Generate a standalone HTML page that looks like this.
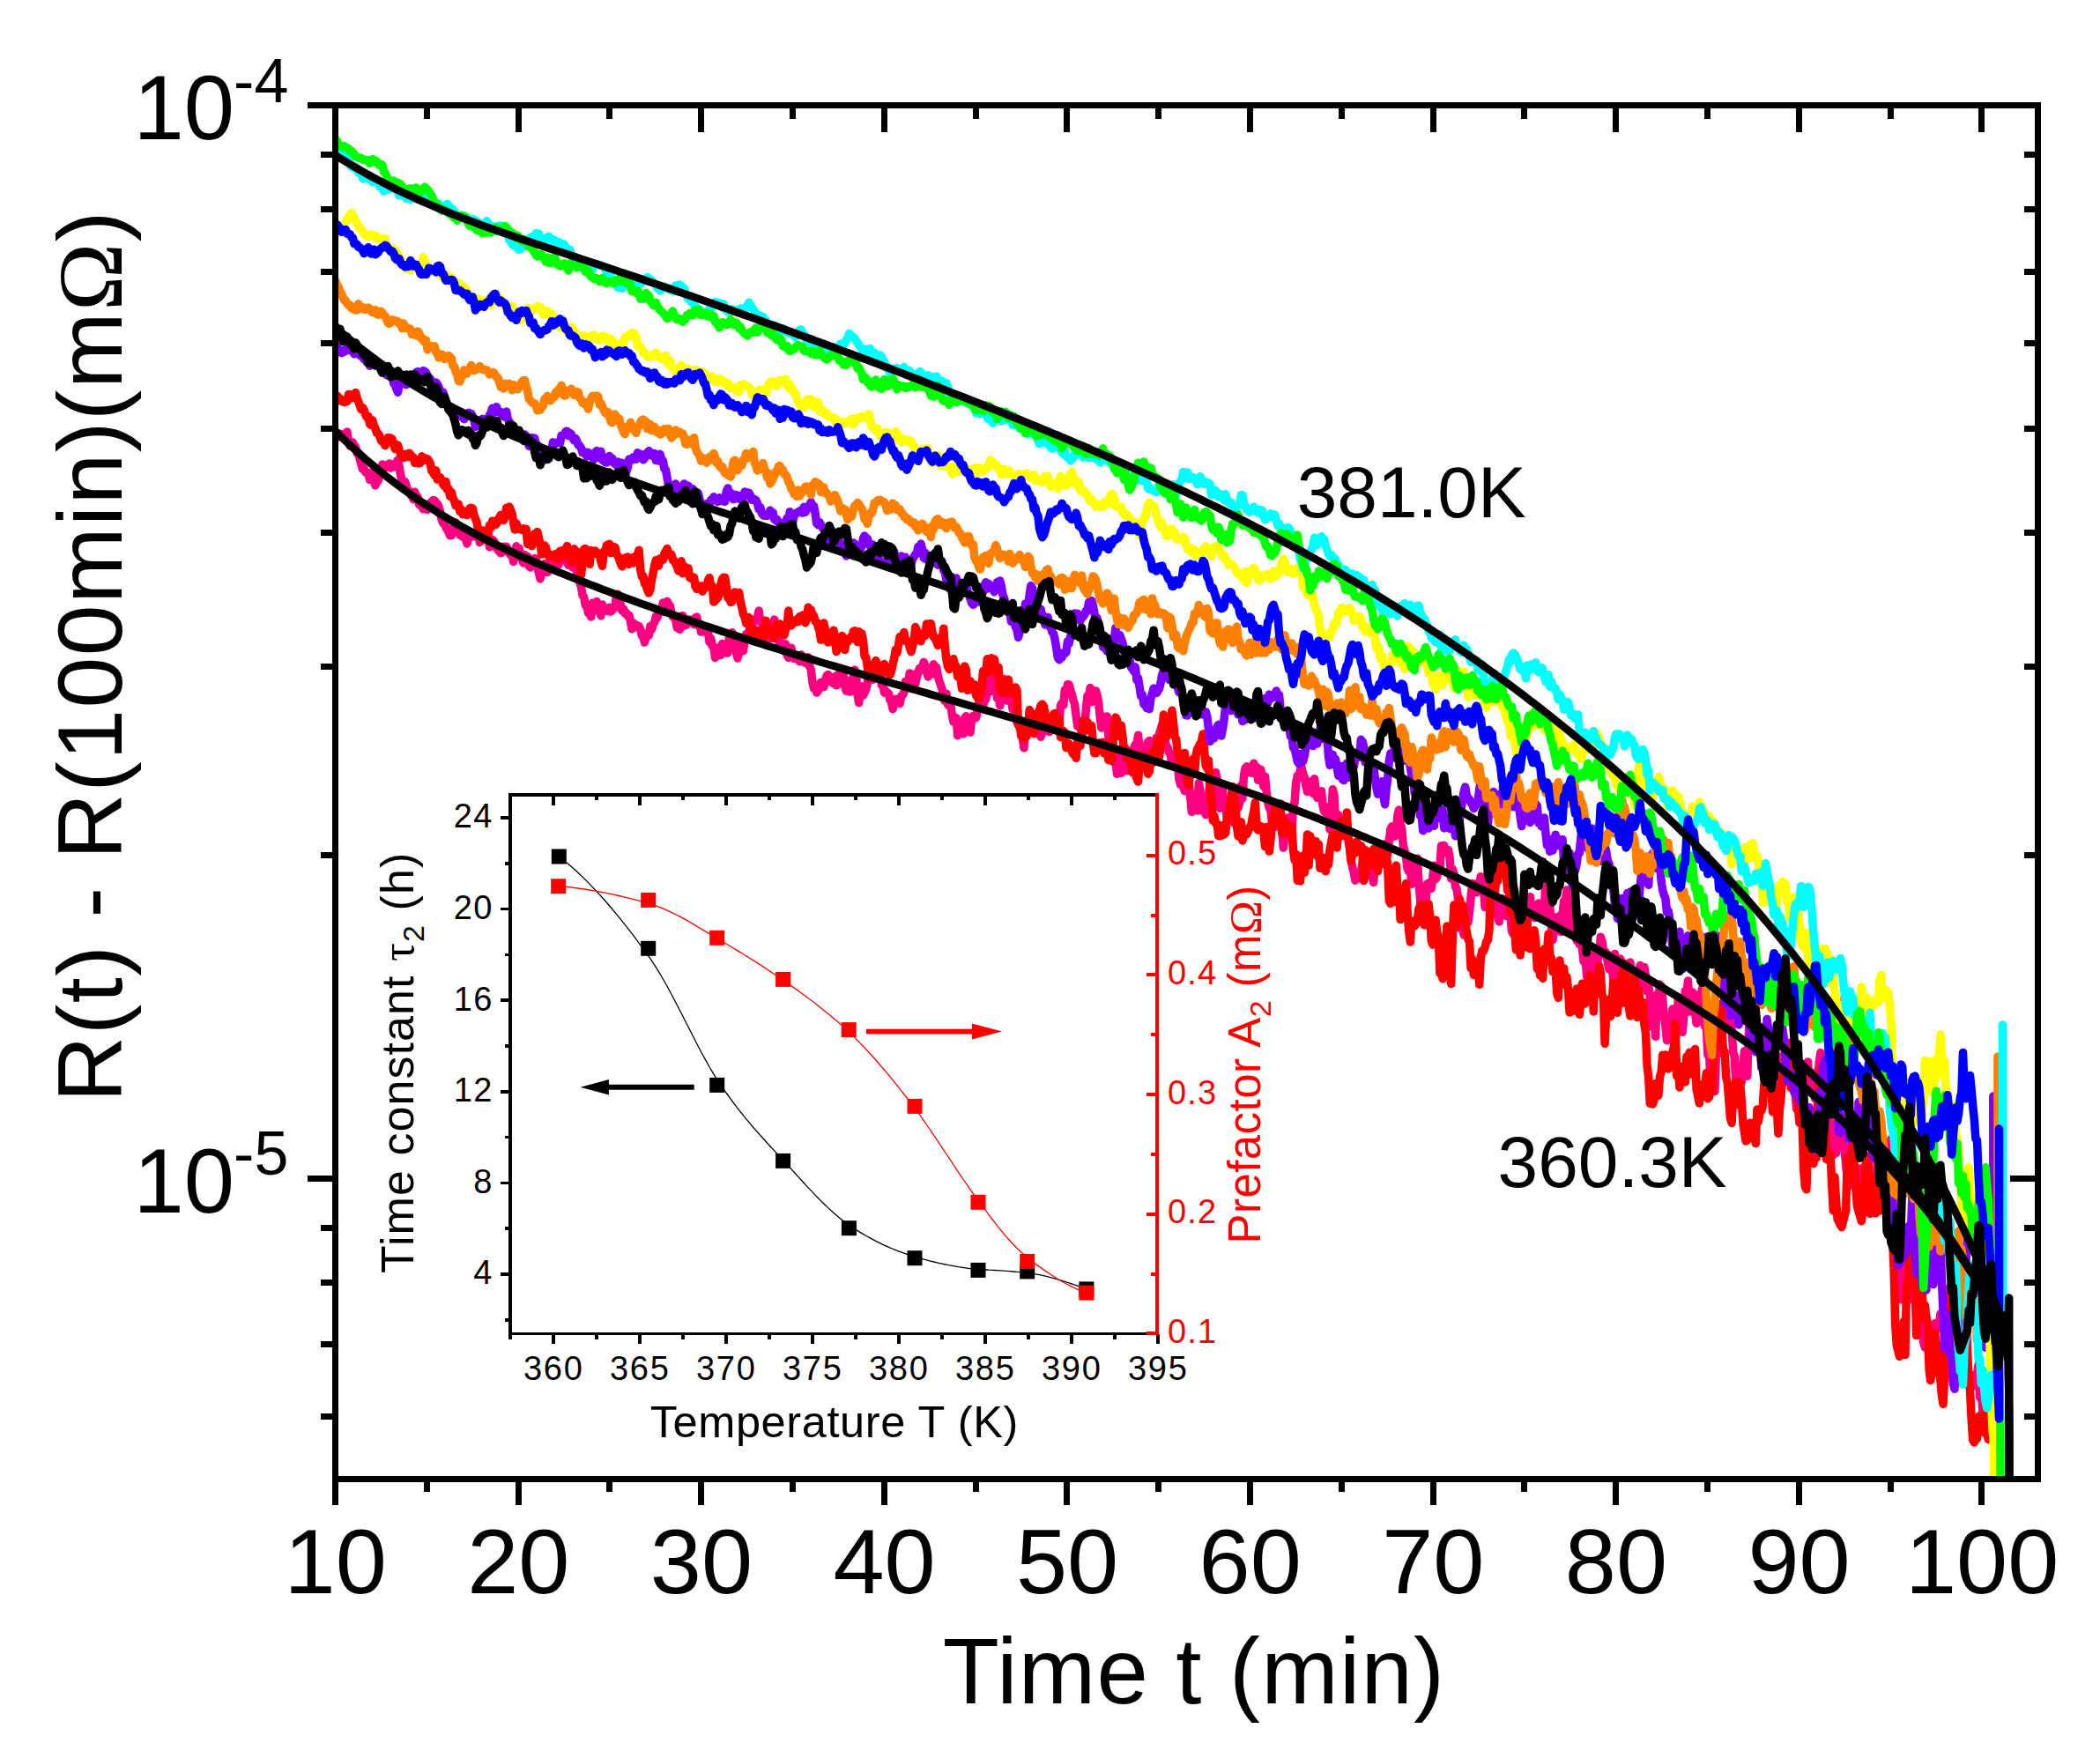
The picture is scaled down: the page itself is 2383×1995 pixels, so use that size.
<!DOCTYPE html>
<html lang="en"><head><meta charset="utf-8"><title>R(t) - R(100min) vs Time</title>
<style>html,body{margin:0;padding:0;background:#fff}svg{display:block}</style></head>
<body>
<svg width="2383" height="1995" viewBox="0 0 2383 1995" role="img" aria-label="Resistance relaxation versus time with inset of time constant and prefactor versus temperature">
<rect width="2383" height="1995" fill="#fff"/>
<defs><clipPath id="cp"><rect x="380.0" y="119.6" width="1932.8" height="1558.4"/></clipPath></defs>
<g clip-path="url(#cp)" fill="none" stroke-width="9.5" stroke-linejoin="round" stroke-linecap="round">
<polyline stroke="#FF0080" points="379.5,492.5 381.1,498.1 382.7,493.1 384.3,491.7 385.9,494.2 387.5,494.3 389.1,492.5 390.7,494.7 392.3,496.9 393.9,490.1 395.5,502.1 397.1,506.1 398.7,504.0 400.3,502.0 401.9,505.9 403.5,507.0 405.1,514.3 406.7,513.9 408.3,521.2 409.9,526.8 411.5,532.3 413.1,531.5 414.7,535.7 416.3,535.9 417.9,536.9 419.5,544.4 421.1,537.5 422.7,535.8 424.3,543.5 425.9,550.9 427.5,546.5 429.1,545.9 430.7,539.8 432.3,535.1 433.9,527.0 435.5,528.3 437.1,531.0 438.7,530.1 440.3,527.2 441.9,526.0 443.5,530.9 445.1,529.1 446.7,529.9 448.3,526.0 449.9,526.0 451.5,521.8 453.1,529.7 454.7,539.9 456.3,545.1 457.9,547.4 459.5,546.6 461.1,551.1 462.7,557.9 464.3,556.8 465.9,561.5 467.5,563.4 469.1,566.5 470.7,558.2 472.3,563.7 473.9,563.8 475.5,572.4 477.1,573.9 478.7,572.7 480.3,577.7 481.9,573.1 483.5,572.1 485.1,578.4 486.7,572.3 488.3,571.8 489.9,568.9 491.5,567.6 493.1,567.7 494.7,570.3 496.3,571.7 497.9,574.7 499.5,580.7 501.1,589.4 502.7,593.6 504.3,593.3 505.9,598.7 507.5,600.8 509.1,604.2 510.7,607.8 512.3,607.6 513.9,599.3 515.5,598.7 517.1,592.8 518.7,599.1 520.3,599.7 521.9,607.2 523.5,604.5 525.1,609.1 526.7,607.7 528.3,610.8 529.9,616.9 531.5,609.4 533.1,609.9 534.7,604.3 536.3,608.4 537.9,607.2 539.5,608.9 541.1,603.8 542.7,601.4 544.3,615.6 545.9,611.3 547.5,607.5 549.1,603.7 550.7,604.0 552.3,607.5 553.9,606.6 555.5,620.9 557.1,619.6 558.7,612.3 560.3,613.6 561.9,617.2 563.5,621.7 565.1,624.2 566.7,626.2 568.3,627.6 569.9,626.6 571.5,620.2 573.1,621.7 574.7,620.3 576.3,623.4 577.9,628.0 579.5,629.9 581.1,630.1 582.7,637.4 584.3,629.9 585.9,619.8 587.5,623.1 589.1,622.1 590.7,628.9 592.3,634.4 593.9,638.9 595.5,629.6 597.1,630.8 598.7,631.4 600.3,642.5 601.9,643.9 603.5,639.4 605.1,642.0 606.7,633.5 608.3,634.6 609.9,642.3 611.5,650.9 613.1,656.9 614.7,650.7 616.3,646.1 617.9,639.6 619.5,649.0 621.1,649.5 622.7,637.8 624.3,642.0 625.9,640.7 627.5,646.0 629.1,644.3 630.7,637.1 632.3,639.8 633.9,640.9 635.5,632.1 637.1,627.5 638.7,624.4 640.3,632.6 641.9,631.6 643.5,638.2 645.1,641.4 646.7,638.9 648.3,641.3 649.9,644.0 651.5,642.1 653.1,644.0 654.7,649.6 656.3,657.5 657.9,661.1 659.5,665.9 661.1,675.8 662.7,677.8 664.3,687.0 665.9,686.4 667.5,695.6 669.1,693.0 670.7,700.1 672.3,684.3 673.9,688.0 675.5,684.7 677.1,682.4 678.7,693.5 680.3,691.5 681.9,698.7 683.5,686.0 685.1,691.6 686.7,692.2 688.3,690.7 689.9,693.7 691.5,689.2 693.1,694.1 694.7,692.6 696.3,690.2 697.9,689.3 699.5,676.4 701.1,674.3 702.7,679.0 704.3,686.7 705.9,693.0 707.5,691.0 709.1,696.0 710.7,695.3 712.3,699.0 713.9,698.2 715.5,705.6 717.1,713.9 718.7,706.8 720.3,710.8 721.9,708.9 723.5,711.9 725.1,710.6 726.7,713.9 728.3,721.1 729.9,722.3 731.5,729.1 733.1,721.6 734.7,718.2 736.3,721.1 737.9,710.6 739.5,714.3 741.1,708.4 742.7,706.5 744.3,699.5 745.9,700.8 747.5,694.8 749.1,691.7 750.7,693.6 752.3,684.1 753.9,693.7 755.5,688.8 757.1,682.4 758.7,685.6 760.3,687.5 761.9,695.2 763.5,700.1 765.1,701.2 766.7,703.7 768.3,712.4 769.9,710.4 771.5,714.4 773.1,699.1 774.7,698.7 776.3,704.3 777.9,709.8 779.5,708.5 781.1,705.7 782.7,702.9 784.3,704.3 785.9,706.3 787.5,708.8 789.1,701.0 790.7,700.1 792.3,710.0 793.9,707.6 795.5,717.1 797.1,711.4 798.7,712.7 800.3,717.3 801.9,713.9 803.5,716.8 805.1,728.8 806.7,725.0 808.3,733.4 809.9,734.0 811.5,746.4 813.1,742.3 814.7,735.1 816.3,742.9 817.9,743.6 819.5,730.5 821.1,732.4 822.7,732.8 824.3,741.0 825.9,740.9 827.5,722.5 829.1,729.7 830.7,717.8 832.3,719.7 833.9,733.0 835.5,741.0 837.1,746.9 838.7,740.3 840.3,736.3 841.9,728.2 843.5,738.5 845.1,726.6 846.7,719.6 848.3,724.4 849.9,716.1 851.5,711.7 853.1,706.8 854.7,706.6 856.3,704.4 857.9,701.6 859.5,701.2 861.1,693.1 862.7,705.3 864.3,703.1 865.9,714.1 867.5,713.0 869.1,711.1 870.7,714.3 872.3,711.4 873.9,724.7 875.5,717.4 877.1,716.3 878.7,703.1 880.3,717.1 881.9,720.5 883.5,726.7 885.1,734.8 886.7,730.3 888.3,731.1 889.9,735.8 891.5,730.8 893.1,743.2 894.7,746.3 896.3,743.7 897.9,735.2 899.5,744.6 901.1,747.5 902.7,744.7 904.3,748.0 905.9,748.5 907.5,750.8 909.1,743.0 910.7,746.4 912.3,750.2 913.9,752.4 915.5,749.1 917.1,745.7 918.7,756.4 920.3,759.9 921.9,773.9 923.5,781.1 925.1,778.7 926.7,786.1 928.3,784.0 929.9,776.2 931.5,774.3 933.1,776.8 934.7,779.7 936.3,774.7 937.9,767.2 939.5,765.4 941.1,767.8 942.7,771.4 944.3,774.6 945.9,775.9 947.5,767.7 949.1,777.8 950.7,765.7 952.3,772.6 953.9,771.5 955.5,775.7 957.1,766.2 958.7,778.4 960.3,784.1 961.9,784.4 963.5,781.6 965.1,784.9 966.7,770.7 968.3,769.8 969.9,760.1 971.5,765.5 973.1,789.0 974.7,797.6 976.3,786.7 977.9,778.9 979.5,789.1 981.1,785.9 982.7,782.3 984.3,775.6 985.9,759.4 987.5,761.4 989.1,770.0 990.7,771.2 992.3,767.3 993.9,768.4 995.5,763.7 997.1,767.5 998.7,761.5 1000.3,777.3 1001.9,776.7 1003.5,786.0 1005.1,784.0 1006.7,787.0 1008.3,786.7 1009.9,794.4 1011.5,796.1 1013.1,804.7 1014.7,797.4 1016.3,793.3 1017.9,795.0 1019.5,795.7 1021.1,798.5 1022.7,789.8 1024.3,788.8 1025.9,785.7 1027.5,773.5 1029.1,773.6 1030.7,774.2 1032.3,763.9 1033.9,769.1 1035.5,769.0 1037.1,765.3 1038.7,775.9 1040.3,768.4 1041.9,763.0 1043.5,758.2 1045.1,760.5 1046.7,755.8 1048.3,751.4 1049.9,754.9 1051.5,760.3 1053.1,768.1 1054.7,766.6 1056.3,762.9 1057.9,758.4 1059.5,753.8 1061.1,765.0 1062.7,757.4 1064.3,766.9 1065.9,772.8 1067.5,777.6 1069.1,782.0 1070.7,792.4 1072.3,795.6 1073.9,787.1 1075.5,799.4 1077.1,801.3 1078.7,798.3 1080.3,810.7 1081.9,819.0 1083.5,814.9 1085.1,814.6 1086.7,834.8 1088.3,831.1 1089.9,823.6 1091.5,821.1 1093.1,832.7 1094.7,815.0 1096.3,812.8 1097.9,822.7 1099.5,825.5 1101.1,831.1 1102.7,814.2 1104.3,812.3 1105.9,812.0 1107.5,814.7 1109.1,806.7 1110.7,796.7 1112.3,798.3 1113.9,791.8 1115.5,803.4 1117.1,791.3 1118.7,793.5 1120.3,785.3 1121.9,786.1 1123.5,772.0 1125.1,770.6 1126.7,771.5 1128.3,767.0 1129.9,778.3 1131.5,792.4 1133.1,786.6 1134.7,800.8 1136.3,789.1 1137.9,783.8 1139.5,770.8 1141.1,779.3 1142.7,795.1 1144.3,778.1 1145.9,790.5 1147.5,795.2 1149.1,805.1 1150.7,797.4 1152.3,814.6 1153.9,819.6 1155.5,814.2 1157.1,826.3 1158.7,827.3 1160.3,837.5 1161.9,848.8 1163.5,827.6 1165.1,827.1 1166.7,825.0 1168.3,808.4 1169.9,821.9 1171.5,817.6 1173.1,827.8 1174.7,832.6 1176.3,824.6 1177.9,809.8 1179.5,827.9 1181.1,836.2 1182.7,831.7 1184.3,819.4 1185.9,813.2 1187.5,814.3 1189.1,827.6 1190.7,830.5 1192.3,826.3 1193.9,818.0 1195.5,819.8 1197.1,815.4 1198.7,813.9 1200.3,817.8 1201.9,818.4 1203.5,800.9 1205.1,797.7 1206.7,800.4 1208.3,783.0 1209.9,784.9 1211.5,776.8 1213.1,777.0 1214.7,783.2 1216.3,787.7 1217.9,794.5 1219.5,799.0 1221.1,812.4 1222.7,824.2 1224.3,825.1 1225.9,822.7 1227.5,834.1 1229.1,830.7 1230.7,823.4 1232.3,805.7 1233.9,789.7 1235.5,792.0 1237.1,780.6 1238.7,796.5 1240.3,785.5 1241.9,784.0 1243.5,783.9 1245.1,789.3 1246.7,797.6 1248.3,814.0 1249.9,826.0 1251.5,818.7 1253.1,813.2 1254.7,815.2 1256.3,813.0 1257.9,835.7 1259.5,847.6 1261.1,840.4 1262.7,841.3 1264.3,865.1 1265.9,861.7 1267.5,878.3 1269.1,857.6 1270.7,866.4 1272.3,877.4 1273.9,858.4 1275.5,850.5 1277.1,861.2 1278.7,874.6 1280.3,852.5 1281.9,862.4 1283.5,852.2 1285.1,858.4 1286.7,848.8 1288.3,844.9 1289.9,846.3 1291.5,834.3 1293.1,850.4 1294.7,846.4 1296.3,851.2 1297.9,852.3 1299.5,853.0 1301.1,847.7 1302.7,842.1 1304.3,840.4 1305.9,848.9 1307.5,853.2 1309.1,842.2 1310.7,847.6 1312.3,837.1 1313.9,840.4 1315.5,832.6 1317.1,827.8 1318.7,822.2 1320.3,831.7 1321.9,840.3 1323.5,845.9 1325.1,848.3 1326.7,854.3 1328.3,856.2 1329.9,867.1 1331.5,870.0 1333.1,858.1 1334.7,858.3 1336.3,865.9 1337.9,884.4 1339.5,890.3 1341.1,874.7 1342.7,892.9 1344.3,897.6 1345.9,895.0 1347.5,883.3 1349.1,886.4 1350.7,904.6 1352.3,921.4 1353.9,902.4 1355.5,906.6 1357.1,910.3 1358.7,920.0 1360.3,888.6 1361.9,896.3 1363.5,919.8 1365.1,916.7 1366.7,910.9 1368.3,924.7 1369.9,922.5 1371.5,904.1 1373.1,886.5 1374.7,890.7 1376.3,880.5 1377.9,886.9 1379.5,876.5 1381.1,884.3 1382.7,900.3 1384.3,917.3 1385.9,915.8 1387.5,896.6 1389.1,917.3 1390.7,916.1 1392.3,926.7 1393.9,922.1 1395.5,923.2 1397.1,923.1 1398.7,922.3 1400.3,934.2 1401.9,916.6 1403.5,913.0 1405.1,916.7 1406.7,910.7 1408.3,891.5 1409.9,905.9 1411.5,879.4 1413.1,871.9 1414.7,869.7 1416.3,873.1 1417.9,876.8 1419.5,875.5 1421.1,877.4 1422.7,866.3 1424.3,877.6 1425.9,870.3 1427.5,885.2 1429.1,875.0 1430.7,873.3 1432.3,882.3 1433.9,892.4 1435.5,881.2 1437.1,897.8 1438.7,910.4 1440.3,916.8 1441.9,919.2 1443.5,933.7 1445.1,929.8 1446.7,938.3 1448.3,927.0 1449.9,917.8 1451.5,922.2 1453.1,931.0 1454.7,939.2 1456.3,962.1 1457.9,945.9 1459.5,941.3 1461.1,928.2 1462.7,927.8 1464.3,951.1 1465.9,942.1 1467.5,916.8 1469.1,910.2 1470.7,888.2 1472.3,880.3 1473.9,882.2 1475.5,873.4 1477.1,871.0 1478.7,878.5 1480.3,881.9 1481.9,891.7 1483.5,898.4 1485.1,892.8 1486.7,886.9 1488.3,894.0 1489.9,900.3 1491.5,883.7 1493.1,896.1 1494.7,905.3 1496.3,900.1 1497.9,905.5 1499.5,897.7 1501.1,914.5 1502.7,920.9 1504.3,922.5 1505.9,916.0 1507.5,925.8 1509.1,941.4 1510.7,927.4 1512.3,895.8 1513.9,901.7 1515.5,936.1 1517.1,934.9 1518.7,924.8 1520.3,948.7 1521.9,937.0 1523.5,941.2 1525.1,946.6 1526.7,947.7 1528.3,938.9 1529.9,953.6 1531.5,962.0 1533.1,975.2 1534.7,984.5 1536.3,990.3 1537.9,999.1 1539.5,993.3 1541.1,991.2 1542.7,996.4 1544.3,990.2 1545.9,980.3 1547.5,966.7 1549.1,964.6 1550.7,979.5 1552.3,980.7 1553.9,974.1 1555.5,984.9 1557.1,995.4 1558.7,1001.5 1560.3,979.6 1561.9,960.3 1563.5,967.7 1565.1,971.8 1566.7,964.7 1568.3,976.2 1569.9,961.2 1571.5,957.8 1573.1,961.8 1574.7,969.5 1576.3,953.6 1577.9,941.0 1579.5,937.9 1581.1,945.9 1582.7,949.2 1584.3,943.1 1585.9,925.4 1587.5,919.0 1589.1,935.2 1590.7,940.3 1592.3,959.5 1593.9,964.9 1595.5,972.3 1597.1,985.9 1598.7,989.1 1600.3,984.7 1601.9,1003.2 1603.5,977.3 1605.1,985.9 1606.7,980.4 1608.3,974.2 1609.9,1000.5 1611.5,1018.8 1613.1,1043.1 1614.7,1021.8 1616.3,1027.2 1617.9,1022.3 1619.5,1003.0 1621.1,1002.0 1622.7,1004.5 1624.3,1008.3 1625.9,994.2 1627.5,982.2 1629.1,997.7 1630.7,994.9 1632.3,985.2 1633.9,986.1 1635.5,959.7 1637.1,966.9 1638.7,959.3 1640.3,966.2 1641.9,967.7 1643.5,964.4 1645.1,973.3 1646.7,997.0 1648.3,986.3 1649.9,991.2 1651.5,1006.4 1653.1,1008.6 1654.7,1021.4 1656.3,1053.0 1657.9,1049.0 1659.5,1050.8 1661.1,1061.1 1662.7,1052.5 1664.3,1048.6 1665.9,1046.8 1667.5,1034.9 1669.1,1017.7 1670.7,1002.4 1672.3,1004.8 1673.9,1003.0 1675.5,1012.8 1677.1,1005.8 1678.7,1004.0 1680.3,994.6 1681.9,1001.0 1683.5,1008.0 1685.1,1029.6 1686.7,1014.9 1688.3,990.9 1689.9,992.3 1691.5,996.9 1693.1,1015.7 1694.7,1015.2 1696.3,1006.4 1697.9,1035.5 1699.5,1039.4 1701.1,1045.9 1702.7,1022.0 1704.3,1019.4 1705.9,1022.4 1707.5,1021.8 1709.1,1039.6 1710.7,1026.9 1712.3,1022.0 1713.9,1037.4 1715.5,1056.8 1717.1,1059.9 1718.7,1051.8 1720.3,1066.1 1721.9,1049.3 1723.5,1046.7 1725.1,1045.6 1726.7,1028.9 1728.3,1056.6 1729.9,1072.7 1731.5,1066.6 1733.1,1040.7 1734.7,1032.2 1736.3,1017.6 1737.9,1035.5 1739.5,1036.9 1741.1,1041.4 1742.7,1041.4 1744.3,1031.0 1745.9,1025.1 1747.5,1035.2 1749.1,1041.6 1750.7,1040.9 1752.3,1035.1 1753.9,999.0 1755.5,1001.1 1757.1,997.8 1758.7,1027.4 1760.3,1050.5 1761.9,1066.6 1763.5,1052.7 1765.1,1041.0 1766.7,1056.0 1768.3,1055.9 1769.9,1039.5 1771.5,1057.5 1773.1,1036.7 1774.7,1022.2 1776.3,1022.7 1777.9,1010.0 1779.5,1049.6 1781.1,1053.5 1782.7,1027.6 1784.3,1044.0 1785.9,1054.5 1787.5,1052.3 1789.1,1067.5 1790.7,1068.5 1792.3,1071.5 1793.9,1064.0 1795.5,1076.9 1797.1,1091.1 1798.7,1082.6 1800.3,1103.6 1801.9,1116.3 1803.5,1115.7 1805.1,1101.2 1806.7,1098.4 1808.3,1082.9 1809.9,1104.7 1811.5,1117.4 1813.1,1088.9 1814.7,1084.8 1816.3,1063.2 1817.9,1067.8 1819.5,1078.0 1821.1,1079.4 1822.7,1081.2 1824.3,1091.9 1825.9,1100.1 1827.5,1084.2 1829.1,1093.2 1830.7,1112.4 1832.3,1082.6 1833.9,1110.7 1835.5,1100.1 1837.1,1115.8 1838.7,1088.0 1840.3,1092.1 1841.9,1110.5 1843.5,1107.4 1845.1,1126.3 1846.7,1119.8 1848.3,1096.4 1849.9,1092.0 1851.5,1105.7 1853.1,1115.3 1854.7,1129.8 1856.3,1129.0 1857.9,1117.2 1859.5,1117.1 1861.1,1095.5 1862.7,1097.7 1864.3,1118.3 1865.9,1097.6 1867.5,1107.2 1869.1,1125.1 1870.7,1119.1 1872.3,1128.9 1873.9,1164.3 1875.5,1165.9 1877.1,1162.0 1878.7,1176.4 1880.3,1128.5 1881.9,1137.9 1883.5,1117.0 1885.1,1119.0 1886.7,1134.7 1888.3,1152.2 1889.9,1164.4 1891.5,1180.7 1893.1,1176.8 1894.7,1171.2 1896.3,1173.3 1897.9,1145.0 1899.5,1176.5 1901.1,1153.7 1902.7,1172.9 1904.3,1133.0 1905.9,1142.0 1907.5,1144.6 1909.1,1171.2 1910.7,1153.5 1912.3,1124.5 1913.9,1129.1 1915.5,1112.9 1917.1,1148.0 1918.7,1139.8 1920.3,1125.8 1921.9,1135.1 1923.5,1149.4 1925.1,1161.3 1926.7,1152.9 1928.3,1128.3 1929.9,1136.3 1931.5,1121.7 1933.1,1150.3 1934.7,1164.9 1936.3,1161.7 1937.9,1197.4 1939.5,1195.4 1941.1,1227.1 1942.7,1216.0 1944.3,1212.7 1945.9,1238.4 1947.5,1195.5 1949.1,1172.0 1950.7,1193.0 1952.3,1195.5 1953.9,1166.9 1955.5,1167.6 1957.1,1163.0 1958.7,1156.9 1960.3,1109.1 1961.9,1145.1 1963.5,1147.3 1965.1,1168.3 1966.7,1194.2 1968.3,1198.9 1969.9,1231.9 1971.5,1234.9 1973.1,1240.0 1974.7,1228.4 1976.3,1227.8 1977.9,1209.8 1979.5,1192.7 1981.1,1200.0 1982.7,1221.2 1984.3,1174.4 1985.9,1145.8 1987.5,1149.9 1989.1,1139.4 1990.7,1162.1 1992.3,1151.6 1993.9,1174.9 1995.5,1179.1 1997.1,1191.1 1998.7,1174.9 2000.3,1165.9 2001.9,1166.7 2003.5,1177.3 2005.1,1183.7 2006.7,1213.4 2008.3,1226.1 2009.9,1227.0 2011.5,1229.8 2013.1,1209.0 2014.7,1221.5 2016.3,1253.8 2017.9,1232.5 2019.5,1219.6 2021.1,1219.0 2022.7,1198.4 2024.3,1221.7 2025.9,1226.5 2027.5,1203.5 2029.1,1189.6 2030.7,1210.2 2032.3,1217.4 2033.9,1212.7 2035.5,1238.8 2037.1,1241.1 2038.7,1258.6 2040.3,1229.5 2041.9,1225.4 2043.5,1231.7 2045.1,1258.2 2046.7,1238.0 2048.3,1234.6 2049.9,1223.8 2051.5,1205.0 2053.1,1230.2 2054.7,1227.2 2056.3,1221.6 2057.9,1217.5 2059.5,1246.8 2061.1,1231.6 2062.7,1223.8 2064.3,1205.1 2065.9,1194.6 2067.5,1216.5 2069.1,1268.0 2070.7,1267.7 2072.3,1263.7 2073.9,1275.1 2075.5,1268.1 2077.1,1276.6 2078.7,1309.5 2080.3,1310.7 2081.9,1294.3 2083.5,1308.7 2085.1,1290.6 2086.7,1277.5 2088.3,1278.8 2089.9,1297.1 2091.5,1294.3 2093.1,1304.4 2094.7,1322.5 2096.3,1335.9 2097.9,1338.3 2099.5,1340.7 2101.1,1343.1 2102.7,1345.5 2104.3,1342.6 2105.9,1341.2 2107.5,1342.4 2109.1,1328.1 2110.7,1326.0 2112.3,1343.7 2113.9,1342.3 2115.5,1361.8 2117.1,1368.4 2118.7,1364.7 2120.3,1355.3 2121.9,1335.9 2123.5,1350.6 2125.1,1364.8 2126.7,1358.9 2128.3,1330.1 2129.9,1330.2 2131.5,1293.5 2133.1,1350.0 2134.7,1361.4 2136.3,1343.1 2137.9,1353.6 2139.5,1320.8 2141.1,1299.0 2142.7,1301.3 2144.3,1300.9 2145.9,1292.8 2147.5,1350.9 2149.1,1400.5 2150.7,1453.6 2152.3,1465.2 2153.9,1468.4 2155.5,1471.6 2157.1,1474.8 2158.7,1457.1 2160.3,1428.8 2161.9,1413.4 2163.5,1422.3 2165.1,1414.2 2166.7,1462.5 2168.3,1439.2 2169.9,1466.5 2171.5,1475.8 2173.1,1472.9 2174.7,1494.1 2176.3,1502.4 2177.9,1494.5 2179.5,1508.4 2181.1,1506.0 2182.7,1523.7 2184.3,1529.0 2185.9,1525.8 2187.5,1521.8 2189.1,1517.8 2190.7,1513.8 2192.3,1509.8 2193.9,1505.8 2195.5,1501.8 2197.1,1504.2 2198.7,1508.2 2200.3,1504.9 2201.9,1491.0 2203.5,1490.0 2205.1,1506.8 2206.7,1507.0 2208.3,1524.7 2209.9,1534.5 2211.5,1540.2 2213.1,1543.5 2214.7,1527.2 2216.3,1566.7 2217.9,1564.4 2219.5,1543.4 2221.1,1519.4 2222.7,1533.3 2224.3,1523.4 2225.9,1525.3 2227.5,1551.8 2229.1,1555.8 2230.7,1559.8 2232.3,1563.8 2233.9,1561.0 2235.5,1568.0 2237.1,1567.4 2238.7,1560.6 2240.3,1572.5 2241.9,1568.5 2243.5,1559.9 2245.1,1548.4 2246.7,1585.9 2248.3,1567.7 2249.9,1606.1 2251.5,1576.7 2253.1,1557.3 2254.7,1571.4 2258.0,1560.0"/>
<polyline stroke="#FF0000" points="379.5,452.5 381.1,455.8 382.7,449.1 384.3,451.2 385.9,452.3 387.5,455.2 389.1,455.8 390.7,456.5 392.3,454.1 393.9,455.4 395.5,447.4 397.1,447.9 398.7,451.8 400.3,449.5 401.9,447.6 403.5,445.4 405.1,451.3 406.7,455.9 408.3,460.1 409.9,464.6 411.5,462.5 413.1,465.0 414.7,470.4 416.3,473.4 417.9,472.3 419.5,481.0 421.1,482.5 422.7,476.9 424.3,483.0 425.9,485.9 427.5,491.4 429.1,492.0 430.7,494.7 432.3,499.6 433.9,501.4 435.5,501.9 437.1,505.7 438.7,501.1 440.3,496.6 441.9,500.1 443.5,497.1 445.1,498.3 446.7,504.7 448.3,509.5 449.9,504.6 451.5,505.0 453.1,511.7 454.7,515.1 456.3,517.5 457.9,519.6 459.5,515.2 461.1,517.5 462.7,518.6 464.3,514.2 465.9,516.1 467.5,519.6 469.1,518.9 470.7,525.5 472.3,525.0 473.9,524.5 475.5,526.0 477.1,525.3 478.7,517.8 480.3,520.7 481.9,519.7 483.5,522.3 485.1,520.8 486.7,523.0 488.3,526.0 489.9,534.7 491.5,535.7 493.1,539.4 494.7,533.7 496.3,544.1 497.9,543.3 499.5,541.7 501.1,544.5 502.7,549.7 504.3,551.5 505.9,546.4 507.5,555.7 509.1,554.8 510.7,563.3 512.3,558.4 513.9,565.2 515.5,568.4 517.1,573.9 518.7,571.7 520.3,572.1 521.9,580.5 523.5,578.0 525.1,583.6 526.7,583.3 528.3,581.6 529.9,584.6 531.5,579.9 533.1,576.8 534.7,576.2 536.3,577.0 537.9,584.6 539.5,588.7 541.1,592.5 542.7,602.4 544.3,602.8 545.9,602.2 547.5,602.1 549.1,612.8 550.7,609.9 552.3,609.3 553.9,605.5 555.5,595.9 557.1,598.9 558.7,591.2 560.3,591.3 561.9,595.6 563.5,594.4 565.1,589.6 566.7,587.2 568.3,584.4 569.9,588.0 571.5,590.5 573.1,585.5 574.7,576.3 576.3,579.9 577.9,575.1 579.5,578.8 581.1,582.7 582.7,593.9 584.3,601.1 585.9,593.9 587.5,598.0 589.1,600.3 590.7,599.8 592.3,601.5 593.9,599.7 595.5,601.1 597.1,600.3 598.7,617.5 600.3,617.0 601.9,614.3 603.5,619.7 605.1,612.5 606.7,605.5 608.3,609.3 609.9,603.5 611.5,610.8 613.1,618.2 614.7,629.1 616.3,624.5 617.9,618.9 619.5,621.2 621.1,628.8 622.7,631.3 624.3,629.2 625.9,631.7 627.5,631.6 629.1,630.1 630.7,628.6 632.3,634.5 633.9,630.4 635.5,625.3 637.1,632.1 638.7,627.4 640.3,630.6 641.9,626.6 643.5,619.6 645.1,629.5 646.7,627.5 648.3,638.8 649.9,625.4 651.5,622.8 653.1,628.6 654.7,626.1 656.3,633.3 657.9,636.3 659.5,652.3 661.1,636.9 662.7,623.1 664.3,622.5 665.9,624.4 667.5,628.1 669.1,640.3 670.7,624.4 672.3,629.2 673.9,627.8 675.5,625.1 677.1,628.7 678.7,627.8 680.3,628.4 681.9,637.3 683.5,642.3 685.1,625.8 686.7,627.4 688.3,618.9 689.9,618.2 691.5,617.3 693.1,627.6 694.7,626.0 696.3,620.5 697.9,620.8 699.5,628.1 701.1,630.8 702.7,634.5 704.3,639.7 705.9,642.7 707.5,636.6 709.1,633.1 710.7,639.2 712.3,631.9 713.9,640.4 715.5,636.1 717.1,633.1 718.7,638.9 720.3,631.7 721.9,632.0 723.5,628.8 725.1,624.2 726.7,646.3 728.3,654.3 729.9,653.9 731.5,662.5 733.1,663.9 734.7,669.3 736.3,673.0 737.9,668.7 739.5,658.2 741.1,650.4 742.7,642.0 744.3,635.7 745.9,638.4 747.5,642.1 749.1,633.7 750.7,633.8 752.3,635.4 753.9,628.1 755.5,625.7 757.1,622.5 758.7,630.1 760.3,629.9 761.9,629.2 763.5,635.9 765.1,636.5 766.7,639.3 768.3,643.1 769.9,647.9 771.5,641.5 773.1,636.7 774.7,650.7 776.3,642.5 777.9,646.2 779.5,644.6 781.1,644.9 782.7,655.4 784.3,656.4 785.9,656.2 787.5,655.1 789.1,665.7 790.7,668.4 792.3,666.3 793.9,665.1 795.5,664.9 797.1,671.2 798.7,667.2 800.3,667.3 801.9,666.1 803.5,658.5 805.1,655.6 806.7,666.9 808.3,664.8 809.9,683.0 811.5,681.9 813.1,679.7 814.7,678.2 816.3,674.3 817.9,663.2 819.5,657.0 821.1,655.3 822.7,655.4 824.3,665.5 825.9,678.5 827.5,677.6 829.1,683.5 830.7,682.8 832.3,673.5 833.9,671.9 835.5,676.2 837.1,674.3 838.7,672.6 840.3,683.2 841.9,689.5 843.5,697.3 845.1,700.2 846.7,707.4 848.3,700.4 849.9,700.9 851.5,711.8 853.1,724.8 854.7,723.4 856.3,715.0 857.9,714.9 859.5,716.6 861.1,716.1 862.7,729.5 864.3,717.4 865.9,730.5 867.5,712.5 869.1,704.3 870.7,718.3 872.3,715.0 873.9,713.5 875.5,714.1 877.1,712.8 878.7,724.2 880.3,715.4 881.9,708.6 883.5,717.2 885.1,708.0 886.7,711.4 888.3,714.3 889.9,720.9 891.5,714.5 893.1,711.3 894.7,693.1 896.3,707.7 897.9,709.9 899.5,704.2 901.1,705.7 902.7,706.2 904.3,702.6 905.9,705.5 907.5,699.5 909.1,702.0 910.7,698.0 912.3,702.1 913.9,706.8 915.5,702.4 917.1,689.3 918.7,692.4 920.3,692.3 921.9,697.5 923.5,698.8 925.1,705.1 926.7,706.1 928.3,711.1 929.9,715.6 931.5,725.9 933.1,726.0 934.7,706.9 936.3,714.0 937.9,719.9 939.5,728.9 941.1,728.6 942.7,720.4 944.3,726.3 945.9,715.2 947.5,723.7 949.1,739.5 950.7,735.8 952.3,724.4 953.9,723.3 955.5,721.6 957.1,725.9 958.7,737.5 960.3,726.3 961.9,728.5 963.5,724.2 965.1,723.1 966.7,725.1 968.3,716.6 969.9,715.7 971.5,719.9 973.1,728.5 974.7,716.7 976.3,721.6 977.9,718.9 979.5,726.9 981.1,744.9 982.7,745.7 984.3,756.4 985.9,769.5 987.5,754.5 989.1,758.0 990.7,765.0 992.3,752.9 993.9,749.5 995.5,757.6 997.1,759.6 998.7,763.9 1000.3,754.9 1001.9,755.3 1003.5,753.6 1005.1,762.7 1006.7,760.7 1008.3,764.2 1009.9,765.8 1011.5,761.7 1013.1,753.8 1014.7,746.8 1016.3,737.3 1017.9,741.2 1019.5,732.4 1021.1,722.6 1022.7,724.7 1024.3,723.8 1025.9,717.5 1027.5,727.5 1029.1,726.8 1030.7,728.6 1032.3,735.2 1033.9,739.8 1035.5,733.5 1037.1,727.7 1038.7,711.6 1040.3,715.2 1041.9,725.5 1043.5,725.7 1045.1,727.7 1046.7,719.1 1048.3,720.3 1049.9,721.5 1051.5,708.0 1053.1,711.9 1054.7,707.7 1056.3,707.7 1057.9,717.2 1059.5,723.1 1061.1,724.2 1062.7,728.1 1064.3,732.4 1065.9,726.4 1067.5,723.4 1069.1,726.3 1070.7,713.2 1072.3,733.8 1073.9,748.4 1075.5,756.3 1077.1,759.5 1078.7,756.3 1080.3,749.6 1081.9,747.6 1083.5,755.8 1085.1,756.2 1086.7,767.9 1088.3,765.0 1089.9,768.8 1091.5,781.4 1093.1,770.5 1094.7,756.0 1096.3,760.2 1097.9,783.3 1099.5,773.0 1101.1,773.1 1102.7,778.3 1104.3,783.2 1105.9,776.9 1107.5,789.0 1109.1,791.5 1110.7,793.2 1112.3,786.1 1113.9,782.5 1115.5,761.5 1117.1,764.3 1118.7,764.8 1120.3,747.8 1121.9,761.7 1123.5,749.9 1125.1,746.7 1126.7,750.3 1128.3,747.9 1129.9,759.7 1131.5,765.5 1133.1,757.4 1134.7,781.1 1136.3,785.7 1137.9,773.8 1139.5,772.7 1141.1,786.8 1142.7,784.8 1144.3,771.1 1145.9,785.1 1147.5,782.3 1149.1,785.7 1150.7,788.3 1152.3,780.0 1153.9,783.1 1155.5,823.1 1157.1,819.8 1158.7,835.0 1160.3,834.3 1161.9,838.4 1163.5,836.5 1165.1,835.7 1166.7,822.5 1168.3,805.5 1169.9,808.7 1171.5,828.4 1173.1,832.4 1174.7,828.2 1176.3,817.8 1177.9,809.4 1179.5,806.1 1181.1,800.3 1182.7,799.2 1184.3,801.3 1185.9,809.1 1187.5,825.9 1189.1,815.4 1190.7,823.3 1192.3,816.1 1193.9,826.2 1195.5,810.4 1197.1,809.5 1198.7,816.3 1200.3,830.0 1201.9,815.1 1203.5,836.6 1205.1,833.3 1206.7,829.5 1208.3,831.1 1209.9,848.7 1211.5,844.4 1213.1,844.3 1214.7,849.1 1216.3,852.6 1217.9,855.8 1219.5,853.4 1221.1,860.3 1222.7,842.1 1224.3,839.9 1225.9,846.4 1227.5,834.4 1229.1,818.0 1230.7,829.4 1232.3,821.1 1233.9,819.3 1235.5,828.6 1237.1,829.7 1238.7,823.6 1240.3,842.3 1241.9,854.6 1243.5,854.7 1245.1,850.8 1246.7,846.1 1248.3,842.7 1249.9,847.1 1251.5,842.3 1253.1,855.1 1254.7,854.8 1256.3,852.6 1257.9,862.5 1259.5,843.3 1261.1,863.5 1262.7,846.0 1264.3,826.3 1265.9,814.1 1267.5,817.1 1269.1,835.3 1270.7,833.8 1272.3,823.3 1273.9,835.7 1275.5,852.8 1277.1,849.4 1278.7,860.1 1280.3,858.0 1281.9,857.6 1283.5,867.2 1285.1,876.7 1286.7,862.7 1288.3,877.4 1289.9,883.4 1291.5,887.1 1293.1,866.5 1294.7,865.7 1296.3,870.5 1297.9,858.0 1299.5,870.2 1301.1,871.2 1302.7,878.3 1304.3,875.5 1305.9,858.8 1307.5,853.3 1309.1,865.3 1310.7,860.1 1312.3,847.0 1313.9,839.2 1315.5,858.8 1317.1,848.1 1318.7,835.9 1320.3,811.1 1321.9,817.1 1323.5,836.6 1325.1,813.3 1326.7,833.4 1328.3,828.9 1329.9,806.3 1331.5,819.6 1333.1,836.0 1334.7,839.0 1336.3,854.4 1337.9,859.8 1339.5,862.1 1341.1,866.2 1342.7,865.3 1344.3,854.4 1345.9,870.2 1347.5,886.8 1349.1,891.5 1350.7,874.6 1352.3,867.1 1353.9,861.2 1355.5,878.0 1357.1,857.3 1358.7,849.8 1360.3,847.4 1361.9,844.2 1363.5,840.9 1365.1,833.0 1366.7,852.8 1368.3,869.3 1369.9,872.2 1371.5,863.0 1373.1,894.4 1374.7,907.3 1376.3,931.3 1377.9,925.7 1379.5,934.4 1381.1,935.2 1382.7,948.6 1384.3,936.5 1385.9,948.4 1387.5,937.1 1389.1,947.0 1390.7,945.4 1392.3,927.4 1393.9,926.3 1395.5,913.7 1397.1,904.9 1398.7,892.7 1400.3,907.1 1401.9,914.0 1403.5,938.4 1405.1,949.0 1406.7,939.5 1408.3,932.8 1409.9,954.0 1411.5,947.6 1413.1,944.8 1414.7,946.8 1416.3,943.2 1417.9,938.8 1419.5,938.9 1421.1,928.5 1422.7,921.1 1424.3,910.7 1425.9,934.9 1427.5,942.0 1429.1,940.3 1430.7,937.5 1432.3,941.4 1433.9,943.4 1435.5,960.8 1437.1,938.4 1438.7,959.2 1440.3,966.1 1441.9,953.4 1443.5,933.7 1445.1,923.8 1446.7,916.3 1448.3,921.0 1449.9,923.0 1451.5,936.1 1453.1,911.9 1454.7,945.9 1456.3,945.6 1457.9,931.1 1459.5,934.5 1461.1,945.5 1462.7,938.3 1464.3,944.6 1465.9,937.3 1467.5,964.7 1469.1,976.0 1470.7,969.3 1472.3,999.3 1473.9,998.4 1475.5,1000.1 1477.1,974.3 1478.7,971.1 1480.3,990.2 1481.9,980.1 1483.5,947.0 1485.1,982.1 1486.7,948.7 1488.3,954.0 1489.9,956.0 1491.5,954.4 1493.1,954.6 1494.7,971.7 1496.3,958.3 1497.9,985.3 1499.5,978.8 1501.1,974.5 1502.7,973.4 1504.3,988.7 1505.9,973.6 1507.5,981.3 1509.1,964.2 1510.7,955.7 1512.3,947.1 1513.9,947.3 1515.5,946.0 1517.1,962.1 1518.7,945.1 1520.3,947.6 1521.9,932.2 1523.5,931.5 1525.1,948.5 1526.7,938.7 1528.3,922.0 1529.9,947.9 1531.5,960.8 1533.1,977.3 1534.7,968.4 1536.3,969.2 1537.9,967.6 1539.5,955.1 1541.1,966.8 1542.7,962.5 1544.3,959.6 1545.9,962.5 1547.5,999.4 1549.1,992.0 1550.7,965.7 1552.3,969.2 1553.9,976.0 1555.5,969.6 1557.1,981.7 1558.7,963.4 1560.3,966.0 1561.9,982.3 1563.5,988.7 1565.1,963.9 1566.7,975.6 1568.3,971.7 1569.9,980.4 1571.5,978.4 1573.1,966.5 1574.7,983.3 1576.3,1022.2 1577.9,1025.5 1579.5,1015.0 1581.1,1023.8 1582.7,990.3 1584.3,982.1 1585.9,1009.4 1587.5,1007.4 1589.1,1043.5 1590.7,1036.4 1592.3,1020.3 1593.9,1027.8 1595.5,1002.6 1597.1,1034.9 1598.7,1055.7 1600.3,1069.0 1601.9,1045.0 1603.5,1050.2 1605.1,1051.2 1606.7,1048.8 1608.3,1044.5 1609.9,1031.3 1611.5,1027.5 1613.1,1027.0 1614.7,1038.7 1616.3,1049.8 1617.9,1041.4 1619.5,1038.8 1621.1,1026.0 1622.7,1040.6 1624.3,1068.0 1625.9,1072.1 1627.5,1060.6 1629.1,1044.1 1630.7,1057.8 1632.3,1063.0 1633.9,1104.6 1635.5,1101.3 1637.1,1110.7 1638.7,1084.0 1640.3,1078.7 1641.9,1051.1 1643.5,1068.7 1645.1,1074.4 1646.7,1116.4 1648.3,1062.0 1649.9,1027.1 1651.5,1050.4 1653.1,1050.4 1654.7,1032.7 1656.3,1020.3 1657.9,1034.7 1659.5,1027.0 1661.1,1035.1 1662.7,1046.4 1664.3,1057.7 1665.9,1065.9 1667.5,1068.5 1669.1,1098.7 1670.7,1088.5 1672.3,1106.4 1673.9,1102.8 1675.5,1103.6 1677.1,1097.2 1678.7,1117.2 1680.3,1086.5 1681.9,1078.9 1683.5,1079.4 1685.1,1074.8 1686.7,1068.4 1688.3,1067.2 1689.9,1055.9 1691.5,1014.8 1693.1,1005.9 1694.7,1006.0 1696.3,1009.6 1697.9,1002.0 1699.5,1000.3 1701.1,977.1 1702.7,957.6 1704.3,958.8 1705.9,968.2 1707.5,991.1 1709.1,993.5 1710.7,1010.7 1712.3,1008.7 1713.9,1035.3 1715.5,1004.4 1717.1,1017.3 1718.7,1054.8 1720.3,1077.8 1721.9,1049.2 1723.5,1042.0 1725.1,1084.1 1726.7,1063.5 1728.3,1073.4 1729.9,1074.8 1731.5,1065.6 1733.1,1045.7 1734.7,1075.6 1736.3,1076.6 1737.9,1069.2 1739.5,1057.5 1741.1,1055.7 1742.7,1069.1 1744.3,1099.2 1745.9,1086.3 1747.5,1107.0 1749.1,1098.9 1750.7,1110.2 1752.3,1077.1 1753.9,1090.3 1755.5,1081.0 1757.1,1059.9 1758.7,1082.9 1760.3,1087.6 1761.9,1102.9 1763.5,1101.7 1765.1,1098.2 1766.7,1126.7 1768.3,1132.3 1769.9,1090.1 1771.5,1114.4 1773.1,1105.6 1774.7,1098.9 1776.3,1117.9 1777.9,1108.6 1779.5,1123.2 1781.1,1149.0 1782.7,1148.2 1784.3,1147.4 1785.9,1146.6 1787.5,1134.7 1789.1,1122.0 1790.7,1144.8 1792.3,1151.3 1793.9,1138.3 1795.5,1116.2 1797.1,1136.8 1798.7,1139.0 1800.3,1116.8 1801.9,1125.2 1803.5,1106.6 1805.1,1109.1 1806.7,1114.7 1808.3,1148.0 1809.9,1110.1 1811.5,1111.8 1813.1,1109.3 1814.7,1096.4 1816.3,1104.0 1817.9,1129.1 1819.5,1132.8 1821.1,1184.2 1822.7,1148.5 1824.3,1134.6 1825.9,1145.3 1827.5,1153.5 1829.1,1138.9 1830.7,1114.6 1832.3,1136.2 1833.9,1144.3 1835.5,1149.2 1837.1,1123.6 1838.7,1129.1 1840.3,1105.1 1841.9,1138.0 1843.5,1093.6 1845.1,1123.4 1846.7,1136.9 1848.3,1142.4 1849.9,1153.0 1851.5,1145.9 1853.1,1148.9 1854.7,1106.2 1856.3,1142.1 1857.9,1154.4 1859.5,1122.7 1861.1,1139.1 1862.7,1153.7 1864.3,1137.4 1865.9,1163.0 1867.5,1172.3 1869.1,1209.6 1870.7,1222.1 1872.3,1252.2 1873.9,1240.2 1875.5,1253.0 1877.1,1247.6 1878.7,1229.6 1880.3,1244.0 1881.9,1243.2 1883.5,1221.9 1885.1,1216.6 1886.7,1197.2 1888.3,1198.8 1889.9,1196.9 1891.5,1209.6 1893.1,1213.0 1894.7,1211.8 1896.3,1203.8 1897.9,1194.0 1899.5,1187.7 1901.1,1161.7 1902.7,1221.0 1904.3,1209.5 1905.9,1233.9 1907.5,1210.3 1909.1,1211.9 1910.7,1228.2 1912.3,1227.9 1913.9,1199.0 1915.5,1212.5 1917.1,1194.3 1918.7,1219.1 1920.3,1209.1 1921.9,1207.5 1923.5,1190.4 1925.1,1236.3 1926.7,1244.1 1928.3,1252.1 1929.9,1231.1 1931.5,1234.1 1933.1,1241.7 1934.7,1232.6 1936.3,1217.7 1937.9,1246.8 1939.5,1245.0 1941.1,1228.4 1942.7,1239.3 1944.3,1199.6 1945.9,1174.3 1947.5,1165.3 1949.1,1155.8 1950.7,1157.6 1952.3,1139.3 1953.9,1167.7 1955.5,1192.8 1957.1,1193.4 1958.7,1222.7 1960.3,1229.0 1961.9,1248.9 1963.5,1269.4 1965.1,1274.4 1966.7,1236.7 1968.3,1240.5 1969.9,1227.7 1971.5,1253.7 1973.1,1237.9 1974.7,1229.0 1976.3,1249.4 1977.9,1274.7 1979.5,1284.8 1981.1,1294.9 1982.7,1293.9 1984.3,1287.6 1985.9,1274.2 1987.5,1283.2 1989.1,1280.3 1990.7,1289.5 1992.3,1297.6 1993.9,1259.0 1995.5,1272.5 1997.1,1260.5 1998.7,1260.7 2000.3,1255.3 2001.9,1229.3 2003.5,1216.7 2005.1,1232.1 2006.7,1238.6 2008.3,1233.9 2009.9,1234.0 2011.5,1261.8 2013.1,1258.4 2014.7,1234.5 2016.3,1257.7 2017.9,1286.3 2019.5,1258.6 2021.1,1244.4 2022.7,1221.8 2024.3,1219.3 2025.9,1192.7 2027.5,1207.3 2029.1,1183.4 2030.7,1195.8 2032.3,1234.6 2033.9,1188.9 2035.5,1220.1 2037.1,1229.4 2038.7,1236.5 2040.3,1255.0 2041.9,1274.1 2043.5,1263.0 2045.1,1274.1 2046.7,1326.7 2048.3,1346.4 2049.9,1349.8 2051.5,1294.1 2053.1,1294.9 2054.7,1314.5 2056.3,1307.4 2057.9,1320.5 2059.5,1295.5 2061.1,1314.0 2062.7,1252.9 2064.3,1226.3 2065.9,1213.4 2067.5,1264.9 2069.1,1233.1 2070.7,1253.2 2072.3,1315.1 2073.9,1316.0 2075.5,1314.5 2077.1,1309.7 2078.7,1344.5 2080.3,1373.8 2081.9,1335.8 2083.5,1361.5 2085.1,1383.4 2086.7,1386.6 2088.3,1389.8 2089.9,1392.6 2091.5,1386.2 2093.1,1379.8 2094.7,1373.4 2096.3,1313.4 2097.9,1315.4 2099.5,1318.0 2101.1,1314.6 2102.7,1278.5 2104.3,1324.8 2105.9,1351.7 2107.5,1369.0 2109.1,1374.6 2110.7,1380.2 2112.3,1385.8 2113.9,1370.9 2115.5,1341.6 2117.1,1320.6 2118.7,1322.1 2120.3,1312.1 2121.9,1377.2 2123.5,1337.2 2125.1,1364.4 2126.7,1354.5 2128.3,1376.9 2129.9,1335.7 2131.5,1344.1 2133.1,1374.0 2134.7,1372.0 2136.3,1368.6 2137.9,1317.7 2139.5,1307.5 2141.1,1308.0 2142.7,1346.5 2144.3,1376.4 2145.9,1365.3 2147.5,1404.5 2149.1,1439.6 2150.7,1503.2 2152.3,1526.8 2153.9,1533.0 2155.5,1539.3 2157.1,1536.9 2158.7,1537.6 2160.3,1499.8 2161.9,1537.4 2163.5,1460.2 2165.1,1455.0 2166.7,1427.4 2168.3,1436.1 2169.9,1406.8 2171.5,1427.6 2173.1,1445.4 2174.7,1515.6 2176.3,1483.3 2177.9,1473.6 2179.5,1478.7 2181.1,1461.7 2182.7,1495.5 2184.3,1481.2 2185.9,1494.8 2187.5,1504.3 2189.1,1554.2 2190.7,1566.6 2192.3,1559.1 2193.9,1530.4 2195.5,1512.4 2197.1,1523.7 2198.7,1530.0 2200.3,1548.2 2201.9,1566.3 2203.5,1584.4 2205.1,1593.4 2206.7,1558.2 2208.3,1502.0 2209.9,1510.7 2211.5,1499.3 2213.1,1460.2 2214.7,1491.4 2216.3,1489.6 2217.9,1507.2 2219.5,1546.1 2221.1,1529.5 2222.7,1537.4 2224.3,1539.9 2225.9,1528.5 2227.5,1505.3 2229.1,1482.1 2230.7,1485.6 2232.3,1525.4 2233.9,1563.2 2235.5,1577.5 2237.1,1609.8 2238.7,1634.2 2240.3,1636.9 2241.9,1632.6 2243.5,1632.8 2245.1,1607.8 2246.7,1606.6 2248.3,1609.9 2249.9,1617.9 2251.5,1625.9 2253.1,1594.2 2254.7,1627.6 2256.3,1633.4 2257.9,1631.7 2259.5,1621.9 2256.0,1600.0"/>
<polyline stroke="#8000FF" points="379.5,389.6 381.1,393.1 382.7,392.8 384.3,396.4 385.9,397.9 387.5,400.6 389.1,397.5 390.7,399.3 392.3,396.1 393.9,394.8 395.5,393.0 397.1,397.6 398.7,396.1 400.3,398.4 401.9,401.8 403.5,398.6 405.1,401.3 406.7,401.1 408.3,403.1 409.9,404.3 411.5,405.4 413.1,407.5 414.7,407.8 416.3,411.2 417.9,410.8 419.5,415.2 421.1,411.3 422.7,408.6 424.3,407.2 425.9,410.5 427.5,412.1 429.1,415.4 430.7,413.4 432.3,415.9 433.9,419.6 435.5,419.6 437.1,419.2 438.7,425.8 440.3,422.8 441.9,424.1 443.5,422.5 445.1,425.0 446.7,435.1 448.3,436.9 449.9,441.4 451.5,445.3 453.1,436.2 454.7,434.7 456.3,431.4 457.9,427.4 459.5,429.7 461.1,436.6 462.7,431.5 464.3,430.8 465.9,429.0 467.5,429.9 469.1,428.8 470.7,429.0 472.3,422.5 473.9,421.7 475.5,423.9 477.1,426.4 478.7,424.9 480.3,420.6 481.9,421.2 483.5,422.9 485.1,425.9 486.7,434.1 488.3,429.6 489.9,436.1 491.5,436.0 493.1,434.3 494.7,434.0 496.3,435.8 497.9,439.3 499.5,443.1 501.1,448.0 502.7,445.0 504.3,449.4 505.9,457.4 507.5,461.0 509.1,464.9 510.7,462.5 512.3,467.8 513.9,467.8 515.5,466.2 517.1,473.0 518.7,471.2 520.3,470.0 521.9,470.9 523.5,467.8 525.1,474.0 526.7,475.7 528.3,473.0 529.9,472.7 531.5,468.2 533.1,469.0 534.7,469.3 536.3,472.3 537.9,476.6 539.5,484.4 541.1,481.6 542.7,480.6 544.3,480.2 545.9,479.9 547.5,475.2 549.1,477.0 550.7,475.8 552.3,477.6 553.9,474.9 555.5,470.9 557.1,468.1 558.7,463.2 560.3,468.4 561.9,464.5 563.5,461.7 565.1,467.2 566.7,468.1 568.3,467.6 569.9,471.6 571.5,472.9 573.1,473.0 574.7,467.1 576.3,475.6 577.9,478.6 579.5,480.8 581.1,487.5 582.7,483.2 584.3,492.1 585.9,493.5 587.5,492.9 589.1,488.8 590.7,493.8 592.3,495.3 593.9,498.2 595.5,493.0 597.1,495.0 598.7,498.4 600.3,506.3 601.9,501.6 603.5,496.7 605.1,497.0 606.7,497.2 608.3,504.6 609.9,504.7 611.5,507.6 613.1,518.3 614.7,522.9 616.3,522.6 617.9,521.6 619.5,521.6 621.1,521.4 622.7,521.0 624.3,510.9 625.9,509.9 627.5,501.8 629.1,504.1 630.7,502.6 632.3,502.9 633.9,501.6 635.5,502.8 637.1,494.2 638.7,494.2 640.3,493.2 641.9,489.8 643.5,489.2 645.1,494.5 646.7,491.5 648.3,492.7 649.9,497.1 651.5,499.8 653.1,497.4 654.7,501.0 656.3,505.2 657.9,505.9 659.5,508.7 661.1,513.8 662.7,513.2 664.3,513.0 665.9,518.0 667.5,513.5 669.1,514.7 670.7,515.2 672.3,519.1 673.9,521.6 675.5,513.2 677.1,511.5 678.7,515.9 680.3,519.2 681.9,512.3 683.5,522.1 685.1,523.0 686.7,524.5 688.3,525.0 689.9,523.0 691.5,517.4 693.1,520.5 694.7,520.3 696.3,525.0 697.9,526.5 699.5,527.7 701.1,524.0 702.7,524.8 704.3,530.0 705.9,525.3 707.5,529.6 709.1,530.0 710.7,535.7 712.3,530.6 713.9,521.1 715.5,522.6 717.1,522.0 718.7,518.7 720.3,519.0 721.9,521.2 723.5,513.7 725.1,516.1 726.7,515.3 728.3,517.1 729.9,521.8 731.5,520.2 733.1,514.6 734.7,515.0 736.3,511.6 737.9,515.6 739.5,517.1 741.1,517.5 742.7,514.4 744.3,522.5 745.9,519.8 747.5,523.0 749.1,515.3 750.7,521.9 752.3,522.9 753.9,532.1 755.5,532.9 757.1,542.6 758.7,551.3 760.3,553.4 761.9,556.8 763.5,551.9 765.1,552.2 766.7,549.0 768.3,554.5 769.9,554.9 771.5,554.4 773.1,557.5 774.7,555.4 776.3,548.9 777.9,550.9 779.5,550.7 781.1,551.2 782.7,554.7 784.3,554.3 785.9,554.7 787.5,557.7 789.1,560.4 790.7,561.6 792.3,559.5 793.9,566.3 795.5,578.5 797.1,573.8 798.7,580.1 800.3,579.2 801.9,571.4 803.5,575.5 805.1,573.8 806.7,567.3 808.3,568.0 809.9,563.8 811.5,565.9 813.1,565.8 814.7,569.5 816.3,564.7 817.9,566.2 819.5,566.1 821.1,569.0 822.7,569.2 824.3,557.4 825.9,553.9 827.5,560.7 829.1,559.2 830.7,560.7 832.3,566.6 833.9,564.3 835.5,561.6 837.1,563.1 838.7,566.2 840.3,562.5 841.9,566.4 843.5,565.6 845.1,558.1 846.7,558.5 848.3,559.1 849.9,559.2 851.5,562.4 853.1,567.2 854.7,566.1 856.3,566.6 857.9,567.7 859.5,571.0 861.1,577.8 862.7,575.4 864.3,582.3 865.9,584.6 867.5,585.3 869.1,583.8 870.7,585.2 872.3,584.6 873.9,579.1 875.5,582.6 877.1,581.7 878.7,589.3 880.3,590.7 881.9,589.5 883.5,593.4 885.1,597.1 886.7,604.7 888.3,593.5 889.9,595.8 891.5,593.6 893.1,587.8 894.7,589.9 896.3,580.7 897.9,584.0 899.5,593.0 901.1,584.8 902.7,583.7 904.3,581.8 905.9,581.2 907.5,579.9 909.1,579.2 910.7,582.1 912.3,575.3 913.9,581.2 915.5,578.2 917.1,575.1 918.7,572.7 920.3,569.9 921.9,574.8 923.5,574.1 925.1,582.6 926.7,593.9 928.3,595.7 929.9,592.5 931.5,595.2 933.1,598.4 934.7,601.0 936.3,603.2 937.9,604.1 939.5,613.0 941.1,615.6 942.7,613.6 944.3,616.7 945.9,611.9 947.5,612.0 949.1,611.6 950.7,615.2 952.3,614.1 953.9,616.7 955.5,620.2 957.1,626.3 958.7,626.4 960.3,631.0 961.9,622.0 963.5,626.5 965.1,627.2 966.7,623.3 968.3,616.0 969.9,617.0 971.5,627.2 973.1,624.8 974.7,620.9 976.3,623.6 977.9,619.9 979.5,611.1 981.1,608.1 982.7,612.8 984.3,611.2 985.9,616.7 987.5,620.2 989.1,618.4 990.7,618.0 992.3,624.3 993.9,628.0 995.5,631.9 997.1,636.9 998.7,636.4 1000.3,640.6 1001.9,641.3 1003.5,638.4 1005.1,641.5 1006.7,640.9 1008.3,638.8 1009.9,634.3 1011.5,630.7 1013.1,627.4 1014.7,626.2 1016.3,641.6 1017.9,639.4 1019.5,635.9 1021.1,632.7 1022.7,631.1 1024.3,634.9 1025.9,640.0 1027.5,632.2 1029.1,639.8 1030.7,643.0 1032.3,643.5 1033.9,641.2 1035.5,634.2 1037.1,632.1 1038.7,629.1 1040.3,628.4 1041.9,620.5 1043.5,624.9 1045.1,617.1 1046.7,623.8 1048.3,633.3 1049.9,627.4 1051.5,634.9 1053.1,630.2 1054.7,631.1 1056.3,631.9 1057.9,636.0 1059.5,633.9 1061.1,638.8 1062.7,634.7 1064.3,641.2 1065.9,637.0 1067.5,635.6 1069.1,637.0 1070.7,647.0 1072.3,649.6 1073.9,657.8 1075.5,661.5 1077.1,667.4 1078.7,667.2 1080.3,672.7 1081.9,671.8 1083.5,658.3 1085.1,656.0 1086.7,664.0 1088.3,671.4 1089.9,661.1 1091.5,661.9 1093.1,669.7 1094.7,661.8 1096.3,664.0 1097.9,670.7 1099.5,674.5 1101.1,680.0 1102.7,684.4 1104.3,686.4 1105.9,684.7 1107.5,677.3 1109.1,681.3 1110.7,682.9 1112.3,677.6 1113.9,676.1 1115.5,671.7 1117.1,664.2 1118.7,660.7 1120.3,668.2 1121.9,662.3 1123.5,665.8 1125.1,666.7 1126.7,667.7 1128.3,671.8 1129.9,666.8 1131.5,660.6 1133.1,660.0 1134.7,659.0 1136.3,665.0 1137.9,675.0 1139.5,678.5 1141.1,686.5 1142.7,687.4 1144.3,689.6 1145.9,693.6 1147.5,705.5 1149.1,704.3 1150.7,696.7 1152.3,711.4 1153.9,714.0 1155.5,723.4 1157.1,717.4 1158.7,710.5 1160.3,702.3 1161.9,699.4 1163.5,685.0 1165.1,691.3 1166.7,689.7 1168.3,673.7 1169.9,664.6 1171.5,667.2 1173.1,677.9 1174.7,681.3 1176.3,689.2 1177.9,691.7 1179.5,698.6 1181.1,691.3 1182.7,700.3 1184.3,699.4 1185.9,708.9 1187.5,700.5 1189.1,700.5 1190.7,710.9 1192.3,709.8 1193.9,717.5 1195.5,718.7 1197.1,725.6 1198.7,735.0 1200.3,746.3 1201.9,748.7 1203.5,741.3 1205.1,746.0 1206.7,740.8 1208.3,741.7 1209.9,740.3 1211.5,727.8 1213.1,730.2 1214.7,722.6 1216.3,715.8 1217.9,702.3 1219.5,695.9 1221.1,699.6 1222.7,696.2 1224.3,698.8 1225.9,704.6 1227.5,701.1 1229.1,699.8 1230.7,697.7 1232.3,693.2 1233.9,693.2 1235.5,683.7 1237.1,682.2 1238.7,681.6 1240.3,687.1 1241.9,695.4 1243.5,705.3 1245.1,701.5 1246.7,713.2 1248.3,720.9 1249.9,720.6 1251.5,734.3 1253.1,728.0 1254.7,735.9 1256.3,739.1 1257.9,733.6 1259.5,731.5 1261.1,729.4 1262.7,725.6 1264.3,726.2 1265.9,712.4 1267.5,725.8 1269.1,723.4 1270.7,720.6 1272.3,725.0 1273.9,729.4 1275.5,739.8 1277.1,746.7 1278.7,743.2 1280.3,748.6 1281.9,748.0 1283.5,757.3 1285.1,759.1 1286.7,761.8 1288.3,756.8 1289.9,771.8 1291.5,769.4 1293.1,779.5 1294.7,790.0 1296.3,788.4 1297.9,799.3 1299.5,796.6 1301.1,803.5 1302.7,795.9 1304.3,804.6 1305.9,792.5 1307.5,786.6 1309.1,781.1 1310.7,786.1 1312.3,786.5 1313.9,784.1 1315.5,781.3 1317.1,774.7 1318.7,765.6 1320.3,762.0 1321.9,757.6 1323.5,769.1 1325.1,769.5 1326.7,771.2 1328.3,770.4 1329.9,771.2 1331.5,768.6 1333.1,769.2 1334.7,773.4 1336.3,780.4 1337.9,785.6 1339.5,782.1 1341.1,785.7 1342.7,792.2 1344.3,801.5 1345.9,811.8 1347.5,811.9 1349.1,806.6 1350.7,799.0 1352.3,789.8 1353.9,796.7 1355.5,807.5 1357.1,800.3 1358.7,803.5 1360.3,811.2 1361.9,804.2 1363.5,809.0 1365.1,810.9 1366.7,807.7 1368.3,807.7 1369.9,813.7 1371.5,828.0 1373.1,841.4 1374.7,833.0 1376.3,837.1 1377.9,837.7 1379.5,830.7 1381.1,824.7 1382.7,822.3 1384.3,833.6 1385.9,835.0 1387.5,827.3 1389.1,816.1 1390.7,800.8 1392.3,798.4 1393.9,802.0 1395.5,803.0 1397.1,806.5 1398.7,803.8 1400.3,806.0 1401.9,806.5 1403.5,804.7 1405.1,811.0 1406.7,807.7 1408.3,801.7 1409.9,818.6 1411.5,812.0 1413.1,817.0 1414.7,807.4 1416.3,813.9 1417.9,802.9 1419.5,811.1 1421.1,815.2 1422.7,814.3 1424.3,812.0 1425.9,811.4 1427.5,816.0 1429.1,817.1 1430.7,814.3 1432.3,820.4 1433.9,806.9 1435.5,792.6 1437.1,794.2 1438.7,798.1 1440.3,788.1 1441.9,791.4 1443.5,792.1 1445.1,790.7 1446.7,789.2 1448.3,783.9 1449.9,789.2 1451.5,788.4 1453.1,805.4 1454.7,808.8 1456.3,811.9 1457.9,815.8 1459.5,809.6 1461.1,818.1 1462.7,821.7 1464.3,835.4 1465.9,833.5 1467.5,848.4 1469.1,849.6 1470.7,856.8 1472.3,864.3 1473.9,866.8 1475.5,855.4 1477.1,862.3 1478.7,863.9 1480.3,857.9 1481.9,847.6 1483.5,833.5 1485.1,840.9 1486.7,834.9 1488.3,841.0 1489.9,846.6 1491.5,843.8 1493.1,843.7 1494.7,844.1 1496.3,835.6 1497.9,827.8 1499.5,820.6 1501.1,838.6 1502.7,832.5 1504.3,828.5 1505.9,834.3 1507.5,858.8 1509.1,868.4 1510.7,863.2 1512.3,856.3 1513.9,865.9 1515.5,861.2 1517.1,870.7 1518.7,880.3 1520.3,877.5 1521.9,869.5 1523.5,884.5 1525.1,885.6 1526.7,871.8 1528.3,866.2 1529.9,870.6 1531.5,882.2 1533.1,880.0 1534.7,871.2 1536.3,870.6 1537.9,858.7 1539.5,854.3 1541.1,856.0 1542.7,859.3 1544.3,839.3 1545.9,841.2 1547.5,846.5 1549.1,865.1 1550.7,858.1 1552.3,866.8 1553.9,865.9 1555.5,870.6 1557.1,875.2 1558.7,870.1 1560.3,882.5 1561.9,894.0 1563.5,901.2 1565.1,897.6 1566.7,888.7 1568.3,886.7 1569.9,903.1 1571.5,912.8 1573.1,895.9 1574.7,883.8 1576.3,863.6 1577.9,855.0 1579.5,857.9 1581.1,859.6 1582.7,845.6 1584.3,847.9 1585.9,852.7 1587.5,839.0 1589.1,847.2 1590.7,855.2 1592.3,863.5 1593.9,857.8 1595.5,844.4 1597.1,857.7 1598.7,861.7 1600.3,869.8 1601.9,880.6 1603.5,879.8 1605.1,899.6 1606.7,901.6 1608.3,907.3 1609.9,909.4 1611.5,925.7 1613.1,924.5 1614.7,942.7 1616.3,925.5 1617.9,923.5 1619.5,936.0 1621.1,940.1 1622.7,931.4 1624.3,931.4 1625.9,932.9 1627.5,937.2 1629.1,912.1 1630.7,917.1 1632.3,924.9 1633.9,926.4 1635.5,929.0 1637.1,918.8 1638.7,939.9 1640.3,937.5 1641.9,927.9 1643.5,934.6 1645.1,940.3 1646.7,933.2 1648.3,931.1 1649.9,936.2 1651.5,948.7 1653.1,933.1 1654.7,944.8 1656.3,930.6 1657.9,918.9 1659.5,908.5 1661.1,898.8 1662.7,893.0 1664.3,902.4 1665.9,905.8 1667.5,906.9 1669.1,911.1 1670.7,912.9 1672.3,917.5 1673.9,915.1 1675.5,913.5 1677.1,909.4 1678.7,895.5 1680.3,887.2 1681.9,902.2 1683.5,910.7 1685.1,897.2 1686.7,924.3 1688.3,935.9 1689.9,919.6 1691.5,917.3 1693.1,916.9 1694.7,898.6 1696.3,907.9 1697.9,913.1 1699.5,907.0 1701.1,901.4 1702.7,905.0 1704.3,912.8 1705.9,886.3 1707.5,897.2 1709.1,904.3 1710.7,900.4 1712.3,907.9 1713.9,900.1 1715.5,908.9 1717.1,915.8 1718.7,905.4 1720.3,900.4 1721.9,911.4 1723.5,913.9 1725.1,926.5 1726.7,937.6 1728.3,919.8 1729.9,928.9 1731.5,916.0 1733.1,920.8 1734.7,931.6 1736.3,933.4 1737.9,927.7 1739.5,924.7 1741.1,918.6 1742.7,912.4 1744.3,914.3 1745.9,934.1 1747.5,930.0 1749.1,937.7 1750.7,938.4 1752.3,927.9 1753.9,944.9 1755.5,959.4 1757.1,951.8 1758.7,966.2 1760.3,956.1 1761.9,965.1 1763.5,956.4 1765.1,947.2 1766.7,959.8 1768.3,951.9 1769.9,959.8 1771.5,960.4 1773.1,952.7 1774.7,980.2 1776.3,985.7 1777.9,977.4 1779.5,986.5 1781.1,968.1 1782.7,977.5 1784.3,1005.2 1785.9,986.7 1787.5,988.1 1789.1,980.5 1790.7,968.7 1792.3,968.2 1793.9,950.2 1795.5,941.2 1797.1,948.0 1798.7,942.8 1800.3,952.6 1801.9,963.5 1803.5,949.2 1805.1,942.7 1806.7,940.1 1808.3,952.9 1809.9,947.1 1811.5,943.4 1813.1,943.0 1814.7,958.5 1816.3,977.2 1817.9,955.2 1819.5,962.7 1821.1,960.5 1822.7,966.1 1824.3,976.7 1825.9,980.0 1827.5,988.2 1829.1,1001.4 1830.7,1009.1 1832.3,1024.5 1833.9,1029.2 1835.5,1042.4 1837.1,1041.7 1838.7,1033.9 1840.3,1019.4 1841.9,1037.4 1843.5,1033.6 1845.1,1028.7 1846.7,1013.4 1848.3,1017.1 1849.9,1011.9 1851.5,1039.4 1853.1,1041.5 1854.7,1029.2 1856.3,1017.8 1857.9,1032.4 1859.5,1027.1 1861.1,1005.2 1862.7,991.4 1864.3,994.0 1865.9,994.3 1867.5,993.2 1869.1,994.0 1870.7,1004.2 1872.3,975.8 1873.9,971.0 1875.5,968.1 1877.1,973.4 1878.7,977.9 1880.3,985.8 1881.9,981.0 1883.5,978.6 1885.1,999.3 1886.7,1009.9 1888.3,1015.8 1889.9,1019.5 1891.5,1035.2 1893.1,1033.3 1894.7,1042.9 1896.3,1057.5 1897.9,1075.1 1899.5,1072.9 1901.1,1082.6 1902.7,1073.8 1904.3,1068.0 1905.9,1057.3 1907.5,1084.1 1909.1,1099.8 1910.7,1067.7 1912.3,1071.7 1913.9,1068.8 1915.5,1061.8 1917.1,1066.7 1918.7,1078.0 1920.3,1085.3 1921.9,1089.0 1923.5,1092.4 1925.1,1093.6 1926.7,1091.3 1928.3,1078.7 1929.9,1075.5 1931.5,1076.1 1933.1,1072.0 1934.7,1072.8 1936.3,1063.2 1937.9,1074.7 1939.5,1072.0 1941.1,1078.1 1942.7,1088.9 1944.3,1083.3 1945.9,1088.9 1947.5,1065.9 1949.1,1062.0 1950.7,1081.5 1952.3,1083.0 1953.9,1101.6 1955.5,1112.1 1957.1,1138.4 1958.7,1131.4 1960.3,1122.9 1961.9,1130.4 1963.5,1152.7 1965.1,1136.5 1966.7,1146.1 1968.3,1128.4 1969.9,1132.1 1971.5,1147.0 1973.1,1162.9 1974.7,1157.8 1976.3,1149.1 1977.9,1154.1 1979.5,1155.0 1981.1,1156.1 1982.7,1144.4 1984.3,1139.6 1985.9,1174.8 1987.5,1165.4 1989.1,1168.1 1990.7,1166.1 1992.3,1193.8 1993.9,1176.2 1995.5,1172.8 1997.1,1167.1 1998.7,1211.6 2000.3,1189.6 2001.9,1203.5 2003.5,1200.0 2005.1,1156.4 2006.7,1169.1 2008.3,1175.4 2009.9,1186.2 2011.5,1194.7 2013.1,1190.5 2014.7,1192.9 2016.3,1184.3 2017.9,1185.3 2019.5,1175.1 2021.1,1179.7 2022.7,1167.1 2024.3,1178.7 2025.9,1198.5 2027.5,1220.5 2029.1,1227.8 2030.7,1223.0 2032.3,1218.8 2033.9,1219.7 2035.5,1232.6 2037.1,1241.4 2038.7,1231.9 2040.3,1225.2 2041.9,1248.6 2043.5,1251.0 2045.1,1246.5 2046.7,1237.4 2048.3,1267.6 2049.9,1268.8 2051.5,1276.6 2053.1,1256.7 2054.7,1283.8 2056.3,1293.3 2057.9,1296.1 2059.5,1304.5 2061.1,1305.5 2062.7,1302.3 2064.3,1275.1 2065.9,1237.8 2067.5,1249.8 2069.1,1209.6 2070.7,1203.6 2072.3,1226.9 2073.9,1212.8 2075.5,1207.5 2077.1,1191.4 2078.7,1215.1 2080.3,1232.7 2081.9,1212.0 2083.5,1247.6 2085.1,1264.3 2086.7,1284.6 2088.3,1285.4 2089.9,1265.8 2091.5,1280.8 2093.1,1270.9 2094.7,1271.7 2096.3,1280.3 2097.9,1292.2 2099.5,1282.4 2101.1,1290.9 2102.7,1290.1 2104.3,1293.1 2105.9,1289.8 2107.5,1297.1 2109.1,1250.4 2110.7,1269.5 2112.3,1262.2 2113.9,1246.9 2115.5,1250.3 2117.1,1267.5 2118.7,1245.8 2120.3,1254.8 2121.9,1271.8 2123.5,1286.6 2125.1,1310.4 2126.7,1314.8 2128.3,1304.6 2129.9,1297.7 2131.5,1274.0 2133.1,1309.7 2134.7,1303.3 2136.3,1291.0 2137.9,1326.4 2139.5,1336.1 2141.1,1346.7 2142.7,1351.8 2144.3,1345.7 2145.9,1359.8 2147.5,1355.7 2149.1,1384.1 2150.7,1390.0 2152.3,1418.8 2153.9,1436.0 2155.5,1433.7 2157.1,1430.5 2158.7,1427.3 2160.3,1425.1 2161.9,1423.0 2163.5,1420.8 2165.1,1393.0 2166.7,1390.6 2168.3,1404.9 2169.9,1357.4 2171.5,1390.8 2173.1,1414.9 2174.7,1445.0 2176.3,1430.0 2177.9,1414.3 2179.5,1419.7 2181.1,1459.7 2182.7,1454.8 2184.3,1462.9 2185.9,1463.9 2187.5,1420.8 2189.1,1434.6 2190.7,1447.3 2192.3,1451.6 2193.9,1457.6 2195.5,1417.5 2197.1,1410.2 2198.7,1407.7 2200.3,1414.2 2201.9,1406.8 2203.5,1455.0 2205.1,1489.8 2206.7,1530.2 2208.3,1519.5 2209.9,1492.6 2211.5,1512.9 2213.1,1537.6 2214.7,1535.7 2216.3,1569.4 2217.9,1576.2 2219.5,1558.7 2221.1,1560.8 2222.7,1516.9 2224.3,1511.6 2225.9,1473.0 2227.5,1431.4 2229.1,1437.1 2230.7,1437.3 2232.3,1412.2 2233.9,1370.3 2235.5,1390.3 2237.1,1392.0 2238.7,1410.2 2240.3,1405.8 2241.9,1399.5 2243.5,1423.1 2245.1,1453.9 2246.7,1458.6 2248.3,1471.4 2249.9,1495.3 2251.5,1521.6 2253.1,1529.4 2254.7,1505.9 2256.3,1509.9 2257.9,1518.0 2261.8,1500.0 2261.8,1244.0"/>
<polyline stroke="#FF8000" points="379.5,317.2 381.1,319.6 382.7,324.3 384.3,325.9 385.9,331.2 387.5,333.1 389.1,337.6 390.7,340.8 392.3,341.2 393.9,344.2 395.5,346.5 397.1,345.9 398.7,349.8 400.3,348.4 401.9,351.4 403.5,351.8 405.1,351.9 406.7,344.8 408.3,347.5 409.9,349.8 411.5,348.4 413.1,351.2 414.7,351.4 416.3,350.1 417.9,349.2 419.5,350.5 421.1,353.3 422.7,354.4 424.3,352.1 425.9,351.8 427.5,356.5 429.1,357.1 430.7,355.9 432.3,353.2 433.9,354.9 435.5,358.4 437.1,358.7 438.7,362.5 440.3,366.6 441.9,367.2 443.5,366.0 445.1,362.9 446.7,363.3 448.3,364.3 449.9,364.1 451.5,365.0 453.1,367.6 454.7,366.8 456.3,372.5 457.9,366.8 459.5,372.3 461.1,372.3 462.7,372.8 464.3,372.5 465.9,373.7 467.5,379.6 469.1,379.4 470.7,378.2 472.3,380.9 473.9,376.0 475.5,377.7 477.1,381.6 478.7,385.0 480.3,384.4 481.9,388.4 483.5,386.2 485.1,396.9 486.7,393.0 488.3,392.7 489.9,392.9 491.5,392.8 493.1,392.9 494.7,399.7 496.3,401.7 497.9,405.9 499.5,404.6 501.1,401.9 502.7,404.6 504.3,407.6 505.9,404.4 507.5,406.8 509.1,403.5 510.7,405.3 512.3,406.8 513.9,415.0 515.5,415.8 517.1,421.7 518.7,424.7 520.3,432.3 521.9,432.7 523.5,427.7 525.1,426.1 526.7,419.8 528.3,423.0 529.9,423.8 531.5,421.0 533.1,417.9 534.7,414.6 536.3,419.4 537.9,420.4 539.5,419.6 541.1,419.2 542.7,418.1 544.3,415.6 545.9,417.5 547.5,419.2 549.1,419.6 550.7,420.1 552.3,419.8 553.9,421.5 555.5,424.8 557.1,424.2 558.7,422.5 560.3,422.7 561.9,425.1 563.5,428.3 565.1,428.6 566.7,434.2 568.3,439.4 569.9,437.6 571.5,440.9 573.1,435.2 574.7,437.2 576.3,436.9 577.9,435.2 579.5,439.3 581.1,442.7 582.7,436.6 584.3,437.5 585.9,441.1 587.5,441.7 589.1,439.1 590.7,436.4 592.3,433.3 593.9,431.5 595.5,431.5 597.1,438.8 598.7,444.2 600.3,452.6 601.9,454.5 603.5,456.9 605.1,457.8 606.7,457.7 608.3,460.6 609.9,465.8 611.5,463.4 613.1,465.2 614.7,461.8 616.3,460.5 617.9,453.1 619.5,453.1 621.1,449.3 622.7,452.5 624.3,454.9 625.9,453.3 627.5,450.4 629.1,450.3 630.7,444.8 632.3,447.1 633.9,442.2 635.5,441.3 637.1,437.3 638.7,443.1 640.3,448.9 641.9,448.9 643.5,444.0 645.1,443.0 646.7,443.1 648.3,441.3 649.9,444.4 651.5,448.4 653.1,447.6 654.7,444.6 656.3,445.0 657.9,451.9 659.5,453.2 661.1,457.4 662.7,456.1 664.3,459.2 665.9,460.0 667.5,464.2 669.1,456.7 670.7,451.9 672.3,449.3 673.9,449.9 675.5,450.0 677.1,449.1 678.7,449.8 680.3,459.2 681.9,457.6 683.5,460.8 685.1,465.3 686.7,468.6 688.3,469.1 689.9,467.6 691.5,472.9 693.1,478.5 694.7,479.7 696.3,472.7 697.9,470.1 699.5,474.1 701.1,474.1 702.7,475.2 704.3,482.0 705.9,485.7 707.5,490.3 709.1,492.7 710.7,487.1 712.3,484.1 713.9,486.0 715.5,479.2 717.1,485.8 718.7,487.7 720.3,486.2 721.9,491.4 723.5,484.2 725.1,483.8 726.7,479.0 728.3,476.6 729.9,476.0 731.5,477.7 733.1,478.5 734.7,486.8 736.3,485.1 737.9,481.6 739.5,488.8 741.1,488.4 742.7,484.4 744.3,489.6 745.9,490.9 747.5,488.2 749.1,493.0 750.7,492.3 752.3,490.0 753.9,486.7 755.5,487.5 757.1,490.5 758.7,486.4 760.3,492.6 761.9,497.0 763.5,495.3 765.1,493.2 766.7,488.1 768.3,489.8 769.9,491.9 771.5,490.2 773.1,492.6 774.7,492.2 776.3,496.1 777.9,503.7 779.5,504.4 781.1,499.3 782.7,501.9 784.3,502.0 785.9,504.6 787.5,496.7 789.1,507.0 790.7,512.5 792.3,514.9 793.9,517.2 795.5,523.2 797.1,519.4 798.7,521.1 800.3,522.3 801.9,525.2 803.5,521.5 805.1,518.3 806.7,522.1 808.3,522.0 809.9,514.5 811.5,518.7 813.1,525.5 814.7,523.5 816.3,528.5 817.9,530.8 819.5,529.5 821.1,533.6 822.7,536.9 824.3,535.9 825.9,539.1 827.5,539.8 829.1,541.1 830.7,533.9 832.3,523.3 833.9,522.2 835.5,526.9 837.1,533.8 838.7,528.2 840.3,525.3 841.9,528.2 843.5,521.5 845.1,521.2 846.7,514.4 848.3,520.0 849.9,519.0 851.5,515.3 853.1,514.4 854.7,512.6 856.3,525.3 857.9,528.4 859.5,533.9 861.1,528.5 862.7,532.3 864.3,529.8 865.9,525.5 867.5,531.4 869.1,536.0 870.7,542.2 872.3,537.3 873.9,548.9 875.5,546.8 877.1,543.4 878.7,539.4 880.3,535.3 881.9,534.3 883.5,529.1 885.1,528.6 886.7,535.2 888.3,532.9 889.9,537.9 891.5,538.7 893.1,541.3 894.7,546.8 896.3,548.9 897.9,554.7 899.5,555.9 901.1,560.8 902.7,556.6 904.3,563.4 905.9,556.1 907.5,563.0 909.1,560.1 910.7,556.8 912.3,556.8 913.9,552.3 915.5,552.1 917.1,553.1 918.7,555.5 920.3,561.6 921.9,550.9 923.5,549.3 925.1,546.7 926.7,547.6 928.3,548.8 929.9,549.6 931.5,558.4 933.1,554.8 934.7,552.9 936.3,559.8 937.9,559.1 939.5,561.9 941.1,563.2 942.7,569.0 944.3,567.6 945.9,565.5 947.5,561.6 949.1,565.1 950.7,568.3 952.3,574.5 953.9,580.0 955.5,576.2 957.1,580.1 958.7,577.9 960.3,583.7 961.9,589.7 963.5,585.4 965.1,586.7 966.7,585.9 968.3,578.0 969.9,573.9 971.5,573.1 973.1,570.5 974.7,572.1 976.3,574.9 977.9,576.9 979.5,581.4 981.1,589.4 982.7,590.7 984.3,594.3 985.9,586.1 987.5,582.2 989.1,582.5 990.7,578.2 992.3,570.8 993.9,570.8 995.5,568.4 997.1,567.4 998.7,567.3 1000.3,568.8 1001.9,569.1 1003.5,570.1 1005.1,573.5 1006.7,579.6 1008.3,574.1 1009.9,575.9 1011.5,577.9 1013.1,571.1 1014.7,572.6 1016.3,573.2 1017.9,578.6 1019.5,578.6 1021.1,577.7 1022.7,582.5 1024.3,582.7 1025.9,586.6 1027.5,586.3 1029.1,589.7 1030.7,588.4 1032.3,591.0 1033.9,593.2 1035.5,592.4 1037.1,592.8 1038.7,597.9 1040.3,595.2 1041.9,601.9 1043.5,598.0 1045.1,596.5 1046.7,594.3 1048.3,597.1 1049.9,601.3 1051.5,603.5 1053.1,599.2 1054.7,600.9 1056.3,609.7 1057.9,596.8 1059.5,600.7 1061.1,591.8 1062.7,589.7 1064.3,588.8 1065.9,595.4 1067.5,593.8 1069.1,592.2 1070.7,596.8 1072.3,595.2 1073.9,599.7 1075.5,593.3 1077.1,592.9 1078.7,594.8 1080.3,592.0 1081.9,595.8 1083.5,599.3 1085.1,597.9 1086.7,600.8 1088.3,604.9 1089.9,605.2 1091.5,609.9 1093.1,612.5 1094.7,615.9 1096.3,615.0 1097.9,608.8 1099.5,608.8 1101.1,615.0 1102.7,619.3 1104.3,617.8 1105.9,632.6 1107.5,636.4 1109.1,637.4 1110.7,643.9 1112.3,646.1 1113.9,637.7 1115.5,632.3 1117.1,634.5 1118.7,630.4 1120.3,634.9 1121.9,639.4 1123.5,628.6 1125.1,627.4 1126.7,626.8 1128.3,624.0 1129.9,618.6 1131.5,622.3 1133.1,629.8 1134.7,633.6 1136.3,628.9 1137.9,630.4 1139.5,629.3 1141.1,632.2 1142.7,630.6 1144.3,637.1 1145.9,628.5 1147.5,632.9 1149.1,639.2 1150.7,636.3 1152.3,636.1 1153.9,632.7 1155.5,631.4 1157.1,629.4 1158.7,634.0 1160.3,635.8 1161.9,638.1 1163.5,643.4 1165.1,633.7 1166.7,631.3 1168.3,633.4 1169.9,643.4 1171.5,650.5 1173.1,650.5 1174.7,655.5 1176.3,651.7 1177.9,659.2 1179.5,655.2 1181.1,656.8 1182.7,654.9 1184.3,651.2 1185.9,650.9 1187.5,646.8 1189.1,645.8 1190.7,654.7 1192.3,653.6 1193.9,659.8 1195.5,659.0 1197.1,659.5 1198.7,660.6 1200.3,658.4 1201.9,663.1 1203.5,655.8 1205.1,655.5 1206.7,656.4 1208.3,669.2 1209.9,664.9 1211.5,667.7 1213.1,659.4 1214.7,660.5 1216.3,667.7 1217.9,659.5 1219.5,652.2 1221.1,658.3 1222.7,659.1 1224.3,658.5 1225.9,661.7 1227.5,653.1 1229.1,666.0 1230.7,670.0 1232.3,664.6 1233.9,674.2 1235.5,669.1 1237.1,665.5 1238.7,660.6 1240.3,653.9 1241.9,655.0 1243.5,658.2 1245.1,664.3 1246.7,672.8 1248.3,681.0 1249.9,676.4 1251.5,684.9 1253.1,682.7 1254.7,676.1 1256.3,673.0 1257.9,675.7 1259.5,681.9 1261.1,692.6 1262.7,692.2 1264.3,679.2 1265.9,693.6 1267.5,703.3 1269.1,708.5 1270.7,700.8 1272.3,708.9 1273.9,703.0 1275.5,701.9 1277.1,710.1 1278.7,710.5 1280.3,712.4 1281.9,708.4 1283.5,705.4 1285.1,704.4 1286.7,697.9 1288.3,697.5 1289.9,695.1 1291.5,691.4 1293.1,683.4 1294.7,690.9 1296.3,681.3 1297.9,680.4 1299.5,691.8 1301.1,689.5 1302.7,686.7 1304.3,687.0 1305.9,696.7 1307.5,679.0 1309.1,685.1 1310.7,686.6 1312.3,693.1 1313.9,697.0 1315.5,694.4 1317.1,695.2 1318.7,697.3 1320.3,695.8 1321.9,696.9 1323.5,702.8 1325.1,712.9 1326.7,700.0 1328.3,701.2 1329.9,709.0 1331.5,723.3 1333.1,718.9 1334.7,720.6 1336.3,733.6 1337.9,735.8 1339.5,732.0 1341.1,728.9 1342.7,738.8 1344.3,730.4 1345.9,722.7 1347.5,718.7 1349.1,715.0 1350.7,712.0 1352.3,706.7 1353.9,706.5 1355.5,696.0 1357.1,697.9 1358.7,696.6 1360.3,686.4 1361.9,692.2 1363.5,692.2 1365.1,691.3 1366.7,699.1 1368.3,700.7 1369.9,690.5 1371.5,696.0 1373.1,715.8 1374.7,717.4 1376.3,719.0 1377.9,715.5 1379.5,706.9 1381.1,706.9 1382.7,722.2 1384.3,730.3 1385.9,721.0 1387.5,734.1 1389.1,727.2 1390.7,716.3 1392.3,715.5 1393.9,714.1 1395.5,714.4 1397.1,721.0 1398.7,729.6 1400.3,724.8 1401.9,717.5 1403.5,711.1 1405.1,725.9 1406.7,728.5 1408.3,736.9 1409.9,734.5 1411.5,735.0 1413.1,741.6 1414.7,744.0 1416.3,736.7 1417.9,729.3 1419.5,742.7 1421.1,738.5 1422.7,729.0 1424.3,735.4 1425.9,741.0 1427.5,739.1 1429.1,738.1 1430.7,741.0 1432.3,728.8 1433.9,738.8 1435.5,740.9 1437.1,738.9 1438.7,734.7 1440.3,737.5 1441.9,728.7 1443.5,733.1 1445.1,730.4 1446.7,734.1 1448.3,730.1 1449.9,725.1 1451.5,731.0 1453.1,735.1 1454.7,737.2 1456.3,729.1 1457.9,720.8 1459.5,729.6 1461.1,731.0 1462.7,731.2 1464.3,736.9 1465.9,730.0 1467.5,738.8 1469.1,738.2 1470.7,739.5 1472.3,742.4 1473.9,734.3 1475.5,734.1 1477.1,752.0 1478.7,769.3 1480.3,776.5 1481.9,774.2 1483.5,771.9 1485.1,778.1 1486.7,776.2 1488.3,767.3 1489.9,774.2 1491.5,772.2 1493.1,777.2 1494.7,779.6 1496.3,783.4 1497.9,792.6 1499.5,788.5 1501.1,782.2 1502.7,791.8 1504.3,801.2 1505.9,785.2 1507.5,788.6 1509.1,803.4 1510.7,806.7 1512.3,810.0 1513.9,812.9 1515.5,808.2 1517.1,798.1 1518.7,807.5 1520.3,803.6 1521.9,797.1 1523.5,803.3 1525.1,807.2 1526.7,809.7 1528.3,801.4 1529.9,805.4 1531.5,783.5 1533.1,804.4 1534.7,802.8 1536.3,791.2 1537.9,779.7 1539.5,798.3 1541.1,800.1 1542.7,790.8 1544.3,804.7 1545.9,804.3 1547.5,801.9 1549.1,804.8 1550.7,811.1 1552.3,806.3 1553.9,808.1 1555.5,812.0 1557.1,794.9 1558.7,810.2 1560.3,813.0 1561.9,804.6 1563.5,814.5 1565.1,820.2 1566.7,821.7 1568.3,820.1 1569.9,814.1 1571.5,819.3 1573.1,808.2 1574.7,812.4 1576.3,803.5 1577.9,814.7 1579.5,825.0 1581.1,834.4 1582.7,835.8 1584.3,831.4 1585.9,846.8 1587.5,830.2 1589.1,827.7 1590.7,825.7 1592.3,829.9 1593.9,832.7 1595.5,848.1 1597.1,861.8 1598.7,860.6 1600.3,865.3 1601.9,847.5 1603.5,854.6 1605.1,863.6 1606.7,868.6 1608.3,883.1 1609.9,878.6 1611.5,870.2 1613.1,854.5 1614.7,851.0 1616.3,852.4 1617.9,866.3 1619.5,873.2 1621.1,856.8 1622.7,861.1 1624.3,837.1 1625.9,846.3 1627.5,850.7 1629.1,845.3 1630.7,851.1 1632.3,846.8 1633.9,841.7 1635.5,849.3 1637.1,833.1 1638.7,829.8 1640.3,847.7 1641.9,839.0 1643.5,830.8 1645.1,833.3 1646.7,831.5 1648.3,832.2 1649.9,842.0 1651.5,837.6 1653.1,830.1 1654.7,832.1 1656.3,836.7 1657.9,851.3 1659.5,838.4 1661.1,839.4 1662.7,848.4 1664.3,858.0 1665.9,859.5 1667.5,855.8 1669.1,861.9 1670.7,865.3 1672.3,869.5 1673.9,868.1 1675.5,876.4 1677.1,885.2 1678.7,869.7 1680.3,880.1 1681.9,892.4 1683.5,893.4 1685.1,886.6 1686.7,905.8 1688.3,901.6 1689.9,905.1 1691.5,906.0 1693.1,902.3 1694.7,917.2 1696.3,907.2 1697.9,924.6 1699.5,927.0 1701.1,934.3 1702.7,921.8 1704.3,934.0 1705.9,927.4 1707.5,935.3 1709.1,926.5 1710.7,907.7 1712.3,891.1 1713.9,909.0 1715.5,893.9 1717.1,882.3 1718.7,869.6 1720.3,877.3 1721.9,894.6 1723.5,888.3 1725.1,896.5 1726.7,906.2 1728.3,907.6 1729.9,904.7 1731.5,916.2 1733.1,917.5 1734.7,912.9 1736.3,900.0 1737.9,906.7 1739.5,914.8 1741.1,905.4 1742.7,889.1 1744.3,894.0 1745.9,889.6 1747.5,886.9 1749.1,883.9 1750.7,890.2 1752.3,886.6 1753.9,899.5 1755.5,894.9 1757.1,898.7 1758.7,900.2 1760.3,892.5 1761.9,910.1 1763.5,907.0 1765.1,914.5 1766.7,903.4 1768.3,887.6 1769.9,893.0 1771.5,897.4 1773.1,910.2 1774.7,907.8 1776.3,902.8 1777.9,912.4 1779.5,898.7 1781.1,889.2 1782.7,886.4 1784.3,886.6 1785.9,881.9 1787.5,897.0 1789.1,903.6 1790.7,917.3 1792.3,901.8 1793.9,909.5 1795.5,911.6 1797.1,918.6 1798.7,928.2 1800.3,938.9 1801.9,940.9 1803.5,960.3 1805.1,976.9 1806.7,965.8 1808.3,963.7 1809.9,975.4 1811.5,979.1 1813.1,968.3 1814.7,967.8 1816.3,961.9 1817.9,961.2 1819.5,950.4 1821.1,947.8 1822.7,956.3 1824.3,945.9 1825.9,944.5 1827.5,939.9 1829.1,941.3 1830.7,945.8 1832.3,934.2 1833.9,942.5 1835.5,931.7 1837.1,915.5 1838.7,912.8 1840.3,906.9 1841.9,913.8 1843.5,915.7 1845.1,923.8 1846.7,938.4 1848.3,957.4 1849.9,946.4 1851.5,946.2 1853.1,947.8 1854.7,952.3 1856.3,964.0 1857.9,988.2 1859.5,984.8 1861.1,967.8 1862.7,974.1 1864.3,974.5 1865.9,986.6 1867.5,987.1 1869.1,971.8 1870.7,976.4 1872.3,991.5 1873.9,977.0 1875.5,982.9 1877.1,974.5 1878.7,959.4 1880.3,951.5 1881.9,946.0 1883.5,943.8 1885.1,950.3 1886.7,951.5 1888.3,954.2 1889.9,956.6 1891.5,964.4 1893.1,956.7 1894.7,973.1 1896.3,971.6 1897.9,984.6 1899.5,998.2 1901.1,992.4 1902.7,998.1 1904.3,991.1 1905.9,990.6 1907.5,1013.3 1909.1,1019.0 1910.7,1011.5 1912.3,1023.7 1913.9,1019.9 1915.5,1032.6 1917.1,1031.9 1918.7,1052.0 1920.3,1029.2 1921.9,1032.1 1923.5,1041.1 1925.1,1043.6 1926.7,1056.2 1928.3,1059.4 1929.9,1064.2 1931.5,1082.1 1933.1,1090.8 1934.7,1106.8 1936.3,1131.6 1937.9,1162.1 1939.5,1178.4 1941.1,1188.6 1942.7,1197.4 1944.3,1153.0 1945.9,1142.2 1947.5,1116.6 1949.1,1100.6 1950.7,1083.8 1952.3,1078.4 1953.9,1071.5 1955.5,1066.7 1957.1,1041.9 1958.7,1044.5 1960.3,1044.8 1961.9,1038.8 1963.5,1039.9 1965.1,1041.7 1966.7,1058.8 1968.3,1083.4 1969.9,1097.3 1971.5,1079.4 1973.1,1091.6 1974.7,1068.4 1976.3,1086.2 1977.9,1104.6 1979.5,1108.9 1981.1,1111.1 1982.7,1116.1 1984.3,1092.1 1985.9,1117.3 1987.5,1128.8 1989.1,1129.2 1990.7,1133.5 1992.3,1124.0 1993.9,1129.9 1995.5,1109.3 1997.1,1116.8 1998.7,1140.5 2000.3,1129.4 2001.9,1135.8 2003.5,1129.1 2005.1,1124.8 2006.7,1126.9 2008.3,1132.6 2009.9,1144.3 2011.5,1131.3 2013.1,1128.2 2014.7,1084.3 2016.3,1089.2 2017.9,1100.6 2019.5,1103.1 2021.1,1111.5 2022.7,1096.9 2024.3,1119.2 2025.9,1090.8 2027.5,1096.2 2029.1,1121.2 2030.7,1127.2 2032.3,1126.4 2033.9,1119.2 2035.5,1096.8 2037.1,1112.2 2038.7,1128.8 2040.3,1118.2 2041.9,1132.2 2043.5,1157.3 2045.1,1157.2 2046.7,1166.1 2048.3,1169.1 2049.9,1158.5 2051.5,1162.8 2053.1,1159.6 2054.7,1157.2 2056.3,1150.5 2057.9,1163.6 2059.5,1165.7 2061.1,1145.8 2062.7,1163.1 2064.3,1159.6 2065.9,1156.6 2067.5,1154.7 2069.1,1157.9 2070.7,1162.1 2072.3,1178.2 2073.9,1180.2 2075.5,1165.1 2077.1,1153.9 2078.7,1152.3 2080.3,1144.5 2081.9,1157.6 2083.5,1162.5 2085.1,1146.0 2086.7,1156.8 2088.3,1186.2 2089.9,1175.2 2091.5,1144.1 2093.1,1131.5 2094.7,1133.3 2096.3,1153.7 2097.9,1188.9 2099.5,1213.5 2101.1,1191.9 2102.7,1206.8 2104.3,1222.0 2105.9,1224.9 2107.5,1219.6 2109.1,1224.2 2110.7,1234.6 2112.3,1237.6 2113.9,1249.0 2115.5,1232.5 2117.1,1237.6 2118.7,1235.0 2120.3,1215.9 2121.9,1243.4 2123.5,1228.9 2125.1,1247.7 2126.7,1238.2 2128.3,1258.7 2129.9,1264.3 2131.5,1263.7 2133.1,1261.1 2134.7,1272.0 2136.3,1288.6 2137.9,1313.5 2139.5,1317.1 2141.1,1322.5 2142.7,1312.4 2144.3,1329.4 2145.9,1341.8 2147.5,1348.0 2149.1,1354.2 2150.7,1343.3 2152.3,1356.2 2153.9,1342.3 2155.5,1357.9 2157.1,1355.3 2158.7,1328.1 2160.3,1355.7 2161.9,1331.3 2163.5,1341.2 2165.1,1290.6 2166.7,1293.6 2168.3,1347.1 2169.9,1351.7 2171.5,1360.5 2173.1,1344.8 2174.7,1331.6 2176.3,1339.8 2177.9,1378.4 2179.5,1398.4 2181.1,1404.0 2182.7,1409.6 2184.3,1415.2 2185.9,1367.7 2187.5,1361.7 2189.1,1414.5 2190.7,1385.2 2192.3,1394.5 2193.9,1409.2 2195.5,1365.0 2197.1,1372.8 2198.7,1380.7 2200.3,1397.4 2201.9,1420.0 2203.5,1409.9 2205.1,1398.6 2206.7,1384.3 2208.3,1413.0 2209.9,1399.3 2211.5,1404.9 2213.1,1409.6 2214.7,1411.8 2216.3,1411.5 2217.9,1412.1 2219.5,1408.6 2221.1,1414.7 2222.7,1396.8 2224.3,1444.0 2225.9,1417.5 2227.5,1431.6 2229.1,1473.0 2230.7,1494.3 2232.3,1499.0 2233.9,1464.9 2235.5,1465.4 2237.1,1477.5 2238.7,1500.0 2240.3,1473.2 2241.9,1475.1 2243.5,1520.7 2245.1,1492.4 2246.7,1512.3 2248.3,1515.3 2249.9,1484.4 2251.5,1459.7 2253.1,1478.5 2254.7,1468.1 2256.3,1446.9 2257.9,1458.2 2259.5,1459.4 2261.1,1490.8 2262.7,1492.3 2264.3,1506.9 2267.0,1560.0 2267.0,1199.0"/>
<polyline stroke="#FFFF00" points="379.5,262.0 381.1,256.4 382.7,258.2 384.3,255.7 385.9,259.7 387.5,260.5 389.1,256.2 390.7,254.0 392.3,251.2 393.9,250.7 395.5,245.7 397.1,243.6 398.7,241.8 400.3,245.8 401.9,246.6 403.5,250.9 405.1,253.4 406.7,257.4 408.3,259.1 409.9,259.8 411.5,261.2 413.1,266.1 414.7,266.2 416.3,268.0 417.9,268.5 419.5,266.9 421.1,266.0 422.7,266.7 424.3,267.3 425.9,269.9 427.5,267.9 429.1,270.0 430.7,271.2 432.3,270.8 433.9,273.1 435.5,272.8 437.1,270.8 438.7,279.4 440.3,280.2 441.9,282.5 443.5,282.9 445.1,281.8 446.7,282.7 448.3,283.2 449.9,285.9 451.5,288.0 453.1,291.6 454.7,294.9 456.3,295.7 457.9,297.4 459.5,303.9 461.1,304.9 462.7,304.4 464.3,302.8 465.9,306.6 467.5,304.6 469.1,304.0 470.7,304.0 472.3,303.4 473.9,300.5 475.5,299.6 477.1,301.2 478.7,298.6 480.3,291.8 481.9,296.2 483.5,301.6 485.1,302.7 486.7,304.3 488.3,306.0 489.9,304.8 491.5,305.7 493.1,308.1 494.7,307.2 496.3,309.7 497.9,310.6 499.5,310.9 501.1,313.9 502.7,314.8 504.3,313.6 505.9,311.6 507.5,315.2 509.1,315.0 510.7,314.1 512.3,315.1 513.9,318.0 515.5,319.7 517.1,322.0 518.7,321.5 520.3,321.1 521.9,322.6 523.5,324.7 525.1,325.3 526.7,326.3 528.3,326.8 529.9,331.8 531.5,333.0 533.1,335.0 534.7,338.6 536.3,339.6 537.9,341.4 539.5,341.5 541.1,338.4 542.7,343.9 544.3,339.8 545.9,342.5 547.5,344.0 549.1,345.4 550.7,340.6 552.3,342.7 553.9,345.5 555.5,345.8 557.1,346.1 558.7,341.1 560.3,338.5 561.9,338.2 563.5,336.9 565.1,338.1 566.7,337.5 568.3,338.7 569.9,344.9 571.5,346.3 573.1,345.4 574.7,349.1 576.3,349.2 577.9,346.9 579.5,347.8 581.1,347.4 582.7,350.4 584.3,352.6 585.9,353.1 587.5,356.5 589.1,360.7 590.7,363.9 592.3,361.9 593.9,356.9 595.5,356.4 597.1,354.6 598.7,349.2 600.3,351.0 601.9,351.5 603.5,350.8 605.1,352.0 606.7,350.3 608.3,349.8 609.9,347.6 611.5,348.7 613.1,348.2 614.7,352.7 616.3,356.6 617.9,353.7 619.5,356.5 621.1,352.9 622.7,353.8 624.3,357.4 625.9,356.4 627.5,358.5 629.1,364.1 630.7,367.8 632.3,365.8 633.9,370.1 635.5,371.8 637.1,370.3 638.7,369.3 640.3,371.3 641.9,374.3 643.5,377.8 645.1,378.8 646.7,376.2 648.3,370.9 649.9,373.1 651.5,375.1 653.1,380.9 654.7,384.5 656.3,383.1 657.9,386.0 659.5,381.3 661.1,383.9 662.7,381.1 664.3,381.5 665.9,382.4 667.5,385.0 669.1,384.0 670.7,384.7 672.3,380.6 673.9,380.1 675.5,383.4 677.1,384.4 678.7,383.9 680.3,386.3 681.9,382.6 683.5,381.1 685.1,382.1 686.7,383.0 688.3,382.7 689.9,387.4 691.5,391.0 693.1,384.8 694.7,388.7 696.3,387.7 697.9,391.8 699.5,393.1 701.1,394.7 702.7,393.5 704.3,393.2 705.9,388.7 707.5,389.4 709.1,383.3 710.7,383.5 712.3,380.9 713.9,381.5 715.5,381.5 717.1,377.5 718.7,378.3 720.3,378.7 721.9,383.1 723.5,392.5 725.1,393.7 726.7,393.6 728.3,397.4 729.9,400.4 731.5,399.4 733.1,402.2 734.7,404.8 736.3,404.9 737.9,405.5 739.5,403.5 741.1,402.9 742.7,402.3 744.3,400.6 745.9,402.8 747.5,405.3 749.1,405.4 750.7,407.2 752.3,407.3 753.9,408.5 755.5,403.4 757.1,409.7 758.7,413.7 760.3,409.3 761.9,416.2 763.5,416.7 765.1,420.7 766.7,418.3 768.3,419.9 769.9,422.9 771.5,421.9 773.1,414.1 774.7,417.6 776.3,418.7 777.9,418.5 779.5,418.0 781.1,418.8 782.7,421.4 784.3,423.7 785.9,422.5 787.5,421.3 789.1,419.4 790.7,425.6 792.3,422.9 793.9,421.7 795.5,421.4 797.1,421.6 798.7,424.8 800.3,423.6 801.9,429.0 803.5,431.0 805.1,430.8 806.7,431.3 808.3,427.0 809.9,432.8 811.5,433.2 813.1,432.4 814.7,434.0 816.3,429.2 817.9,431.9 819.5,432.6 821.1,432.2 822.7,435.1 824.3,436.9 825.9,434.8 827.5,437.9 829.1,440.5 830.7,439.9 832.3,439.4 833.9,439.8 835.5,443.8 837.1,444.0 838.7,444.4 840.3,436.9 841.9,437.0 843.5,435.9 845.1,436.8 846.7,438.0 848.3,438.3 849.9,439.9 851.5,440.8 853.1,447.5 854.7,450.0 856.3,448.7 857.9,448.5 859.5,447.5 861.1,442.6 862.7,445.8 864.3,442.6 865.9,446.8 867.5,446.8 869.1,446.7 870.7,439.9 872.3,435.3 873.9,433.7 875.5,433.0 877.1,432.9 878.7,434.7 880.3,437.8 881.9,438.0 883.5,432.2 885.1,431.4 886.7,432.8 888.3,432.7 889.9,431.2 891.5,430.2 893.1,435.6 894.7,440.3 896.3,435.7 897.9,440.9 899.5,442.4 901.1,446.3 902.7,446.1 904.3,453.9 905.9,455.9 907.5,459.3 909.1,460.6 910.7,462.8 912.3,462.5 913.9,458.8 915.5,453.4 917.1,453.0 918.7,453.3 920.3,453.3 921.9,454.4 923.5,461.9 925.1,459.3 926.7,459.5 928.3,456.4 929.9,466.8 931.5,467.6 933.1,464.9 934.7,468.3 936.3,470.5 937.9,468.4 939.5,472.5 941.1,473.1 942.7,473.0 944.3,473.5 945.9,473.9 947.5,478.7 949.1,476.2 950.7,481.5 952.3,483.8 953.9,479.9 955.5,478.8 957.1,481.7 958.7,480.0 960.3,478.9 961.9,478.4 963.5,480.0 965.1,476.9 966.7,475.1 968.3,481.8 969.9,477.4 971.5,476.4 973.1,474.0 974.7,475.5 976.3,473.4 977.9,472.6 979.5,473.6 981.1,473.2 982.7,473.1 984.3,475.3 985.9,469.8 987.5,477.1 989.1,484.1 990.7,484.4 992.3,486.7 993.9,488.9 995.5,486.0 997.1,492.1 998.7,494.5 1000.3,492.0 1001.9,491.4 1003.5,492.0 1005.1,490.7 1006.7,491.7 1008.3,491.3 1009.9,493.8 1011.5,496.1 1013.1,491.8 1014.7,492.6 1016.3,489.8 1017.9,491.6 1019.5,499.3 1021.1,500.1 1022.7,501.6 1024.3,500.7 1025.9,498.1 1027.5,500.5 1029.1,499.4 1030.7,499.4 1032.3,501.6 1033.9,500.5 1035.5,502.9 1037.1,508.0 1038.7,516.2 1040.3,519.9 1041.9,516.3 1043.5,514.7 1045.1,513.8 1046.7,509.3 1048.3,508.7 1049.9,509.9 1051.5,513.1 1053.1,508.8 1054.7,516.9 1056.3,523.0 1057.9,526.1 1059.5,521.6 1061.1,522.6 1062.7,519.1 1064.3,516.4 1065.9,521.4 1067.5,528.7 1069.1,526.2 1070.7,528.2 1072.3,529.2 1073.9,528.7 1075.5,528.8 1077.1,530.1 1078.7,533.3 1080.3,538.1 1081.9,529.4 1083.5,532.8 1085.1,533.3 1086.7,535.9 1088.3,530.2 1089.9,531.9 1091.5,526.7 1093.1,534.7 1094.7,533.7 1096.3,534.0 1097.9,531.5 1099.5,539.8 1101.1,534.9 1102.7,537.2 1104.3,534.1 1105.9,530.9 1107.5,536.9 1109.1,534.4 1110.7,530.3 1112.3,534.2 1113.9,533.4 1115.5,534.4 1117.1,533.2 1118.7,532.4 1120.3,529.2 1121.9,528.8 1123.5,521.8 1125.1,526.2 1126.7,524.3 1128.3,526.0 1129.9,526.9 1131.5,530.5 1133.1,532.9 1134.7,532.8 1136.3,538.6 1137.9,536.4 1139.5,532.2 1141.1,533.6 1142.7,537.9 1144.3,533.6 1145.9,535.3 1147.5,538.0 1149.1,539.8 1150.7,541.1 1152.3,540.5 1153.9,542.0 1155.5,538.0 1157.1,537.9 1158.7,539.4 1160.3,542.1 1161.9,538.2 1163.5,540.0 1165.1,536.9 1166.7,541.2 1168.3,541.7 1169.9,539.8 1171.5,540.2 1173.1,538.9 1174.7,545.3 1176.3,543.6 1177.9,545.7 1179.5,544.3 1181.1,545.1 1182.7,547.6 1184.3,544.2 1185.9,540.5 1187.5,543.5 1189.1,540.4 1190.7,547.8 1192.3,552.2 1193.9,550.7 1195.5,550.5 1197.1,548.7 1198.7,551.4 1200.3,554.3 1201.9,545.5 1203.5,540.4 1205.1,545.9 1206.7,547.7 1208.3,550.9 1209.9,549.3 1211.5,550.1 1213.1,539.7 1214.7,546.9 1216.3,535.0 1217.9,540.8 1219.5,547.3 1221.1,550.2 1222.7,548.3 1224.3,547.1 1225.9,556.8 1227.5,557.2 1229.1,558.5 1230.7,557.0 1232.3,560.2 1233.9,561.4 1235.5,566.1 1237.1,569.0 1238.7,566.2 1240.3,570.4 1241.9,571.1 1243.5,574.7 1245.1,573.8 1246.7,572.5 1248.3,575.8 1249.9,573.8 1251.5,575.3 1253.1,569.9 1254.7,569.1 1256.3,572.2 1257.9,570.2 1259.5,564.0 1261.1,560.3 1262.7,561.4 1264.3,564.9 1265.9,574.6 1267.5,573.4 1269.1,575.9 1270.7,575.7 1272.3,575.2 1273.9,582.4 1275.5,581.2 1277.1,585.5 1278.7,584.3 1280.3,585.3 1281.9,588.7 1283.5,592.4 1285.1,596.9 1286.7,593.2 1288.3,592.4 1289.9,595.7 1291.5,604.5 1293.1,607.5 1294.7,598.0 1296.3,592.6 1297.9,587.3 1299.5,587.4 1301.1,579.9 1302.7,572.7 1304.3,570.4 1305.9,573.4 1307.5,575.2 1309.1,573.9 1310.7,577.1 1312.3,585.9 1313.9,589.5 1315.5,595.0 1317.1,598.5 1318.7,593.0 1320.3,598.5 1321.9,602.8 1323.5,608.0 1325.1,608.4 1326.7,604.9 1328.3,600.8 1329.9,600.3 1331.5,602.8 1333.1,604.4 1334.7,611.5 1336.3,610.8 1337.9,612.4 1339.5,611.7 1341.1,610.5 1342.7,609.5 1344.3,611.3 1345.9,618.4 1347.5,623.2 1349.1,621.5 1350.7,621.4 1352.3,627.3 1353.9,624.0 1355.5,623.9 1357.1,631.2 1358.7,627.4 1360.3,626.9 1361.9,628.6 1363.5,629.0 1365.1,623.1 1366.7,624.1 1368.3,619.8 1369.9,623.4 1371.5,624.7 1373.1,629.0 1374.7,631.6 1376.3,621.3 1377.9,622.0 1379.5,623.0 1381.1,619.4 1382.7,620.9 1384.3,625.7 1385.9,626.5 1387.5,632.4 1389.1,630.5 1390.7,633.8 1392.3,636.0 1393.9,641.2 1395.5,639.8 1397.1,639.7 1398.7,642.3 1400.3,642.9 1401.9,646.3 1403.5,650.1 1405.1,649.9 1406.7,652.2 1408.3,650.9 1409.9,657.0 1411.5,652.3 1413.1,648.7 1414.7,661.6 1416.3,655.3 1417.9,648.6 1419.5,647.8 1421.1,649.8 1422.7,644.3 1424.3,647.8 1425.9,650.9 1427.5,657.7 1429.1,658.7 1430.7,653.2 1432.3,656.0 1433.9,655.6 1435.5,653.4 1437.1,651.7 1438.7,651.7 1440.3,656.2 1441.9,653.2 1443.5,656.1 1445.1,648.0 1446.7,653.7 1448.3,652.2 1449.9,652.6 1451.5,650.2 1453.1,644.5 1454.7,637.5 1456.3,634.1 1457.9,638.2 1459.5,645.1 1461.1,649.3 1462.7,644.9 1464.3,645.2 1465.9,648.7 1467.5,651.5 1469.1,650.6 1470.7,645.3 1472.3,647.5 1473.9,642.3 1475.5,645.2 1477.1,653.1 1478.7,666.1 1480.3,664.8 1481.9,669.9 1483.5,674.9 1485.1,675.9 1486.7,671.8 1488.3,673.5 1489.9,677.2 1491.5,686.5 1493.1,691.9 1494.7,694.0 1496.3,699.0 1497.9,712.9 1499.5,719.5 1501.1,720.1 1502.7,726.7 1504.3,720.0 1505.9,720.2 1507.5,721.4 1509.1,723.6 1510.7,715.4 1512.3,713.8 1513.9,707.7 1515.5,705.8 1517.1,707.1 1518.7,695.7 1520.3,695.9 1521.9,690.0 1523.5,689.7 1525.1,691.7 1526.7,693.9 1528.3,693.5 1529.9,693.0 1531.5,689.6 1533.1,693.5 1534.7,697.5 1536.3,704.3 1537.9,703.0 1539.5,703.8 1541.1,699.0 1542.7,699.7 1544.3,701.7 1545.9,712.0 1547.5,711.2 1549.1,716.8 1550.7,711.1 1552.3,714.2 1553.9,718.6 1555.5,717.5 1557.1,713.6 1558.7,718.6 1560.3,724.5 1561.9,735.9 1563.5,731.8 1565.1,740.1 1566.7,748.1 1568.3,743.7 1569.9,751.2 1571.5,760.5 1573.1,757.3 1574.7,753.7 1576.3,755.1 1577.9,754.1 1579.5,747.7 1581.1,741.2 1582.7,744.0 1584.3,742.9 1585.9,746.6 1587.5,746.8 1589.1,752.8 1590.7,749.5 1592.3,750.0 1593.9,759.6 1595.5,754.4 1597.1,733.2 1598.7,734.0 1600.3,735.9 1601.9,737.9 1603.5,744.9 1605.1,740.6 1606.7,746.3 1608.3,748.8 1609.9,750.0 1611.5,751.8 1613.1,745.5 1614.7,742.8 1616.3,747.0 1617.9,750.0 1619.5,755.7 1621.1,764.1 1622.7,759.3 1624.3,764.5 1625.9,776.4 1627.5,770.8 1629.1,782.4 1630.7,776.3 1632.3,766.9 1633.9,767.0 1635.5,774.0 1637.1,777.6 1638.7,766.1 1640.3,762.4 1641.9,771.2 1643.5,766.4 1645.1,767.1 1646.7,759.8 1648.3,770.5 1649.9,780.7 1651.5,774.0 1653.1,759.6 1654.7,764.1 1656.3,763.9 1657.9,768.5 1659.5,766.0 1661.1,762.2 1662.7,768.6 1664.3,773.6 1665.9,790.6 1667.5,789.5 1669.1,788.1 1670.7,782.5 1672.3,783.9 1673.9,789.1 1675.5,787.4 1677.1,786.8 1678.7,787.6 1680.3,784.2 1681.9,787.1 1683.5,795.7 1685.1,799.6 1686.7,803.3 1688.3,796.6 1689.9,791.1 1691.5,788.0 1693.1,797.0 1694.7,785.3 1696.3,789.5 1697.9,787.0 1699.5,787.6 1701.1,791.7 1702.7,797.0 1704.3,802.4 1705.9,801.7 1707.5,806.5 1709.1,813.9 1710.7,819.3 1712.3,817.4 1713.9,835.9 1715.5,824.8 1717.1,833.2 1718.7,841.1 1720.3,854.0 1721.9,851.5 1723.5,846.1 1725.1,846.8 1726.7,837.7 1728.3,840.9 1729.9,842.4 1731.5,839.4 1733.1,826.2 1734.7,826.1 1736.3,823.7 1737.9,810.8 1739.5,817.4 1741.1,824.3 1742.7,823.8 1744.3,821.2 1745.9,815.4 1747.5,808.0 1749.1,820.7 1750.7,812.3 1752.3,828.6 1753.9,827.9 1755.5,825.2 1757.1,827.5 1758.7,821.5 1760.3,829.2 1761.9,822.4 1763.5,824.2 1765.1,829.4 1766.7,844.4 1768.3,839.6 1769.9,833.0 1771.5,839.9 1773.1,842.0 1774.7,850.1 1776.3,859.8 1777.9,853.4 1779.5,847.6 1781.1,849.5 1782.7,847.3 1784.3,849.4 1785.9,844.8 1787.5,852.3 1789.1,854.8 1790.7,857.1 1792.3,853.5 1793.9,861.7 1795.5,857.5 1797.1,851.2 1798.7,851.5 1800.3,851.3 1801.9,836.7 1803.5,834.3 1805.1,832.4 1806.7,838.1 1808.3,846.9 1809.9,836.1 1811.5,831.8 1813.1,834.9 1814.7,836.6 1816.3,844.6 1817.9,847.3 1819.5,847.3 1821.1,849.0 1822.7,868.4 1824.3,865.0 1825.9,871.3 1827.5,874.4 1829.1,879.3 1830.7,880.5 1832.3,882.8 1833.9,891.6 1835.5,888.0 1837.1,895.9 1838.7,895.0 1840.3,901.1 1841.9,895.5 1843.5,892.5 1845.1,892.5 1846.7,897.2 1848.3,888.3 1849.9,886.4 1851.5,896.6 1853.1,904.4 1854.7,914.1 1856.3,896.3 1857.9,888.9 1859.5,869.5 1861.1,883.0 1862.7,883.3 1864.3,885.2 1865.9,891.6 1867.5,888.9 1869.1,881.9 1870.7,880.8 1872.3,895.6 1873.9,910.5 1875.5,899.6 1877.1,892.2 1878.7,895.9 1880.3,888.7 1881.9,881.4 1883.5,887.2 1885.1,891.8 1886.7,897.4 1888.3,895.0 1889.9,901.4 1891.5,914.2 1893.1,912.9 1894.7,913.6 1896.3,899.1 1897.9,897.1 1899.5,901.4 1901.1,901.1 1902.7,916.1 1904.3,903.7 1905.9,910.4 1907.5,916.2 1909.1,922.6 1910.7,925.3 1912.3,928.0 1913.9,926.1 1915.5,929.9 1917.1,935.9 1918.7,929.6 1920.3,915.3 1921.9,917.9 1923.5,919.2 1925.1,919.6 1926.7,923.3 1928.3,910.2 1929.9,912.7 1931.5,920.2 1933.1,919.6 1934.7,933.3 1936.3,933.7 1937.9,927.3 1939.5,926.2 1941.1,930.0 1942.7,936.2 1944.3,932.0 1945.9,936.5 1947.5,943.8 1949.1,945.5 1950.7,942.5 1952.3,948.8 1953.9,945.9 1955.5,952.7 1957.1,954.4 1958.7,957.1 1960.3,965.1 1961.9,957.7 1963.5,966.7 1965.1,980.9 1966.7,963.0 1968.3,970.5 1969.9,965.3 1971.5,976.8 1973.1,976.6 1974.7,975.0 1976.3,975.7 1977.9,972.3 1979.5,961.4 1981.1,975.8 1982.7,974.6 1984.3,964.7 1985.9,958.2 1987.5,973.8 1989.1,956.8 1990.7,972.1 1992.3,970.5 1993.9,971.0 1995.5,981.7 1997.1,1001.4 1998.7,997.7 2000.3,1024.2 2001.9,1023.6 2003.5,1012.9 2005.1,1012.8 2006.7,1019.6 2008.3,1017.5 2009.9,1025.0 2011.5,1016.1 2013.1,1036.3 2014.7,1033.4 2016.3,1022.1 2017.9,1009.7 2019.5,1004.2 2021.1,1008.3 2022.7,1000.4 2024.3,1004.4 2025.9,1002.7 2027.5,1020.8 2029.1,1025.3 2030.7,1041.5 2032.3,1018.6 2033.9,1024.6 2035.5,1018.3 2037.1,1033.9 2038.7,1036.3 2040.3,1027.0 2041.9,1049.3 2043.5,1069.3 2045.1,1071.8 2046.7,1075.3 2048.3,1058.4 2049.9,1070.2 2051.5,1085.4 2053.1,1103.0 2054.7,1092.4 2056.3,1078.8 2057.9,1080.7 2059.5,1092.9 2061.1,1106.2 2062.7,1096.8 2064.3,1091.8 2065.9,1099.2 2067.5,1076.7 2069.1,1080.5 2070.7,1076.3 2072.3,1078.7 2073.9,1086.2 2075.5,1115.4 2077.1,1103.7 2078.7,1088.8 2080.3,1113.5 2081.9,1125.0 2083.5,1147.0 2085.1,1149.8 2086.7,1156.5 2088.3,1157.1 2089.9,1140.2 2091.5,1157.3 2093.1,1160.2 2094.7,1159.1 2096.3,1165.7 2097.9,1165.4 2099.5,1153.7 2101.1,1151.8 2102.7,1145.6 2104.3,1153.1 2105.9,1146.4 2107.5,1153.7 2109.1,1147.3 2110.7,1141.7 2112.3,1119.9 2113.9,1135.4 2115.5,1135.0 2117.1,1145.9 2118.7,1132.2 2120.3,1136.8 2121.9,1135.2 2123.5,1142.8 2125.1,1142.6 2126.7,1140.3 2128.3,1135.1 2129.9,1135.3 2131.5,1137.1 2133.1,1111.0 2134.7,1106.6 2136.3,1133.0 2137.9,1127.6 2139.5,1123.4 2141.1,1125.2 2142.7,1126.5 2144.3,1140.5 2145.9,1158.7 2147.5,1215.0 2149.1,1271.5 2150.7,1291.7 2152.3,1286.1 2153.9,1278.5 2155.5,1251.8 2157.1,1240.6 2158.7,1256.7 2160.3,1262.6 2161.9,1268.3 2163.5,1264.5 2165.1,1263.1 2166.7,1252.9 2168.3,1263.3 2169.9,1271.8 2171.5,1274.6 2173.1,1262.1 2174.7,1247.7 2176.3,1235.0 2177.9,1226.0 2179.5,1256.9 2181.1,1264.4 2182.7,1243.7 2184.3,1203.6 2185.9,1207.6 2187.5,1207.9 2189.1,1216.4 2190.7,1204.6 2192.3,1239.3 2193.9,1235.0 2195.5,1226.0 2197.1,1201.7 2198.7,1220.9 2200.3,1198.7 2201.9,1174.2 2203.5,1195.9 2205.1,1214.9 2206.7,1204.6 2208.3,1241.5 2209.9,1239.0 2211.5,1270.3 2213.1,1254.4 2214.7,1263.7 2216.3,1254.4 2217.9,1268.8 2219.5,1287.1 2221.1,1292.2 2222.7,1316.0 2224.3,1331.2 2225.9,1371.5 2227.5,1370.0 2229.1,1386.9 2230.7,1391.2 2232.3,1348.6 2233.9,1324.7 2235.5,1347.1 2237.1,1378.0 2238.7,1378.0 2240.3,1384.4 2241.9,1402.8 2243.5,1406.1 2245.1,1429.4 2246.7,1429.9 2248.3,1419.6 2249.9,1431.8 2251.5,1404.3 2253.1,1456.4 2254.7,1482.1 2256.3,1519.9 2257.9,1521.6 2259.5,1587.0 2261.1,1623.2 2262.7,1640.0 2263.0,1700.0"/>
<polyline stroke="#00FFFF" points="379.5,168.6 381.1,169.8 382.7,170.6 384.3,172.3 385.9,173.0 387.5,177.2 389.1,176.3 390.7,176.2 392.3,179.0 393.9,180.6 395.5,180.7 397.1,186.2 398.7,189.3 400.3,190.3 401.9,189.3 403.5,189.7 405.1,192.3 406.7,196.2 408.3,193.1 409.9,196.3 411.5,202.3 413.1,202.5 414.7,199.9 416.3,199.8 417.9,202.1 419.5,203.8 421.1,204.7 422.7,206.6 424.3,204.8 425.9,205.0 427.5,205.4 429.1,205.4 430.7,211.6 432.3,210.9 433.9,214.1 435.5,217.1 437.1,215.6 438.7,214.6 440.3,215.2 441.9,214.8 443.5,211.1 445.1,212.4 446.7,211.1 448.3,214.3 449.9,212.4 451.5,218.1 453.1,221.9 454.7,221.7 456.3,220.9 457.9,222.4 459.5,222.5 461.1,225.5 462.7,225.1 464.3,223.1 465.9,226.3 467.5,225.1 469.1,221.4 470.7,222.9 472.3,225.0 473.9,226.5 475.5,224.3 477.1,227.0 478.7,223.6 480.3,226.4 481.9,225.2 483.5,221.6 485.1,224.0 486.7,227.6 488.3,226.9 489.9,226.2 491.5,226.3 493.1,231.8 494.7,232.5 496.3,231.1 497.9,231.1 499.5,233.7 501.1,236.9 502.7,234.3 504.3,234.7 505.9,236.8 507.5,231.3 509.1,233.1 510.7,236.4 512.3,237.3 513.9,237.6 515.5,239.8 517.1,243.1 518.7,243.9 520.3,245.1 521.9,244.8 523.5,244.1 525.1,245.9 526.7,244.7 528.3,246.7 529.9,246.6 531.5,248.9 533.1,249.0 534.7,250.6 536.3,248.9 537.9,249.0 539.5,250.9 541.1,250.9 542.7,252.3 544.3,255.7 545.9,258.1 547.5,256.2 549.1,255.1 550.7,252.2 552.3,250.8 553.9,253.7 555.5,254.5 557.1,257.8 558.7,260.6 560.3,259.1 561.9,257.1 563.5,261.7 565.1,260.6 566.7,256.0 568.3,256.0 569.9,256.3 571.5,259.0 573.1,261.4 574.7,265.6 576.3,267.5 577.9,272.1 579.5,274.1 581.1,277.1 582.7,278.7 584.3,278.7 585.9,278.3 587.5,282.0 589.1,283.4 590.7,282.5 592.3,280.1 593.9,279.6 595.5,277.2 597.1,274.6 598.7,275.3 600.3,272.6 601.9,269.5 603.5,268.7 605.1,268.5 606.7,267.1 608.3,264.8 609.9,265.2 611.5,265.2 613.1,270.6 614.7,270.8 616.3,275.6 617.9,273.4 619.5,270.4 621.1,269.5 622.7,268.3 624.3,271.0 625.9,272.9 627.5,271.6 629.1,272.5 630.7,276.0 632.3,275.1 633.9,274.5 635.5,276.1 637.1,276.3 638.7,276.6 640.3,277.3 641.9,280.8 643.5,282.6 645.1,283.8 646.7,283.2 648.3,288.1 649.9,292.6 651.5,292.2 653.1,294.3 654.7,292.2 656.3,293.2 657.9,298.8 659.5,298.9 661.1,301.9 662.7,305.9 664.3,306.1 665.9,304.0 667.5,305.7 669.1,307.9 670.7,306.9 672.3,305.3 673.9,302.2 675.5,300.1 677.1,299.5 678.7,300.5 680.3,300.7 681.9,301.0 683.5,301.6 685.1,302.5 686.7,305.3 688.3,308.6 689.9,311.2 691.5,311.6 693.1,313.3 694.7,316.7 696.3,317.1 697.9,320.7 699.5,322.9 701.1,326.4 702.7,326.3 704.3,325.9 705.9,327.3 707.5,323.7 709.1,317.7 710.7,319.2 712.3,315.5 713.9,316.9 715.5,315.7 717.1,320.5 718.7,321.5 720.3,324.2 721.9,320.9 723.5,322.1 725.1,323.0 726.7,322.4 728.3,320.6 729.9,316.8 731.5,317.8 733.1,317.1 734.7,314.6 736.3,315.7 737.9,319.1 739.5,318.2 741.1,320.7 742.7,321.7 744.3,323.0 745.9,327.2 747.5,327.9 749.1,330.0 750.7,327.1 752.3,325.4 753.9,325.1 755.5,326.8 757.1,327.0 758.7,327.9 760.3,328.6 761.9,328.2 763.5,330.4 765.1,327.3 766.7,324.0 768.3,326.6 769.9,324.0 771.5,322.9 773.1,325.1 774.7,329.9 776.3,326.9 777.9,333.1 779.5,335.6 781.1,339.5 782.7,336.9 784.3,342.5 785.9,340.6 787.5,345.9 789.1,347.8 790.7,352.1 792.3,350.6 793.9,351.1 795.5,353.6 797.1,356.5 798.7,354.3 800.3,357.8 801.9,356.4 803.5,355.1 805.1,350.4 806.7,350.3 808.3,347.8 809.9,346.3 811.5,342.6 813.1,343.3 814.7,345.0 816.3,343.8 817.9,344.5 819.5,349.0 821.1,344.9 822.7,350.7 824.3,352.3 825.9,354.0 827.5,352.6 829.1,354.1 830.7,350.8 832.3,353.0 833.9,352.0 835.5,353.9 837.1,354.5 838.7,354.8 840.3,350.1 841.9,351.6 843.5,350.9 845.1,350.6 846.7,348.3 848.3,346.4 849.9,343.2 851.5,345.8 853.1,349.1 854.7,350.8 856.3,353.7 857.9,358.3 859.5,356.6 861.1,358.8 862.7,358.0 864.3,361.5 865.9,359.7 867.5,364.4 869.1,363.6 870.7,369.9 872.3,371.2 873.9,371.4 875.5,369.9 877.1,371.9 878.7,369.0 880.3,376.0 881.9,378.8 883.5,376.6 885.1,373.1 886.7,375.3 888.3,372.8 889.9,374.7 891.5,376.6 893.1,377.1 894.7,376.4 896.3,378.5 897.9,379.7 899.5,379.7 901.1,380.9 902.7,382.7 904.3,379.5 905.9,378.1 907.5,374.4 909.1,373.9 910.7,378.8 912.3,379.4 913.9,381.8 915.5,386.6 917.1,387.8 918.7,385.7 920.3,388.8 921.9,385.0 923.5,388.3 925.1,390.9 926.7,390.0 928.3,396.9 929.9,394.8 931.5,392.6 933.1,395.7 934.7,396.6 936.3,397.3 937.9,396.2 939.5,399.0 941.1,400.1 942.7,396.4 944.3,393.9 945.9,396.6 947.5,393.9 949.1,396.0 950.7,397.6 952.3,394.0 953.9,390.2 955.5,391.2 957.1,392.4 958.7,388.2 960.3,385.7 961.9,384.5 963.5,378.5 965.1,379.7 966.7,381.7 968.3,383.0 969.9,383.8 971.5,387.0 973.1,389.0 974.7,391.7 976.3,394.5 977.9,395.3 979.5,399.7 981.1,396.9 982.7,396.4 984.3,398.7 985.9,397.1 987.5,395.5 989.1,401.4 990.7,400.8 992.3,400.6 993.9,405.1 995.5,404.5 997.1,405.7 998.7,403.0 1000.3,404.6 1001.9,408.3 1003.5,410.4 1005.1,416.5 1006.7,416.0 1008.3,420.5 1009.9,423.8 1011.5,422.0 1013.1,419.6 1014.7,418.2 1016.3,418.2 1017.9,417.7 1019.5,421.3 1021.1,419.0 1022.7,419.9 1024.3,419.7 1025.9,416.5 1027.5,421.4 1029.1,424.0 1030.7,424.5 1032.3,420.7 1033.9,426.3 1035.5,424.4 1037.1,424.7 1038.7,429.1 1040.3,429.0 1041.9,427.6 1043.5,421.5 1045.1,422.6 1046.7,426.8 1048.3,429.5 1049.9,428.8 1051.5,428.8 1053.1,425.8 1054.7,427.8 1056.3,428.9 1057.9,427.4 1059.5,431.4 1061.1,430.4 1062.7,427.0 1064.3,430.6 1065.9,433.0 1067.5,434.3 1069.1,432.5 1070.7,436.2 1072.3,434.8 1073.9,434.7 1075.5,439.5 1077.1,443.0 1078.7,448.5 1080.3,449.2 1081.9,448.1 1083.5,447.8 1085.1,453.4 1086.7,455.8 1088.3,454.0 1089.9,455.4 1091.5,454.9 1093.1,455.5 1094.7,452.1 1096.3,455.3 1097.9,457.9 1099.5,457.2 1101.1,455.7 1102.7,460.0 1104.3,461.3 1105.9,462.9 1107.5,468.3 1109.1,468.1 1110.7,468.8 1112.3,469.9 1113.9,467.3 1115.5,461.8 1117.1,463.3 1118.7,467.9 1120.3,474.4 1121.9,475.9 1123.5,475.5 1125.1,475.0 1126.7,480.1 1128.3,474.8 1129.9,475.5 1131.5,472.6 1133.1,472.3 1134.7,473.1 1136.3,478.0 1137.9,475.2 1139.5,476.6 1141.1,476.2 1142.7,473.5 1144.3,475.5 1145.9,470.5 1147.5,476.6 1149.1,482.3 1150.7,481.0 1152.3,479.4 1153.9,483.0 1155.5,480.7 1157.1,486.4 1158.7,484.3 1160.3,486.1 1161.9,483.8 1163.5,486.3 1165.1,490.7 1166.7,492.5 1168.3,488.9 1169.9,482.3 1171.5,488.8 1173.1,491.0 1174.7,494.5 1176.3,493.5 1177.9,500.8 1179.5,503.5 1181.1,502.7 1182.7,496.5 1184.3,501.3 1185.9,500.9 1187.5,503.1 1189.1,499.8 1190.7,505.0 1192.3,507.9 1193.9,509.1 1195.5,507.5 1197.1,503.6 1198.7,505.6 1200.3,502.9 1201.9,508.7 1203.5,510.4 1205.1,513.9 1206.7,515.3 1208.3,511.6 1209.9,518.0 1211.5,518.8 1213.1,518.5 1214.7,522.7 1216.3,521.2 1217.9,519.9 1219.5,515.9 1221.1,507.4 1222.7,510.4 1224.3,512.8 1225.9,516.4 1227.5,516.5 1229.1,518.7 1230.7,514.5 1232.3,514.0 1233.9,517.4 1235.5,519.5 1237.1,514.0 1238.7,515.0 1240.3,513.5 1241.9,520.2 1243.5,516.3 1245.1,521.5 1246.7,520.9 1248.3,525.0 1249.9,522.7 1251.5,521.4 1253.1,519.8 1254.7,517.1 1256.3,523.0 1257.9,519.1 1259.5,525.0 1261.1,526.8 1262.7,527.6 1264.3,523.7 1265.9,526.5 1267.5,528.0 1269.1,525.6 1270.7,529.0 1272.3,534.3 1273.9,528.2 1275.5,535.9 1277.1,535.4 1278.7,539.6 1280.3,541.5 1281.9,541.0 1283.5,541.9 1285.1,543.3 1286.7,540.5 1288.3,542.0 1289.9,545.4 1291.5,541.8 1293.1,545.0 1294.7,543.5 1296.3,545.8 1297.9,545.6 1299.5,543.0 1301.1,545.3 1302.7,554.3 1304.3,552.7 1305.9,555.6 1307.5,555.9 1309.1,556.8 1310.7,557.7 1312.3,558.7 1313.9,554.2 1315.5,549.1 1317.1,552.9 1318.7,555.9 1320.3,554.2 1321.9,551.8 1323.5,552.4 1325.1,554.4 1326.7,553.0 1328.3,550.6 1329.9,550.8 1331.5,549.7 1333.1,553.9 1334.7,560.5 1336.3,555.4 1337.9,548.9 1339.5,545.9 1341.1,543.7 1342.7,535.4 1344.3,540.9 1345.9,540.4 1347.5,535.9 1349.1,543.7 1350.7,543.3 1352.3,540.9 1353.9,541.9 1355.5,544.0 1357.1,546.5 1358.7,549.6 1360.3,544.1 1361.9,540.8 1363.5,545.0 1365.1,545.2 1366.7,549.5 1368.3,546.7 1369.9,548.9 1371.5,548.1 1373.1,549.6 1374.7,561.8 1376.3,555.6 1377.9,555.9 1379.5,556.7 1381.1,563.1 1382.7,563.6 1384.3,560.4 1385.9,562.8 1387.5,564.3 1389.1,567.9 1390.7,560.8 1392.3,566.4 1393.9,568.2 1395.5,571.9 1397.1,570.5 1398.7,573.9 1400.3,573.9 1401.9,580.2 1403.5,574.7 1405.1,573.3 1406.7,572.4 1408.3,561.8 1409.9,561.8 1411.5,570.5 1413.1,574.0 1414.7,578.4 1416.3,579.1 1417.9,581.1 1419.5,580.4 1421.1,577.3 1422.7,575.1 1424.3,578.5 1425.9,579.7 1427.5,581.9 1429.1,578.6 1430.7,583.2 1432.3,578.9 1433.9,585.2 1435.5,589.7 1437.1,588.9 1438.7,584.7 1440.3,587.3 1441.9,582.7 1443.5,584.9 1445.1,584.6 1446.7,584.1 1448.3,589.9 1449.9,596.6 1451.5,594.1 1453.1,597.6 1454.7,598.3 1456.3,602.8 1457.9,601.6 1459.5,600.2 1461.1,598.7 1462.7,599.1 1464.3,602.7 1465.9,607.2 1467.5,619.7 1469.1,615.2 1470.7,618.2 1472.3,616.0 1473.9,626.6 1475.5,634.5 1477.1,639.3 1478.7,645.0 1480.3,644.3 1481.9,636.2 1483.5,632.7 1485.1,631.7 1486.7,625.6 1488.3,623.9 1489.9,619.5 1491.5,610.3 1493.1,618.7 1494.7,618.2 1496.3,614.0 1497.9,610.8 1499.5,608.6 1501.1,612.8 1502.7,612.1 1504.3,619.5 1505.9,623.8 1507.5,628.2 1509.1,631.5 1510.7,629.5 1512.3,633.2 1513.9,636.6 1515.5,634.7 1517.1,640.0 1518.7,640.9 1520.3,645.8 1521.9,645.6 1523.5,649.3 1525.1,649.5 1526.7,646.5 1528.3,650.2 1529.9,652.6 1531.5,651.5 1533.1,651.3 1534.7,650.9 1536.3,658.8 1537.9,652.9 1539.5,652.8 1541.1,654.3 1542.7,654.5 1544.3,659.0 1545.9,659.8 1547.5,657.9 1549.1,664.0 1550.7,665.5 1552.3,668.6 1553.9,670.3 1555.5,667.5 1557.1,663.5 1558.7,668.9 1560.3,669.4 1561.9,680.3 1563.5,687.2 1565.1,685.3 1566.7,688.0 1568.3,691.5 1569.9,696.3 1571.5,694.2 1573.1,690.8 1574.7,686.9 1576.3,695.7 1577.9,696.9 1579.5,692.0 1581.1,688.2 1582.7,696.1 1584.3,692.7 1585.9,699.1 1587.5,689.4 1589.1,687.8 1590.7,687.7 1592.3,686.0 1593.9,684.7 1595.5,689.3 1597.1,692.3 1598.7,696.1 1600.3,686.3 1601.9,692.1 1603.5,693.7 1605.1,694.6 1606.7,693.9 1608.3,687.5 1609.9,687.3 1611.5,695.2 1613.1,698.6 1614.7,700.3 1616.3,702.1 1617.9,706.5 1619.5,710.0 1621.1,716.2 1622.7,717.2 1624.3,724.0 1625.9,722.8 1627.5,726.7 1629.1,729.0 1630.7,726.1 1632.3,725.7 1633.9,719.9 1635.5,735.6 1637.1,732.2 1638.7,738.1 1640.3,737.5 1641.9,732.4 1643.5,739.0 1645.1,738.2 1646.7,728.8 1648.3,727.7 1649.9,727.7 1651.5,726.0 1653.1,734.0 1654.7,735.7 1656.3,737.8 1657.9,740.2 1659.5,734.8 1661.1,732.2 1662.7,737.4 1664.3,736.3 1665.9,740.4 1667.5,745.8 1669.1,751.3 1670.7,749.1 1672.3,751.0 1673.9,748.9 1675.5,749.5 1677.1,759.6 1678.7,761.1 1680.3,757.0 1681.9,753.5 1683.5,768.6 1685.1,776.8 1686.7,786.1 1688.3,780.9 1689.9,786.0 1691.5,778.2 1693.1,773.2 1694.7,768.3 1696.3,764.9 1697.9,768.9 1699.5,777.4 1701.1,771.8 1702.7,774.0 1704.3,771.0 1705.9,767.5 1707.5,766.4 1709.1,761.0 1710.7,755.9 1712.3,748.5 1713.9,751.1 1715.5,743.0 1717.1,741.1 1718.7,741.9 1720.3,745.0 1721.9,748.6 1723.5,754.6 1725.1,759.6 1726.7,760.7 1728.3,756.9 1729.9,757.1 1731.5,769.8 1733.1,754.9 1734.7,757.0 1736.3,760.4 1737.9,753.8 1739.5,755.5 1741.1,753.1 1742.7,751.7 1744.3,761.0 1745.9,762.7 1747.5,759.6 1749.1,757.4 1750.7,759.2 1752.3,766.9 1753.9,773.7 1755.5,765.7 1757.1,765.7 1758.7,779.3 1760.3,772.8 1761.9,779.0 1763.5,781.7 1765.1,781.0 1766.7,787.0 1768.3,793.9 1769.9,788.2 1771.5,791.9 1773.1,794.1 1774.7,805.2 1776.3,804.2 1777.9,802.8 1779.5,796.8 1781.1,804.5 1782.7,812.1 1784.3,812.5 1785.9,810.1 1787.5,815.5 1789.1,811.8 1790.7,810.9 1792.3,831.5 1793.9,832.2 1795.5,839.8 1797.1,832.8 1798.7,831.3 1800.3,834.4 1801.9,838.8 1803.5,840.0 1805.1,833.1 1806.7,836.1 1808.3,829.5 1809.9,839.1 1811.5,837.3 1813.1,843.2 1814.7,845.1 1816.3,845.4 1817.9,846.2 1819.5,851.0 1821.1,851.2 1822.7,861.1 1824.3,856.4 1825.9,850.9 1827.5,856.3 1829.1,853.0 1830.7,849.1 1832.3,837.1 1833.9,833.0 1835.5,837.3 1837.1,832.8 1838.7,834.5 1840.3,837.4 1841.9,835.9 1843.5,847.0 1845.1,838.0 1846.7,834.1 1848.3,842.4 1849.9,842.6 1851.5,838.6 1853.1,843.6 1854.7,845.6 1856.3,857.3 1857.9,860.1 1859.5,861.5 1861.1,858.1 1862.7,851.0 1864.3,850.6 1865.9,853.8 1867.5,861.6 1869.1,878.7 1870.7,874.4 1872.3,897.0 1873.9,892.9 1875.5,887.9 1877.1,891.3 1878.7,893.1 1880.3,892.4 1881.9,896.1 1883.5,898.8 1885.1,897.1 1886.7,896.8 1888.3,906.3 1889.9,905.6 1891.5,906.2 1893.1,911.2 1894.7,915.8 1896.3,909.6 1897.9,915.3 1899.5,915.6 1901.1,914.8 1902.7,918.8 1904.3,919.4 1905.9,921.6 1907.5,924.0 1909.1,929.0 1910.7,937.7 1912.3,926.1 1913.9,932.5 1915.5,944.2 1917.1,941.5 1918.7,946.4 1920.3,939.5 1921.9,937.8 1923.5,932.4 1925.1,932.1 1926.7,929.1 1928.3,917.3 1929.9,916.1 1931.5,927.7 1933.1,924.0 1934.7,933.9 1936.3,933.8 1937.9,931.2 1939.5,941.4 1941.1,935.3 1942.7,939.6 1944.3,935.2 1945.9,935.5 1947.5,944.8 1949.1,949.7 1950.7,943.6 1952.3,946.0 1953.9,954.6 1955.5,960.9 1957.1,961.2 1958.7,965.6 1960.3,958.9 1961.9,947.6 1963.5,951.7 1965.1,949.9 1966.7,951.0 1968.3,954.2 1969.9,958.6 1971.5,967.7 1973.1,972.0 1974.7,971.9 1976.3,988.8 1977.9,984.9 1979.5,982.9 1981.1,990.2 1982.7,995.3 1984.3,1001.9 1985.9,998.6 1987.5,999.5 1989.1,995.8 1990.7,1000.0 1992.3,991.6 1993.9,996.2 1995.5,997.5 1997.1,990.2 1998.7,993.3 2000.3,1005.1 2001.9,999.3 2003.5,979.8 2005.1,988.7 2006.7,997.5 2008.3,1004.5 2009.9,1019.2 2011.5,1025.4 2013.1,1038.5 2014.7,1033.8 2016.3,1033.6 2017.9,1049.4 2019.5,1039.7 2021.1,1044.3 2022.7,1048.7 2024.3,1064.5 2025.9,1055.7 2027.5,1079.9 2029.1,1085.2 2030.7,1083.2 2032.3,1071.0 2033.9,1054.4 2035.5,1038.1 2037.1,1027.2 2038.7,1024.6 2040.3,1028.6 2041.9,1028.0 2043.5,1005.6 2045.1,1013.7 2046.7,1029.2 2048.3,1007.6 2049.9,1016.2 2051.5,1006.4 2053.1,1007.6 2054.7,1016.5 2056.3,1037.2 2057.9,1059.6 2059.5,1076.1 2061.1,1091.2 2062.7,1089.1 2064.3,1084.6 2065.9,1098.2 2067.5,1107.9 2069.1,1116.6 2070.7,1109.0 2072.3,1111.6 2073.9,1092.2 2075.5,1109.4 2077.1,1101.6 2078.7,1091.9 2080.3,1091.0 2081.9,1093.4 2083.5,1099.7 2085.1,1100.0 2086.7,1100.7 2088.3,1087.5 2089.9,1093.7 2091.5,1113.2 2093.1,1126.1 2094.7,1142.3 2096.3,1148.3 2097.9,1129.5 2099.5,1124.9 2101.1,1136.4 2102.7,1132.4 2104.3,1153.0 2105.9,1144.9 2107.5,1151.2 2109.1,1148.7 2110.7,1168.4 2112.3,1166.4 2113.9,1172.5 2115.5,1174.1 2117.1,1167.3 2118.7,1166.2 2120.3,1162.0 2121.9,1149.3 2123.5,1180.6 2125.1,1179.8 2126.7,1183.6 2128.3,1191.6 2129.9,1192.3 2131.5,1191.8 2133.1,1192.9 2134.7,1196.6 2136.3,1172.7 2137.9,1183.4 2139.5,1177.7 2141.1,1207.6 2142.7,1216.8 2144.3,1258.1 2145.9,1272.8 2147.5,1282.7 2149.1,1290.5 2150.7,1311.4 2152.3,1309.9 2153.9,1292.6 2155.5,1287.1 2157.1,1289.6 2158.7,1298.0 2160.3,1321.5 2161.9,1302.1 2163.5,1319.0 2165.1,1312.8 2166.7,1296.8 2168.3,1294.5 2169.9,1302.7 2171.5,1313.4 2173.1,1351.2 2174.7,1345.2 2176.3,1339.2 2177.9,1357.6 2179.5,1365.3 2181.1,1337.0 2182.7,1370.8 2184.3,1358.8 2185.9,1376.1 2187.5,1357.0 2189.1,1345.8 2190.7,1355.8 2192.3,1312.7 2193.9,1322.7 2195.5,1332.5 2197.1,1326.9 2198.7,1328.5 2200.3,1330.7 2201.9,1351.1 2203.5,1369.1 2205.1,1393.4 2206.7,1408.0 2208.3,1396.8 2209.9,1401.6 2211.5,1423.0 2213.1,1386.3 2214.7,1426.3 2216.3,1449.1 2217.9,1463.1 2219.5,1435.7 2221.1,1511.7 2222.7,1535.0 2224.3,1556.1 2225.9,1553.2 2227.5,1571.1 2229.1,1529.0 2230.7,1518.3 2232.3,1493.5 2233.9,1462.1 2235.5,1442.6 2237.1,1435.0 2238.7,1457.7 2240.3,1487.0 2241.9,1497.3 2243.5,1503.3 2245.1,1542.0 2246.7,1542.1 2248.3,1570.1 2249.9,1554.7 2251.5,1574.5 2253.1,1590.6 2254.7,1597.9 2256.3,1588.9 2257.9,1575.8 2259.5,1560.3 2261.1,1565.4 2266.0,1560.0 2272.5,1499.0 2272.5,1163.0"/>
<polyline stroke="#00FF00" points="379.5,159.1 381.1,158.5 382.7,160.4 384.3,164.8 385.9,164.8 387.5,166.3 389.1,167.6 390.7,165.9 392.3,166.8 393.9,167.9 395.5,168.3 397.1,171.8 398.7,171.2 400.3,173.2 401.9,174.8 403.5,177.5 405.1,177.8 406.7,179.2 408.3,179.1 409.9,179.3 411.5,181.0 413.1,181.3 414.7,181.3 416.3,182.4 417.9,181.5 419.5,185.4 421.1,184.2 422.7,180.6 424.3,181.8 425.9,182.1 427.5,183.3 429.1,186.5 430.7,187.5 432.3,186.4 433.9,187.4 435.5,195.4 437.1,196.1 438.7,199.6 440.3,204.3 441.9,206.3 443.5,205.3 445.1,205.6 446.7,205.0 448.3,207.0 449.9,207.1 451.5,207.2 453.1,208.1 454.7,209.3 456.3,211.5 457.9,215.1 459.5,216.3 461.1,217.5 462.7,215.3 464.3,214.0 465.9,216.6 467.5,213.9 469.1,215.9 470.7,216.0 472.3,212.9 473.9,214.7 475.5,217.5 477.1,218.5 478.7,215.3 480.3,214.4 481.9,212.1 483.5,213.8 485.1,215.2 486.7,216.9 488.3,219.9 489.9,222.2 491.5,226.4 493.1,228.6 494.7,233.0 496.3,233.4 497.9,234.7 499.5,237.4 501.1,239.0 502.7,237.7 504.3,238.9 505.9,238.5 507.5,240.6 509.1,242.1 510.7,242.6 512.3,243.3 513.9,246.1 515.5,246.7 517.1,247.2 518.7,250.3 520.3,248.9 521.9,246.3 523.5,244.4 525.1,247.2 526.7,245.9 528.3,246.2 529.9,251.4 531.5,254.2 533.1,256.5 534.7,253.4 536.3,254.8 537.9,257.8 539.5,258.3 541.1,261.4 542.7,261.3 544.3,261.0 545.9,261.9 547.5,264.8 549.1,263.6 550.7,264.2 552.3,263.4 553.9,262.3 555.5,260.3 557.1,264.1 558.7,261.1 560.3,261.9 561.9,262.1 563.5,258.2 565.1,259.9 566.7,259.9 568.3,262.4 569.9,262.3 571.5,258.2 573.1,256.7 574.7,257.6 576.3,260.8 577.9,261.6 579.5,264.2 581.1,265.3 582.7,265.1 584.3,267.4 585.9,270.3 587.5,267.2 589.1,270.8 590.7,272.6 592.3,273.5 593.9,271.2 595.5,273.4 597.1,274.6 598.7,276.7 600.3,280.3 601.9,280.0 603.5,280.0 605.1,284.9 606.7,285.9 608.3,289.8 609.9,291.1 611.5,289.2 613.1,288.6 614.7,288.7 616.3,292.1 617.9,293.5 619.5,297.2 621.1,292.1 622.7,298.0 624.3,298.8 625.9,295.8 627.5,293.2 629.1,291.0 630.7,295.3 632.3,299.5 633.9,301.0 635.5,301.9 637.1,300.8 638.7,301.6 640.3,298.7 641.9,300.2 643.5,302.5 645.1,307.1 646.7,299.1 648.3,301.5 649.9,301.1 651.5,301.3 653.1,302.7 654.7,303.9 656.3,301.1 657.9,299.6 659.5,299.5 661.1,303.4 662.7,303.3 664.3,308.4 665.9,307.7 667.5,307.0 669.1,311.0 670.7,314.0 672.3,314.9 673.9,316.4 675.5,315.3 677.1,316.1 678.7,316.2 680.3,319.6 681.9,317.1 683.5,315.5 685.1,319.0 686.7,320.4 688.3,321.6 689.9,319.9 691.5,319.1 693.1,319.4 694.7,320.0 696.3,321.7 697.9,320.7 699.5,317.8 701.1,317.4 702.7,316.1 704.3,319.0 705.9,317.0 707.5,316.6 709.1,317.5 710.7,321.4 712.3,320.3 713.9,321.5 715.5,323.0 717.1,330.5 718.7,329.4 720.3,330.6 721.9,332.4 723.5,329.9 725.1,332.3 726.7,339.1 728.3,337.2 729.9,339.2 731.5,335.6 733.1,332.4 734.7,334.5 736.3,335.4 737.9,342.0 739.5,343.5 741.1,346.2 742.7,346.3 744.3,343.2 745.9,347.7 747.5,349.5 749.1,352.5 750.7,353.3 752.3,355.1 753.9,356.5 755.5,359.1 757.1,361.5 758.7,358.9 760.3,357.6 761.9,355.8 763.5,352.9 765.1,358.6 766.7,361.0 768.3,362.6 769.9,361.3 771.5,361.7 773.1,363.9 774.7,365.2 776.3,362.9 777.9,362.6 779.5,357.3 781.1,357.0 782.7,355.5 784.3,355.7 785.9,358.1 787.5,353.2 789.1,351.7 790.7,354.4 792.3,351.2 793.9,354.4 795.5,357.8 797.1,354.9 798.7,356.0 800.3,355.2 801.9,357.0 803.5,359.0 805.1,357.7 806.7,356.6 808.3,361.0 809.9,358.5 811.5,365.0 813.1,365.4 814.7,369.2 816.3,372.0 817.9,368.2 819.5,365.6 821.1,366.9 822.7,366.9 824.3,368.8 825.9,365.7 827.5,367.4 829.1,362.7 830.7,365.0 832.3,368.6 833.9,366.0 835.5,366.0 837.1,368.2 838.7,372.6 840.3,371.0 841.9,374.7 843.5,377.0 845.1,378.9 846.7,378.9 848.3,381.1 849.9,378.5 851.5,376.7 853.1,376.6 854.7,377.3 856.3,373.8 857.9,372.0 859.5,377.3 861.1,372.8 862.7,370.7 864.3,371.7 865.9,371.5 867.5,372.7 869.1,372.3 870.7,377.5 872.3,377.3 873.9,374.6 875.5,380.6 877.1,378.0 878.7,380.9 880.3,384.4 881.9,385.7 883.5,384.1 885.1,384.3 886.7,385.4 888.3,392.7 889.9,393.3 891.5,394.3 893.1,392.4 894.7,396.9 896.3,398.5 897.9,397.8 899.5,396.0 901.1,396.2 902.7,394.2 904.3,392.3 905.9,391.5 907.5,392.8 909.1,392.9 910.7,393.5 912.3,398.0 913.9,397.9 915.5,398.8 917.1,398.1 918.7,398.3 920.3,401.5 921.9,398.0 923.5,402.2 925.1,400.0 926.7,402.8 928.3,401.8 929.9,397.9 931.5,401.8 933.1,404.1 934.7,405.7 936.3,406.4 937.9,408.0 939.5,407.4 941.1,404.7 942.7,402.4 944.3,403.8 945.9,401.0 947.5,398.7 949.1,401.9 950.7,403.4 952.3,408.8 953.9,408.7 955.5,410.6 957.1,413.9 958.7,412.8 960.3,414.2 961.9,409.2 963.5,409.7 965.1,408.5 966.7,406.5 968.3,407.4 969.9,412.6 971.5,412.0 973.1,418.1 974.7,417.1 976.3,420.6 977.9,423.8 979.5,430.6 981.1,428.1 982.7,428.9 984.3,433.8 985.9,432.9 987.5,437.7 989.1,439.0 990.7,435.1 992.3,433.2 993.9,430.9 995.5,435.7 997.1,439.7 998.7,440.5 1000.3,441.6 1001.9,436.3 1003.5,430.5 1005.1,432.2 1006.7,438.3 1008.3,437.7 1009.9,431.4 1011.5,435.7 1013.1,429.7 1014.7,433.6 1016.3,435.5 1017.9,441.8 1019.5,438.7 1021.1,437.2 1022.7,438.2 1024.3,438.4 1025.9,438.2 1027.5,440.4 1029.1,438.7 1030.7,439.6 1032.3,438.4 1033.9,437.6 1035.5,437.9 1037.1,434.6 1038.7,439.7 1040.3,436.1 1041.9,434.7 1043.5,436.7 1045.1,439.0 1046.7,437.8 1048.3,439.0 1049.9,437.2 1051.5,439.2 1053.1,442.2 1054.7,443.2 1056.3,449.0 1057.9,446.6 1059.5,450.1 1061.1,449.4 1062.7,446.1 1064.3,437.4 1065.9,442.6 1067.5,447.5 1069.1,453.3 1070.7,455.0 1072.3,454.2 1073.9,454.9 1075.5,456.6 1077.1,459.3 1078.7,455.3 1080.3,452.5 1081.9,452.8 1083.5,455.1 1085.1,456.6 1086.7,450.5 1088.3,450.3 1089.9,450.9 1091.5,454.6 1093.1,454.8 1094.7,454.7 1096.3,455.9 1097.9,455.1 1099.5,457.5 1101.1,457.8 1102.7,459.6 1104.3,461.8 1105.9,459.6 1107.5,465.3 1109.1,464.6 1110.7,463.9 1112.3,462.6 1113.9,463.8 1115.5,466.7 1117.1,461.9 1118.7,460.0 1120.3,461.0 1121.9,460.5 1123.5,461.3 1125.1,467.0 1126.7,467.3 1128.3,466.4 1129.9,467.2 1131.5,475.6 1133.1,473.2 1134.7,471.9 1136.3,467.0 1137.9,468.0 1139.5,470.7 1141.1,467.3 1142.7,470.8 1144.3,474.7 1145.9,470.5 1147.5,473.6 1149.1,473.0 1150.7,472.4 1152.3,474.7 1153.9,481.2 1155.5,478.2 1157.1,479.8 1158.7,486.2 1160.3,485.7 1161.9,485.4 1163.5,491.6 1165.1,489.1 1166.7,485.1 1168.3,484.0 1169.9,485.3 1171.5,489.1 1173.1,491.7 1174.7,489.8 1176.3,495.1 1177.9,488.0 1179.5,492.3 1181.1,492.9 1182.7,493.4 1184.3,489.0 1185.9,488.5 1187.5,493.4 1189.1,492.7 1190.7,496.0 1192.3,495.5 1193.9,498.8 1195.5,496.6 1197.1,499.5 1198.7,501.3 1200.3,500.4 1201.9,500.2 1203.5,502.2 1205.1,508.5 1206.7,505.7 1208.3,502.9 1209.9,503.3 1211.5,501.6 1213.1,499.9 1214.7,503.6 1216.3,501.2 1217.9,507.1 1219.5,505.8 1221.1,508.5 1222.7,511.8 1224.3,510.5 1225.9,505.0 1227.5,509.5 1229.1,510.0 1230.7,513.5 1232.3,515.4 1233.9,513.9 1235.5,508.6 1237.1,512.1 1238.7,513.0 1240.3,515.0 1241.9,515.4 1243.5,515.5 1245.1,515.7 1246.7,514.0 1248.3,517.2 1249.9,514.5 1251.5,508.8 1253.1,517.1 1254.7,514.2 1256.3,515.8 1257.9,519.3 1259.5,517.1 1261.1,523.1 1262.7,522.3 1264.3,532.0 1265.9,532.7 1267.5,536.9 1269.1,536.8 1270.7,532.5 1272.3,537.1 1273.9,535.6 1275.5,544.4 1277.1,536.7 1278.7,544.4 1280.3,550.3 1281.9,556.1 1283.5,553.5 1285.1,549.5 1286.7,544.3 1288.3,535.1 1289.9,531.0 1291.5,525.2 1293.1,527.4 1294.7,531.3 1296.3,526.3 1297.9,523.9 1299.5,529.1 1301.1,532.0 1302.7,530.3 1304.3,532.4 1305.9,530.9 1307.5,536.8 1309.1,538.9 1310.7,541.4 1312.3,541.4 1313.9,543.8 1315.5,543.8 1317.1,553.1 1318.7,548.8 1320.3,558.1 1321.9,559.8 1323.5,560.2 1325.1,559.4 1326.7,558.2 1328.3,566.8 1329.9,560.2 1331.5,567.6 1333.1,563.2 1334.7,573.9 1336.3,581.8 1337.9,574.0 1339.5,571.9 1341.1,575.9 1342.7,587.3 1344.3,583.5 1345.9,575.9 1347.5,584.1 1349.1,585.2 1350.7,585.4 1352.3,587.8 1353.9,584.4 1355.5,578.3 1357.1,585.5 1358.7,587.2 1360.3,588.8 1361.9,589.5 1363.5,591.0 1365.1,584.9 1366.7,581.5 1368.3,580.5 1369.9,581.8 1371.5,584.5 1373.1,584.8 1374.7,596.8 1376.3,601.4 1377.9,598.6 1379.5,598.8 1381.1,605.1 1382.7,598.1 1384.3,602.0 1385.9,612.4 1387.5,606.0 1389.1,608.3 1390.7,606.6 1392.3,615.8 1393.9,612.0 1395.5,614.1 1397.1,602.3 1398.7,594.4 1400.3,594.1 1401.9,590.9 1403.5,584.9 1405.1,583.8 1406.7,590.2 1408.3,591.6 1409.9,596.2 1411.5,594.7 1413.1,593.4 1414.7,594.7 1416.3,597.5 1417.9,599.3 1419.5,599.6 1421.1,600.7 1422.7,604.4 1424.3,604.0 1425.9,605.2 1427.5,604.3 1429.1,600.3 1430.7,607.8 1432.3,609.6 1433.9,608.4 1435.5,616.5 1437.1,620.6 1438.7,619.9 1440.3,624.9 1441.9,630.2 1443.5,630.6 1445.1,626.8 1446.7,627.6 1448.3,623.6 1449.9,615.1 1451.5,616.6 1453.1,604.9 1454.7,607.7 1456.3,609.4 1457.9,613.2 1459.5,605.8 1461.1,609.9 1462.7,607.9 1464.3,611.9 1465.9,613.3 1467.5,612.4 1469.1,612.1 1470.7,610.2 1472.3,606.9 1473.9,619.1 1475.5,624.1 1477.1,628.3 1478.7,639.0 1480.3,645.0 1481.9,645.0 1483.5,651.8 1485.1,655.2 1486.7,669.9 1488.3,660.5 1489.9,665.0 1491.5,653.9 1493.1,658.3 1494.7,656.0 1496.3,648.0 1497.9,649.5 1499.5,650.6 1501.1,654.0 1502.7,650.2 1504.3,647.8 1505.9,656.6 1507.5,650.4 1509.1,646.4 1510.7,649.1 1512.3,647.4 1513.9,639.4 1515.5,641.4 1517.1,644.0 1518.7,654.0 1520.3,652.8 1521.9,653.8 1523.5,659.3 1525.1,660.4 1526.7,669.0 1528.3,661.4 1529.9,670.0 1531.5,669.1 1533.1,668.8 1534.7,665.0 1536.3,674.0 1537.9,677.4 1539.5,676.7 1541.1,677.9 1542.7,678.5 1544.3,678.4 1545.9,681.9 1547.5,676.8 1549.1,668.9 1550.7,673.2 1552.3,677.4 1553.9,684.1 1555.5,689.3 1557.1,693.2 1558.7,702.6 1560.3,709.8 1561.9,711.3 1563.5,713.9 1565.1,711.9 1566.7,708.1 1568.3,701.5 1569.9,703.2 1571.5,706.4 1573.1,714.1 1574.7,719.7 1576.3,723.5 1577.9,725.2 1579.5,731.1 1581.1,730.5 1582.7,729.7 1584.3,738.4 1585.9,741.2 1587.5,732.7 1589.1,730.4 1590.7,734.5 1592.3,735.4 1593.9,740.4 1595.5,746.4 1597.1,743.5 1598.7,747.3 1600.3,752.0 1601.9,758.1 1603.5,758.5 1605.1,760.9 1606.7,746.6 1608.3,750.1 1609.9,744.3 1611.5,748.0 1613.1,745.2 1614.7,744.5 1616.3,737.8 1617.9,734.6 1619.5,740.3 1621.1,745.2 1622.7,747.7 1624.3,752.3 1625.9,757.0 1627.5,756.2 1629.1,749.1 1630.7,753.9 1632.3,742.6 1633.9,745.7 1635.5,746.5 1637.1,752.8 1638.7,754.0 1640.3,758.8 1641.9,758.5 1643.5,750.4 1645.1,747.0 1646.7,753.4 1648.3,753.4 1649.9,757.1 1651.5,772.4 1653.1,779.9 1654.7,782.5 1656.3,766.8 1657.9,769.2 1659.5,770.3 1661.1,777.9 1662.7,773.7 1664.3,769.1 1665.9,772.2 1667.5,777.6 1669.1,776.8 1670.7,766.5 1672.3,771.0 1673.9,771.7 1675.5,773.0 1677.1,784.5 1678.7,784.0 1680.3,788.1 1681.9,781.6 1683.5,789.6 1685.1,787.3 1686.7,793.9 1688.3,792.9 1689.9,782.2 1691.5,787.9 1693.1,778.5 1694.7,792.6 1696.3,790.8 1697.9,793.5 1699.5,787.8 1701.1,780.1 1702.7,781.7 1704.3,777.1 1705.9,787.4 1707.5,790.8 1709.1,791.6 1710.7,798.0 1712.3,801.5 1713.9,802.1 1715.5,802.0 1717.1,815.0 1718.7,815.0 1720.3,811.4 1721.9,822.6 1723.5,823.6 1725.1,834.7 1726.7,842.9 1728.3,838.5 1729.9,832.1 1731.5,831.7 1733.1,819.6 1734.7,812.5 1736.3,811.7 1737.9,818.7 1739.5,814.4 1741.1,808.0 1742.7,810.9 1744.3,813.8 1745.9,812.2 1747.5,821.8 1749.1,813.5 1750.7,816.1 1752.3,812.9 1753.9,817.2 1755.5,818.4 1757.1,828.9 1758.7,832.7 1760.3,841.8 1761.9,844.7 1763.5,853.1 1765.1,860.8 1766.7,869.2 1768.3,863.4 1769.9,862.7 1771.5,863.0 1773.1,852.1 1774.7,860.3 1776.3,856.7 1777.9,864.0 1779.5,867.1 1781.1,873.6 1782.7,869.0 1784.3,876.2 1785.9,869.2 1787.5,883.6 1789.1,882.1 1790.7,883.3 1792.3,878.9 1793.9,881.0 1795.5,876.9 1797.1,881.2 1798.7,877.1 1800.3,875.4 1801.9,866.3 1803.5,871.0 1805.1,870.2 1806.7,882.2 1808.3,880.3 1809.9,875.4 1811.5,869.7 1813.1,863.3 1814.7,875.9 1816.3,872.7 1817.9,892.6 1819.5,890.5 1821.1,889.4 1822.7,905.5 1824.3,908.3 1825.9,914.0 1827.5,911.9 1829.1,904.5 1830.7,911.3 1832.3,917.4 1833.9,907.9 1835.5,911.8 1837.1,917.6 1838.7,911.3 1840.3,891.9 1841.9,895.0 1843.5,898.1 1845.1,898.0 1846.7,899.5 1848.3,882.8 1849.9,879.3 1851.5,892.2 1853.1,889.9 1854.7,904.3 1856.3,903.2 1857.9,907.7 1859.5,921.7 1861.1,926.9 1862.7,920.9 1864.3,927.5 1865.9,930.2 1867.5,935.9 1869.1,928.9 1870.7,922.7 1872.3,921.9 1873.9,925.8 1875.5,938.0 1877.1,941.5 1878.7,946.1 1880.3,948.5 1881.9,943.2 1883.5,943.2 1885.1,956.4 1886.7,966.2 1888.3,976.8 1889.9,980.5 1891.5,979.3 1893.1,991.4 1894.7,978.3 1896.3,986.9 1897.9,976.5 1899.5,988.1 1901.1,994.6 1902.7,985.2 1904.3,995.4 1905.9,989.8 1907.5,978.4 1909.1,972.7 1910.7,982.8 1912.3,993.3 1913.9,988.3 1915.5,994.1 1917.1,997.3 1918.7,971.1 1920.3,975.3 1921.9,994.7 1923.5,1008.1 1925.1,1010.7 1926.7,1021.0 1928.3,1008.2 1929.9,1018.9 1931.5,1022.2 1933.1,1017.8 1934.7,1038.0 1936.3,1037.1 1937.9,1042.7 1939.5,1047.3 1941.1,1048.0 1942.7,1049.2 1944.3,1063.7 1945.9,1046.4 1947.5,1037.1 1949.1,1042.1 1950.7,1048.3 1952.3,1036.0 1953.9,1043.4 1955.5,1015.7 1957.1,1012.5 1958.7,1015.9 1960.3,993.4 1961.9,997.0 1963.5,1009.2 1965.1,1010.3 1966.7,1016.5 1968.3,1007.0 1969.9,1014.8 1971.5,1004.4 1973.1,1003.4 1974.7,1018.7 1976.3,1021.2 1977.9,1011.7 1979.5,1010.2 1981.1,1022.9 1982.7,1039.1 1984.3,1034.5 1985.9,1039.2 1987.5,1042.5 1989.1,1057.5 1990.7,1063.0 1992.3,1080.4 1993.9,1092.2 1995.5,1107.1 1997.1,1097.9 1998.7,1097.7 2000.3,1110.8 2001.9,1127.3 2003.5,1134.1 2005.1,1137.9 2006.7,1125.1 2008.3,1113.2 2009.9,1101.2 2011.5,1119.0 2013.1,1141.3 2014.7,1128.6 2016.3,1116.1 2017.9,1144.4 2019.5,1135.8 2021.1,1137.8 2022.7,1147.4 2024.3,1142.4 2025.9,1158.7 2027.5,1159.9 2029.1,1148.9 2030.7,1128.1 2032.3,1133.2 2033.9,1118.8 2035.5,1105.7 2037.1,1121.9 2038.7,1113.6 2040.3,1124.8 2041.9,1136.8 2043.5,1117.8 2045.1,1126.5 2046.7,1152.0 2048.3,1131.7 2049.9,1130.1 2051.5,1110.9 2053.1,1106.7 2054.7,1130.1 2056.3,1119.3 2057.9,1134.3 2059.5,1145.0 2061.1,1145.4 2062.7,1178.4 2064.3,1178.9 2065.9,1159.0 2067.5,1176.5 2069.1,1143.9 2070.7,1158.3 2072.3,1163.4 2073.9,1162.9 2075.5,1136.9 2077.1,1145.3 2078.7,1163.7 2080.3,1185.6 2081.9,1164.2 2083.5,1180.2 2085.1,1180.9 2086.7,1188.2 2088.3,1177.2 2089.9,1172.4 2091.5,1162.3 2093.1,1174.0 2094.7,1191.3 2096.3,1217.6 2097.9,1219.9 2099.5,1211.6 2101.1,1202.9 2102.7,1187.5 2104.3,1198.6 2105.9,1186.1 2107.5,1150.1 2109.1,1153.0 2110.7,1147.5 2112.3,1159.4 2113.9,1165.1 2115.5,1165.1 2117.1,1180.6 2118.7,1185.1 2120.3,1171.8 2121.9,1195.5 2123.5,1203.0 2125.1,1200.1 2126.7,1195.6 2128.3,1206.0 2129.9,1201.2 2131.5,1171.8 2133.1,1177.8 2134.7,1198.5 2136.3,1201.9 2137.9,1209.4 2139.5,1236.6 2141.1,1242.6 2142.7,1231.3 2144.3,1233.7 2145.9,1252.0 2147.5,1252.9 2149.1,1245.0 2150.7,1255.1 2152.3,1268.0 2153.9,1275.3 2155.5,1257.5 2157.1,1272.1 2158.7,1334.5 2160.3,1335.0 2161.9,1337.8 2163.5,1304.1 2165.1,1308.0 2166.7,1303.9 2168.3,1302.3 2169.9,1316.9 2171.5,1309.5 2173.1,1340.0 2174.7,1355.8 2176.3,1344.8 2177.9,1326.0 2179.5,1348.6 2181.1,1397.6 2182.7,1461.6 2184.3,1431.7 2185.9,1403.2 2187.5,1357.4 2189.1,1354.8 2190.7,1323.7 2192.3,1327.9 2193.9,1316.2 2195.5,1262.2 2197.1,1238.2 2198.7,1282.1 2200.3,1268.4 2201.9,1272.9 2203.5,1274.5 2205.1,1257.4 2206.7,1243.0 2208.3,1244.4 2209.9,1244.9 2211.5,1263.5 2213.1,1297.6 2214.7,1281.8 2216.3,1291.3 2217.9,1295.2 2219.5,1315.2 2221.1,1298.1 2222.7,1343.1 2224.3,1337.6 2225.9,1354.1 2227.5,1334.5 2229.1,1359.0 2230.7,1343.7 2232.3,1370.7 2233.9,1367.2 2235.5,1374.7 2237.1,1379.0 2238.7,1417.1 2240.3,1416.3 2241.9,1422.4 2243.5,1402.3 2245.1,1366.1 2246.7,1352.0 2248.3,1376.9 2249.9,1369.5 2251.5,1328.1 2253.1,1324.7 2254.7,1345.3 2256.3,1362.1 2257.9,1406.5 2259.5,1468.5 2261.1,1463.5 2262.7,1474.5 2264.3,1467.5 2265.9,1523.6 2267.5,1529.9 2269.1,1570.2 2269.8,1612.0 2270.0,1700.0"/>
<polyline stroke="#0000FF" points="379.5,254.3 381.1,256.2 382.7,254.9 384.3,257.1 385.9,261.4 387.5,263.3 389.1,260.6 390.7,262.3 392.3,260.6 393.9,265.1 395.5,265.6 397.1,265.8 398.7,269.2 400.3,269.7 401.9,276.4 403.5,276.2 405.1,277.5 406.7,280.3 408.3,280.6 409.9,282.4 411.5,283.8 413.1,287.7 414.7,283.9 416.3,282.4 417.9,280.8 419.5,285.2 421.1,288.0 422.7,285.2 424.3,283.1 425.9,288.8 427.5,287.9 429.1,286.4 430.7,283.3 432.3,282.1 433.9,280.4 435.5,280.7 437.1,278.3 438.7,279.0 440.3,281.8 441.9,283.5 443.5,285.7 445.1,285.0 446.7,287.3 448.3,292.6 449.9,294.7 451.5,293.0 453.1,293.8 454.7,298.5 456.3,300.5 457.9,300.6 459.5,302.9 461.1,300.9 462.7,302.7 464.3,302.4 465.9,295.6 467.5,298.7 469.1,301.9 470.7,300.0 472.3,300.4 473.9,303.4 475.5,305.7 477.1,310.6 478.7,311.6 480.3,311.3 481.9,310.0 483.5,311.6 485.1,308.8 486.7,304.4 488.3,304.7 489.9,306.3 491.5,306.5 493.1,307.4 494.7,309.0 496.3,302.0 497.9,301.4 499.5,302.6 501.1,310.0 502.7,310.3 504.3,313.5 505.9,318.3 507.5,317.5 509.1,318.3 510.7,318.0 512.3,317.3 513.9,318.1 515.5,321.9 517.1,329.5 518.7,329.2 520.3,329.7 521.9,329.5 523.5,331.0 525.1,332.1 526.7,334.3 528.3,333.2 529.9,333.2 531.5,337.8 533.1,340.5 534.7,340.8 536.3,337.0 537.9,343.0 539.5,352.0 541.1,348.7 542.7,348.7 544.3,345.6 545.9,345.5 547.5,346.1 549.1,348.3 550.7,344.8 552.3,343.4 553.9,342.5 555.5,342.9 557.1,337.9 558.7,336.1 560.3,334.1 561.9,333.2 563.5,338.2 565.1,340.9 566.7,343.1 568.3,341.1 569.9,342.5 571.5,343.5 573.1,344.8 574.7,347.6 576.3,354.3 577.9,355.6 579.5,358.6 581.1,360.6 582.7,358.8 584.3,360.5 585.9,363.3 587.5,358.0 589.1,353.8 590.7,356.0 592.3,352.3 593.9,354.0 595.5,354.6 597.1,352.4 598.7,356.8 600.3,359.2 601.9,366.7 603.5,367.5 605.1,365.9 606.7,372.5 608.3,372.2 609.9,374.8 611.5,377.2 613.1,379.6 614.7,376.8 616.3,375.6 617.9,374.6 619.5,374.7 621.1,373.8 622.7,370.1 624.3,368.7 625.9,364.7 627.5,369.2 629.1,368.5 630.7,364.9 632.3,366.5 633.9,364.9 635.5,361.7 637.1,364.2 638.7,364.0 640.3,369.8 641.9,373.1 643.5,374.5 645.1,374.9 646.7,380.4 648.3,381.2 649.9,380.7 651.5,382.2 653.1,383.2 654.7,388.7 656.3,390.8 657.9,392.4 659.5,389.8 661.1,390.1 662.7,395.0 664.3,390.8 665.9,392.5 667.5,391.8 669.1,393.2 670.7,397.3 672.3,396.4 673.9,399.6 675.5,405.7 677.1,401.5 678.7,403.2 680.3,402.1 681.9,399.5 683.5,404.7 685.1,403.1 686.7,402.6 688.3,397.1 689.9,398.4 691.5,398.1 693.1,400.3 694.7,400.6 696.3,402.1 697.9,401.1 699.5,404.5 701.1,398.6 702.7,397.8 704.3,399.9 705.9,402.3 707.5,398.7 709.1,397.7 710.7,400.9 712.3,401.3 713.9,400.6 715.5,404.5 717.1,403.9 718.7,410.6 720.3,410.9 721.9,413.7 723.5,415.4 725.1,418.8 726.7,419.8 728.3,421.3 729.9,420.6 731.5,422.9 733.1,421.8 734.7,421.8 736.3,425.3 737.9,429.4 739.5,425.6 741.1,423.3 742.7,423.0 744.3,428.1 745.9,427.7 747.5,432.5 749.1,433.8 750.7,431.2 752.3,434.1 753.9,436.1 755.5,433.2 757.1,436.0 758.7,435.3 760.3,433.5 761.9,433.9 763.5,433.7 765.1,435.1 766.7,430.2 768.3,432.1 769.9,430.4 771.5,431.7 773.1,424.7 774.7,428.2 776.3,426.1 777.9,424.2 779.5,423.1 781.1,422.7 782.7,427.0 784.3,429.6 785.9,431.3 787.5,428.6 789.1,424.4 790.7,424.6 792.3,424.7 793.9,423.0 795.5,426.0 797.1,429.6 798.7,434.7 800.3,435.5 801.9,441.8 803.5,449.6 805.1,448.0 806.7,454.2 808.3,453.0 809.9,459.7 811.5,452.6 813.1,453.4 814.7,454.2 816.3,450.0 817.9,446.9 819.5,448.1 821.1,453.9 822.7,450.8 824.3,452.5 825.9,454.6 827.5,460.1 829.1,457.5 830.7,457.6 832.3,461.1 833.9,462.1 835.5,461.4 837.1,459.8 838.7,462.9 840.3,463.7 841.9,467.7 843.5,464.0 845.1,462.5 846.7,460.4 848.3,467.5 849.9,466.6 851.5,468.2 853.1,470.8 854.7,462.1 856.3,462.1 857.9,456.6 859.5,450.8 861.1,451.7 862.7,452.2 864.3,455.5 865.9,452.7 867.5,455.7 869.1,460.3 870.7,459.6 872.3,459.7 873.9,461.6 875.5,462.9 877.1,465.8 878.7,462.9 880.3,469.3 881.9,467.8 883.5,465.2 885.1,475.3 886.7,472.6 888.3,474.0 889.9,464.4 891.5,465.5 893.1,465.3 894.7,469.3 896.3,468.5 897.9,466.9 899.5,473.8 901.1,474.7 902.7,474.6 904.3,473.4 905.9,469.9 907.5,473.1 909.1,480.6 910.7,477.9 912.3,476.7 913.9,480.1 915.5,477.3 917.1,481.3 918.7,478.3 920.3,480.6 921.9,479.2 923.5,481.6 925.1,481.0 926.7,482.5 928.3,481.7 929.9,488.4 931.5,486.2 933.1,490.6 934.7,489.2 936.3,488.8 937.9,490.9 939.5,491.2 941.1,487.8 942.7,489.2 944.3,490.3 945.9,489.8 947.5,489.2 949.1,489.8 950.7,484.7 952.3,489.5 953.9,493.8 955.5,502.7 957.1,500.6 958.7,503.2 960.3,503.3 961.9,506.4 963.5,508.4 965.1,507.5 966.7,503.1 968.3,503.1 969.9,504.8 971.5,507.8 973.1,502.9 974.7,501.5 976.3,504.8 977.9,505.0 979.5,496.9 981.1,499.7 982.7,506.4 984.3,505.0 985.9,501.4 987.5,506.4 989.1,509.1 990.7,516.0 992.3,518.0 993.9,514.4 995.5,508.9 997.1,507.4 998.7,508.9 1000.3,510.3 1001.9,504.1 1003.5,499.7 1005.1,496.7 1006.7,495.9 1008.3,502.5 1009.9,500.8 1011.5,507.1 1013.1,511.7 1014.7,511.4 1016.3,516.6 1017.9,519.5 1019.5,516.7 1021.1,521.0 1022.7,527.4 1024.3,529.5 1025.9,527.2 1027.5,526.2 1029.1,533.2 1030.7,529.9 1032.3,526.2 1033.9,522.4 1035.5,516.8 1037.1,520.5 1038.7,520.0 1040.3,521.1 1041.9,523.3 1043.5,517.2 1045.1,512.6 1046.7,513.8 1048.3,513.3 1049.9,513.8 1051.5,511.0 1053.1,516.3 1054.7,519.1 1056.3,521.5 1057.9,524.1 1059.5,521.0 1061.1,517.1 1062.7,519.2 1064.3,523.4 1065.9,524.9 1067.5,524.3 1069.1,524.6 1070.7,524.0 1072.3,521.1 1073.9,518.0 1075.5,519.2 1077.1,515.7 1078.7,512.4 1080.3,517.4 1081.9,515.6 1083.5,515.5 1085.1,518.6 1086.7,521.1 1088.3,520.4 1089.9,526.0 1091.5,528.4 1093.1,527.6 1094.7,533.7 1096.3,536.2 1097.9,535.8 1099.5,536.9 1101.1,542.6 1102.7,546.5 1104.3,547.7 1105.9,550.5 1107.5,550.9 1109.1,546.4 1110.7,550.0 1112.3,547.4 1113.9,551.0 1115.5,552.1 1117.1,549.8 1118.7,546.8 1120.3,550.0 1121.9,556.9 1123.5,557.8 1125.1,554.1 1126.7,550.0 1128.3,553.5 1129.9,553.8 1131.5,560.7 1133.1,563.7 1134.7,564.1 1136.3,565.0 1137.9,566.1 1139.5,569.8 1141.1,566.9 1142.7,565.0 1144.3,564.0 1145.9,558.9 1147.5,557.5 1149.1,553.2 1150.7,548.6 1152.3,549.7 1153.9,554.8 1155.5,551.4 1157.1,549.2 1158.7,544.5 1160.3,551.9 1161.9,551.8 1163.5,554.0 1165.1,554.4 1166.7,559.8 1168.3,561.0 1169.9,566.5 1171.5,566.9 1173.1,577.7 1174.7,575.6 1176.3,582.5 1177.9,585.3 1179.5,599.9 1181.1,605.4 1182.7,609.7 1184.3,607.4 1185.9,603.3 1187.5,596.2 1189.1,591.2 1190.7,587.1 1192.3,580.9 1193.9,582.0 1195.5,582.8 1197.1,580.9 1198.7,578.0 1200.3,579.3 1201.9,577.0 1203.5,576.0 1205.1,571.2 1206.7,575.1 1208.3,577.1 1209.9,576.6 1211.5,582.8 1213.1,586.8 1214.7,587.5 1216.3,589.5 1217.9,587.8 1219.5,588.8 1221.1,582.0 1222.7,588.0 1224.3,596.8 1225.9,595.7 1227.5,599.4 1229.1,602.0 1230.7,607.1 1232.3,606.6 1233.9,610.8 1235.5,607.8 1237.1,613.8 1238.7,620.1 1240.3,625.9 1241.9,632.8 1243.5,622.6 1245.1,627.6 1246.7,623.4 1248.3,613.2 1249.9,617.2 1251.5,617.8 1253.1,617.7 1254.7,621.1 1256.3,622.0 1257.9,623.6 1259.5,614.5 1261.1,618.4 1262.7,615.1 1264.3,611.5 1265.9,612.4 1267.5,611.2 1269.1,610.5 1270.7,607.9 1272.3,602.6 1273.9,602.1 1275.5,596.4 1277.1,597.6 1278.7,599.6 1280.3,595.9 1281.9,601.7 1283.5,600.5 1285.1,601.8 1286.7,598.5 1288.3,598.0 1289.9,600.6 1291.5,603.1 1293.1,602.8 1294.7,603.6 1296.3,603.9 1297.9,612.5 1299.5,618.8 1301.1,622.9 1302.7,632.2 1304.3,632.2 1305.9,635.7 1307.5,645.7 1309.1,642.7 1310.7,646.7 1312.3,648.1 1313.9,644.7 1315.5,642.8 1317.1,643.3 1318.7,641.9 1320.3,648.4 1321.9,649.0 1323.5,650.4 1325.1,655.4 1326.7,658.1 1328.3,658.1 1329.9,665.2 1331.5,665.5 1333.1,662.6 1334.7,658.6 1336.3,659.9 1337.9,663.0 1339.5,657.8 1341.1,656.8 1342.7,645.6 1344.3,649.7 1345.9,643.9 1347.5,641.6 1349.1,641.9 1350.7,640.0 1352.3,646.0 1353.9,647.1 1355.5,641.1 1357.1,646.3 1358.7,648.5 1360.3,648.6 1361.9,645.9 1363.5,643.3 1365.1,636.4 1366.7,638.3 1368.3,645.7 1369.9,654.6 1371.5,657.1 1373.1,663.7 1374.7,668.1 1376.3,667.0 1377.9,671.8 1379.5,677.0 1381.1,682.1 1382.7,684.4 1384.3,689.9 1385.9,690.6 1387.5,690.3 1389.1,688.4 1390.7,678.9 1392.3,675.7 1393.9,673.0 1395.5,671.7 1397.1,672.4 1398.7,680.7 1400.3,679.9 1401.9,681.6 1403.5,686.7 1405.1,685.0 1406.7,695.5 1408.3,699.6 1409.9,693.9 1411.5,701.2 1413.1,707.6 1414.7,701.0 1416.3,705.5 1417.9,700.0 1419.5,701.3 1421.1,715.2 1422.7,708.8 1424.3,713.9 1425.9,722.2 1427.5,722.9 1429.1,713.4 1430.7,718.5 1432.3,716.8 1433.9,717.4 1435.5,729.4 1437.1,718.9 1438.7,705.6 1440.3,703.9 1441.9,694.4 1443.5,688.5 1445.1,686.2 1446.7,691.1 1448.3,699.6 1449.9,696.9 1451.5,718.9 1453.1,729.7 1454.7,729.7 1456.3,733.6 1457.9,737.2 1459.5,746.5 1461.1,752.3 1462.7,759.8 1464.3,756.8 1465.9,767.0 1467.5,776.3 1469.1,765.4 1470.7,765.3 1472.3,752.4 1473.9,754.8 1475.5,749.1 1477.1,742.8 1478.7,728.0 1480.3,719.8 1481.9,725.3 1483.5,723.7 1485.1,722.6 1486.7,730.4 1488.3,738.9 1489.9,741.0 1491.5,742.9 1493.1,737.7 1494.7,731.0 1496.3,727.2 1497.9,733.2 1499.5,746.5 1501.1,750.3 1502.7,740.6 1504.3,730.6 1505.9,738.7 1507.5,744.6 1509.1,746.4 1510.7,754.3 1512.3,766.9 1513.9,763.4 1515.5,768.1 1517.1,774.6 1518.7,780.8 1520.3,774.3 1521.9,773.0 1523.5,769.2 1525.1,768.8 1526.7,760.3 1528.3,755.3 1529.9,752.5 1531.5,744.2 1533.1,735.2 1534.7,731.4 1536.3,735.2 1537.9,740.7 1539.5,742.9 1541.1,732.5 1542.7,739.5 1544.3,751.4 1545.9,755.5 1547.5,766.6 1549.1,769.7 1550.7,763.8 1552.3,776.6 1553.9,779.7 1555.5,784.0 1557.1,790.2 1558.7,788.8 1560.3,783.2 1561.9,782.1 1563.5,784.5 1565.1,776.3 1566.7,776.6 1568.3,771.7 1569.9,765.7 1571.5,763.2 1573.1,778.3 1574.7,770.7 1576.3,759.7 1577.9,762.8 1579.5,775.7 1581.1,778.1 1582.7,780.3 1584.3,781.1 1585.9,779.2 1587.5,782.6 1589.1,780.2 1590.7,775.9 1592.3,777.2 1593.9,786.1 1595.5,798.7 1597.1,798.8 1598.7,794.6 1600.3,796.4 1601.9,803.2 1603.5,799.1 1605.1,801.6 1606.7,808.4 1608.3,799.8 1609.9,796.4 1611.5,797.5 1613.1,788.1 1614.7,788.6 1616.3,793.8 1617.9,790.3 1619.5,790.5 1621.1,789.2 1622.7,789.6 1624.3,811.1 1625.9,816.0 1627.5,819.6 1629.1,815.2 1630.7,823.8 1632.3,811.7 1633.9,807.6 1635.5,812.4 1637.1,814.2 1638.7,814.6 1640.3,798.3 1641.9,807.0 1643.5,809.9 1645.1,807.7 1646.7,816.3 1648.3,817.4 1649.9,823.7 1651.5,813.3 1653.1,806.7 1654.7,807.5 1656.3,803.7 1657.9,813.5 1659.5,810.8 1661.1,809.2 1662.7,819.1 1664.3,810.5 1665.9,815.6 1667.5,807.3 1669.1,816.4 1670.7,821.7 1672.3,810.5 1673.9,804.2 1675.5,800.9 1677.1,805.2 1678.7,814.2 1680.3,815.2 1681.9,827.5 1683.5,837.1 1685.1,840.5 1686.7,829.1 1688.3,834.9 1689.9,828.3 1691.5,834.1 1693.1,832.5 1694.7,848.8 1696.3,846.6 1697.9,855.9 1699.5,855.2 1701.1,862.5 1702.7,869.6 1704.3,884.5 1705.9,888.8 1707.5,900.8 1709.1,903.5 1710.7,896.5 1712.3,889.6 1713.9,883.6 1715.5,878.9 1717.1,883.8 1718.7,869.3 1720.3,862.5 1721.9,860.3 1723.5,869.1 1725.1,873.2 1726.7,860.1 1728.3,853.6 1729.9,847.0 1731.5,843.8 1733.1,847.5 1734.7,850.9 1736.3,850.6 1737.9,860.1 1739.5,865.6 1741.1,865.0 1742.7,856.0 1744.3,864.2 1745.9,868.4 1747.5,868.5 1749.1,881.8 1750.7,888.8 1752.3,893.2 1753.9,895.6 1755.5,888.0 1757.1,892.1 1758.7,907.9 1760.3,916.2 1761.9,916.2 1763.5,931.4 1765.1,917.6 1766.7,918.6 1768.3,926.0 1769.9,931.2 1771.5,931.9 1773.1,932.0 1774.7,903.2 1776.3,906.2 1777.9,893.1 1779.5,901.3 1781.1,889.3 1782.7,884.2 1784.3,897.4 1785.9,912.5 1787.5,923.5 1789.1,918.3 1790.7,934.9 1792.3,933.6 1793.9,943.1 1795.5,947.2 1797.1,939.5 1798.7,943.9 1800.3,932.4 1801.9,948.4 1803.5,941.3 1805.1,955.4 1806.7,948.8 1808.3,952.5 1809.9,964.7 1811.5,971.6 1813.1,963.5 1814.7,942.6 1816.3,914.5 1817.9,928.5 1819.5,920.2 1821.1,923.2 1822.7,925.0 1824.3,923.6 1825.9,936.5 1827.5,926.2 1829.1,933.5 1830.7,939.3 1832.3,940.4 1833.9,928.3 1835.5,932.5 1837.1,949.3 1838.7,955.2 1840.3,933.7 1841.9,940.6 1843.5,944.0 1845.1,961.9 1846.7,959.4 1848.3,954.2 1849.9,931.4 1851.5,927.6 1853.1,931.4 1854.7,938.3 1856.3,933.3 1857.9,930.5 1859.5,929.3 1861.1,911.4 1862.7,926.1 1864.3,928.6 1865.9,930.9 1867.5,943.4 1869.1,934.9 1870.7,940.6 1872.3,947.7 1873.9,951.7 1875.5,955.4 1877.1,958.7 1878.7,960.1 1880.3,955.4 1881.9,972.1 1883.5,973.8 1885.1,981.2 1886.7,973.0 1888.3,981.4 1889.9,973.3 1891.5,972.8 1893.1,969.5 1894.7,972.0 1896.3,974.8 1897.9,991.7 1899.5,991.3 1901.1,1002.5 1902.7,999.0 1904.3,1003.0 1905.9,1007.5 1907.5,1005.5 1909.1,993.6 1910.7,981.3 1912.3,979.3 1913.9,947.9 1915.5,930.1 1917.1,937.8 1918.7,939.4 1920.3,951.1 1921.9,943.8 1923.5,955.5 1925.1,964.7 1926.7,970.5 1928.3,975.2 1929.9,970.8 1931.5,974.5 1933.1,984.3 1934.7,982.3 1936.3,970.2 1937.9,991.8 1939.5,979.1 1941.1,979.2 1942.7,985.5 1944.3,982.2 1945.9,989.1 1947.5,993.5 1949.1,985.4 1950.7,1008.6 1952.3,1007.5 1953.9,1007.8 1955.5,1014.3 1957.1,1005.7 1958.7,996.7 1960.3,1021.6 1961.9,1014.1 1963.5,1016.8 1965.1,1034.0 1966.7,1031.9 1968.3,1025.4 1969.9,1037.7 1971.5,1031.3 1973.1,1034.9 1974.7,1031.9 1976.3,1048.4 1977.9,1035.8 1979.5,1057.4 1981.1,1049.3 1982.7,1065.4 1984.3,1062.8 1985.9,1078.6 1987.5,1066.5 1989.1,1096.4 1990.7,1092.0 1992.3,1100.3 1993.9,1115.2 1995.5,1117.8 1997.1,1136.1 1998.7,1108.5 2000.3,1099.3 2001.9,1108.9 2003.5,1109.6 2005.1,1100.3 2006.7,1096.8 2008.3,1099.3 2009.9,1096.3 2011.5,1090.9 2013.1,1081.7 2014.7,1108.3 2016.3,1086.0 2017.9,1107.8 2019.5,1108.0 2021.1,1110.1 2022.7,1117.1 2024.3,1122.4 2025.9,1121.1 2027.5,1137.6 2029.1,1120.5 2030.7,1143.7 2032.3,1125.7 2033.9,1127.2 2035.5,1119.7 2037.1,1141.2 2038.7,1159.8 2040.3,1165.1 2041.9,1157.1 2043.5,1168.9 2045.1,1168.6 2046.7,1171.0 2048.3,1150.8 2049.9,1150.5 2051.5,1120.6 2053.1,1148.1 2054.7,1130.3 2056.3,1116.7 2057.9,1110.5 2059.5,1096.0 2061.1,1095.6 2062.7,1120.8 2064.3,1127.3 2065.9,1141.3 2067.5,1137.9 2069.1,1130.0 2070.7,1160.8 2072.3,1151.0 2073.9,1167.8 2075.5,1201.5 2077.1,1195.4 2078.7,1228.6 2080.3,1220.1 2081.9,1232.9 2083.5,1237.8 2085.1,1249.5 2086.7,1245.2 2088.3,1256.8 2089.9,1230.8 2091.5,1247.3 2093.1,1233.6 2094.7,1233.0 2096.3,1220.8 2097.9,1215.0 2099.5,1228.3 2101.1,1219.9 2102.7,1189.7 2104.3,1206.8 2105.9,1212.3 2107.5,1208.8 2109.1,1217.0 2110.7,1212.6 2112.3,1230.0 2113.9,1226.6 2115.5,1227.0 2117.1,1230.8 2118.7,1238.3 2120.3,1207.2 2121.9,1204.9 2123.5,1204.2 2125.1,1197.2 2126.7,1203.3 2128.3,1203.2 2129.9,1220.2 2131.5,1191.1 2133.1,1204.7 2134.7,1202.3 2136.3,1196.0 2137.9,1206.5 2139.5,1212.0 2141.1,1204.1 2142.7,1194.1 2144.3,1208.7 2145.9,1221.6 2147.5,1209.7 2149.1,1225.9 2150.7,1257.8 2152.3,1247.3 2153.9,1227.0 2155.5,1220.3 2157.1,1207.9 2158.7,1210.8 2160.3,1240.2 2161.9,1236.9 2163.5,1242.0 2165.1,1234.8 2166.7,1235.5 2168.3,1265.1 2169.9,1226.0 2171.5,1221.8 2173.1,1221.1 2174.7,1228.3 2176.3,1228.4 2177.9,1234.2 2179.5,1251.6 2181.1,1288.6 2182.7,1281.0 2184.3,1285.1 2185.9,1279.8 2187.5,1278.5 2189.1,1290.9 2190.7,1301.2 2192.3,1277.8 2193.9,1271.7 2195.5,1270.4 2197.1,1291.8 2198.7,1289.5 2200.3,1289.2 2201.9,1271.5 2203.5,1255.6 2205.1,1278.8 2206.7,1273.0 2208.3,1275.6 2209.9,1242.7 2211.5,1258.1 2213.1,1269.8 2214.7,1310.1 2216.3,1290.2 2217.9,1272.8 2219.5,1256.8 2221.1,1272.3 2222.7,1263.1 2224.3,1246.2 2225.9,1239.1 2227.5,1194.5 2229.1,1236.2 2230.7,1246.8 2232.3,1221.0 2233.9,1232.8 2235.5,1220.5 2237.1,1235.9 2238.7,1255.1 2240.3,1270.2 2241.9,1292.5 2243.5,1293.9 2245.1,1333.5 2246.7,1363.6 2248.3,1363.7 2249.9,1377.5 2251.5,1401.7 2253.1,1395.7 2254.7,1397.5 2256.3,1393.4 2257.9,1420.6 2259.5,1448.0 2261.1,1438.4 2262.7,1465.4 2264.0,1500.0 2268.5,1610.0 2268.5,1281.0"/>
<polyline stroke="#000000" points="379.5,368.7 381.1,371.1 382.7,372.7 384.3,373.8 385.9,373.3 387.5,381.4 389.1,387.4 390.7,385.6 392.3,387.0 393.9,382.1 395.5,388.4 397.1,387.5 398.7,391.7 400.3,391.1 401.9,396.1 403.5,388.9 405.1,391.7 406.7,394.5 408.3,396.1 409.9,397.1 411.5,401.8 413.1,400.5 414.7,402.9 416.3,406.6 417.9,411.9 419.5,408.8 421.1,410.9 422.7,412.8 424.3,414.1 425.9,414.9 427.5,413.3 429.1,414.4 430.7,416.3 432.3,420.2 433.9,423.1 435.5,421.3 437.1,416.6 438.7,420.9 440.3,415.6 441.9,420.2 443.5,428.0 445.1,422.4 446.7,426.5 448.3,426.0 449.9,426.4 451.5,420.8 453.1,425.1 454.7,426.3 456.3,425.0 457.9,428.2 459.5,427.1 461.1,425.1 462.7,427.2 464.3,427.1 465.9,424.9 467.5,427.7 469.1,427.9 470.7,424.9 472.3,427.5 473.9,429.2 475.5,432.7 477.1,432.0 478.7,430.2 480.3,430.8 481.9,433.7 483.5,430.4 485.1,427.4 486.7,432.2 488.3,436.4 489.9,442.3 491.5,441.7 493.1,441.5 494.7,439.2 496.3,442.8 497.9,449.4 499.5,456.6 501.1,458.4 502.7,453.8 504.3,450.2 505.9,454.1 507.5,458.8 509.1,464.5 510.7,466.8 512.3,468.7 513.9,471.1 515.5,476.0 517.1,482.0 518.7,489.8 520.3,493.9 521.9,489.0 523.5,487.7 525.1,487.9 526.7,490.7 528.3,489.0 529.9,492.1 531.5,488.4 533.1,493.7 534.7,492.1 536.3,497.6 537.9,499.5 539.5,505.3 541.1,502.5 542.7,493.9 544.3,495.3 545.9,493.7 547.5,489.2 549.1,484.4 550.7,485.2 552.3,485.1 553.9,477.1 555.5,475.4 557.1,479.6 558.7,480.4 560.3,477.4 561.9,481.0 563.5,477.4 565.1,481.9 566.7,485.5 568.3,485.2 569.9,491.1 571.5,494.6 573.1,490.5 574.7,491.0 576.3,485.5 577.9,481.7 579.5,483.4 581.1,482.7 582.7,483.5 584.3,488.9 585.9,489.0 587.5,494.3 589.1,488.2 590.7,493.5 592.3,492.7 593.9,500.1 595.5,500.6 597.1,500.1 598.7,496.7 600.3,498.4 601.9,501.9 603.5,502.8 605.1,502.5 606.7,513.2 608.3,519.8 609.9,518.1 611.5,520.1 613.1,527.8 614.7,521.2 616.3,517.5 617.9,520.9 619.5,520.8 621.1,521.2 622.7,519.8 624.3,514.3 625.9,513.6 627.5,511.4 629.1,514.8 630.7,512.9 632.3,517.8 633.9,518.8 635.5,514.1 637.1,512.8 638.7,511.1 640.3,515.5 641.9,519.5 643.5,527.5 645.1,527.0 646.7,524.3 648.3,523.6 649.9,517.9 651.5,523.7 653.1,524.3 654.7,528.5 656.3,523.9 657.9,528.9 659.5,529.7 661.1,531.8 662.7,542.9 664.3,540.4 665.9,542.7 667.5,531.9 669.1,540.6 670.7,538.5 672.3,536.3 673.9,536.4 675.5,533.2 677.1,545.0 678.7,546.8 680.3,551.2 681.9,546.6 683.5,546.8 685.1,539.0 686.7,539.9 688.3,546.1 689.9,542.7 691.5,536.0 693.1,538.7 694.7,544.4 696.3,540.3 697.9,538.2 699.5,540.4 701.1,535.6 702.7,540.9 704.3,542.3 705.9,536.1 707.5,533.4 709.1,537.6 710.7,543.2 712.3,547.4 713.9,550.6 715.5,547.0 717.1,549.5 718.7,548.8 720.3,547.2 721.9,552.7 723.5,556.2 725.1,558.7 726.7,562.5 728.3,562.0 729.9,566.6 731.5,570.2 733.1,569.0 734.7,575.9 736.3,578.4 737.9,575.8 739.5,572.3 741.1,570.2 742.7,569.5 744.3,563.1 745.9,565.8 747.5,566.9 749.1,559.5 750.7,556.2 752.3,557.9 753.9,557.1 755.5,555.1 757.1,554.7 758.7,552.7 760.3,563.5 761.9,563.2 763.5,567.5 765.1,569.1 766.7,571.4 768.3,568.7 769.9,569.1 771.5,563.7 773.1,561.7 774.7,560.9 776.3,561.2 777.9,556.5 779.5,560.6 781.1,563.4 782.7,565.5 784.3,569.2 785.9,571.7 787.5,559.2 789.1,557.7 790.7,563.0 792.3,568.4 793.9,574.0 795.5,576.4 797.1,583.6 798.7,579.5 800.3,583.1 801.9,582.8 803.5,586.9 805.1,592.1 806.7,597.0 808.3,594.7 809.9,601.7 811.5,598.7 813.1,596.7 814.7,607.0 816.3,605.4 817.9,608.8 819.5,612.3 821.1,611.8 822.7,611.0 824.3,606.2 825.9,609.4 827.5,606.0 829.1,596.5 830.7,594.2 832.3,585.6 833.9,580.1 835.5,586.6 837.1,581.9 838.7,588.1 840.3,579.3 841.9,575.1 843.5,573.9 845.1,572.6 846.7,578.9 848.3,580.9 849.9,584.6 851.5,586.9 853.1,593.0 854.7,602.7 856.3,601.9 857.9,609.9 859.5,608.1 861.1,611.2 862.7,603.9 864.3,603.6 865.9,601.0 867.5,598.4 869.1,605.5 870.7,602.1 872.3,604.3 873.9,605.7 875.5,617.9 877.1,615.9 878.7,611.8 880.3,611.1 881.9,606.7 883.5,604.8 885.1,606.1 886.7,597.3 888.3,608.6 889.9,600.1 891.5,601.3 893.1,597.6 894.7,605.3 896.3,600.6 897.9,594.9 899.5,594.9 901.1,604.6 902.7,603.5 904.3,612.5 905.9,611.7 907.5,612.4 909.1,620.3 910.7,623.6 912.3,630.1 913.9,635.2 915.5,644.0 917.1,640.8 918.7,640.3 920.3,637.4 921.9,629.7 923.5,618.8 925.1,625.9 926.7,627.4 928.3,620.4 929.9,614.1 931.5,610.1 933.1,613.0 934.7,608.4 936.3,604.8 937.9,605.6 939.5,605.4 941.1,596.4 942.7,600.6 944.3,603.4 945.9,615.3 947.5,613.1 949.1,606.9 950.7,603.9 952.3,603.1 953.9,607.1 955.5,603.7 957.1,603.7 958.7,599.3 960.3,599.8 961.9,610.8 963.5,620.4 965.1,622.0 966.7,620.6 968.3,623.2 969.9,625.4 971.5,625.7 973.1,629.0 974.7,628.6 976.3,630.9 977.9,633.5 979.5,635.2 981.1,635.6 982.7,638.0 984.3,628.8 985.9,634.0 987.5,626.9 989.1,629.6 990.7,626.6 992.3,623.9 993.9,622.8 995.5,619.8 997.1,624.0 998.7,627.7 1000.3,615.8 1001.9,617.4 1003.5,617.5 1005.1,623.6 1006.7,630.5 1008.3,619.7 1009.9,620.2 1011.5,621.2 1013.1,623.4 1014.7,633.0 1016.3,637.1 1017.9,645.8 1019.5,641.1 1021.1,645.8 1022.7,650.0 1024.3,645.9 1025.9,639.3 1027.5,642.1 1029.1,640.6 1030.7,637.0 1032.3,636.4 1033.9,644.2 1035.5,658.1 1037.1,657.8 1038.7,667.0 1040.3,657.7 1041.9,665.3 1043.5,667.4 1045.1,675.3 1046.7,670.3 1048.3,669.3 1049.9,658.6 1051.5,655.2 1053.1,647.4 1054.7,642.1 1056.3,630.5 1057.9,631.1 1059.5,633.2 1061.1,627.3 1062.7,629.0 1064.3,622.9 1065.9,634.5 1067.5,635.7 1069.1,639.6 1070.7,643.1 1072.3,643.2 1073.9,647.9 1075.5,650.3 1077.1,654.1 1078.7,654.3 1080.3,669.5 1081.9,689.4 1083.5,691.1 1085.1,676.3 1086.7,671.8 1088.3,678.3 1089.9,674.4 1091.5,661.6 1093.1,665.7 1094.7,663.2 1096.3,662.1 1097.9,657.7 1099.5,653.5 1101.1,660.4 1102.7,654.1 1104.3,654.9 1105.9,660.7 1107.5,667.2 1109.1,665.2 1110.7,678.2 1112.3,672.1 1113.9,674.9 1115.5,682.7 1117.1,691.5 1118.7,695.3 1120.3,701.7 1121.9,697.8 1123.5,689.2 1125.1,689.3 1126.7,688.5 1128.3,691.0 1129.9,695.5 1131.5,694.4 1133.1,696.2 1134.7,695.6 1136.3,687.6 1137.9,682.2 1139.5,683.6 1141.1,689.2 1142.7,694.0 1144.3,690.1 1145.9,688.6 1147.5,686.7 1149.1,684.4 1150.7,700.9 1152.3,701.6 1153.9,696.9 1155.5,693.2 1157.1,693.1 1158.7,703.8 1160.3,703.7 1161.9,709.3 1163.5,713.9 1165.1,707.4 1166.7,699.2 1168.3,691.3 1169.9,695.5 1171.5,708.4 1173.1,699.6 1174.7,688.6 1176.3,687.8 1177.9,682.4 1179.5,678.1 1181.1,671.7 1182.7,665.0 1184.3,666.0 1185.9,661.5 1187.5,661.1 1189.1,664.1 1190.7,659.5 1192.3,672.8 1193.9,680.8 1195.5,677.4 1197.1,677.7 1198.7,680.4 1200.3,687.2 1201.9,693.8 1203.5,681.4 1205.1,697.7 1206.7,697.4 1208.3,695.4 1209.9,710.1 1211.5,710.6 1213.1,705.6 1214.7,697.1 1216.3,700.8 1217.9,712.9 1219.5,720.9 1221.1,718.4 1222.7,720.5 1224.3,723.0 1225.9,718.8 1227.5,712.3 1229.1,726.2 1230.7,733.3 1232.3,731.7 1233.9,730.9 1235.5,731.3 1237.1,724.9 1238.7,715.8 1240.3,707.0 1241.9,703.1 1243.5,711.8 1245.1,716.1 1246.7,706.8 1248.3,713.6 1249.9,724.4 1251.5,727.4 1253.1,721.4 1254.7,726.7 1256.3,723.9 1257.9,732.4 1259.5,740.6 1261.1,749.2 1262.7,738.8 1264.3,734.0 1265.9,747.1 1267.5,746.1 1269.1,753.8 1270.7,754.9 1272.3,751.6 1273.9,754.2 1275.5,747.1 1277.1,745.8 1278.7,752.4 1280.3,737.3 1281.9,741.0 1283.5,739.4 1285.1,739.6 1286.7,742.1 1288.3,739.1 1289.9,737.7 1291.5,745.7 1293.1,739.8 1294.7,733.0 1296.3,737.1 1297.9,748.8 1299.5,741.6 1301.1,740.0 1302.7,740.5 1304.3,737.0 1305.9,727.3 1307.5,725.6 1309.1,715.2 1310.7,729.3 1312.3,732.4 1313.9,727.4 1315.5,735.0 1317.1,746.3 1318.7,754.2 1320.3,758.2 1321.9,748.1 1323.5,751.6 1325.1,752.6 1326.7,754.2 1328.3,746.6 1329.9,753.5 1331.5,776.7 1333.1,769.4 1334.7,762.9 1336.3,768.6 1337.9,767.9 1339.5,776.8 1341.1,782.3 1342.7,796.8 1344.3,807.8 1345.9,792.8 1347.5,803.5 1349.1,797.2 1350.7,792.4 1352.3,786.9 1353.9,793.3 1355.5,804.6 1357.1,812.9 1358.7,811.0 1360.3,794.7 1361.9,794.7 1363.5,801.4 1365.1,795.1 1366.7,791.7 1368.3,786.2 1369.9,779.0 1371.5,778.5 1373.1,782.5 1374.7,784.8 1376.3,791.3 1377.9,782.0 1379.5,785.9 1381.1,789.7 1382.7,779.4 1384.3,777.1 1385.9,798.2 1387.5,792.0 1389.1,799.3 1390.7,784.7 1392.3,783.8 1393.9,783.2 1395.5,784.6 1397.1,787.2 1398.7,791.3 1400.3,802.2 1401.9,796.3 1403.5,785.0 1405.1,786.5 1406.7,809.5 1408.3,800.3 1409.9,794.8 1411.5,802.2 1413.1,803.3 1414.7,806.4 1416.3,811.2 1417.9,806.2 1419.5,816.8 1421.1,814.7 1422.7,808.0 1424.3,807.4 1425.9,788.3 1427.5,784.4 1429.1,800.4 1430.7,821.2 1432.3,810.4 1433.9,801.5 1435.5,805.8 1437.1,803.3 1438.7,807.2 1440.3,818.8 1441.9,806.7 1443.5,813.1 1445.1,808.0 1446.7,809.1 1448.3,811.2 1449.9,801.0 1451.5,805.9 1453.1,815.0 1454.7,807.5 1456.3,819.4 1457.9,825.5 1459.5,809.1 1461.1,806.3 1462.7,809.5 1464.3,813.8 1465.9,820.4 1467.5,827.2 1469.1,836.7 1470.7,836.7 1472.3,831.7 1473.9,833.4 1475.5,831.4 1477.1,845.3 1478.7,834.0 1480.3,840.8 1481.9,836.4 1483.5,827.9 1485.1,820.4 1486.7,817.5 1488.3,812.6 1489.9,809.3 1491.5,810.6 1493.1,810.7 1494.7,797.2 1496.3,806.6 1497.9,819.7 1499.5,823.9 1501.1,835.5 1502.7,823.1 1504.3,821.9 1505.9,818.9 1507.5,812.3 1509.1,832.0 1510.7,835.0 1512.3,820.9 1513.9,808.7 1515.5,810.0 1517.1,817.1 1518.7,816.5 1520.3,809.8 1521.9,810.9 1523.5,819.4 1525.1,831.4 1526.7,836.8 1528.3,837.3 1529.9,851.1 1531.5,849.0 1533.1,873.4 1534.7,869.7 1536.3,879.7 1537.9,901.1 1539.5,910.1 1541.1,914.2 1542.7,918.8 1544.3,912.6 1545.9,906.9 1547.5,899.2 1549.1,896.7 1550.7,902.8 1552.3,875.5 1553.9,859.0 1555.5,855.4 1557.1,850.1 1558.7,851.6 1560.3,848.9 1561.9,852.8 1563.5,848.4 1565.1,847.1 1566.7,834.3 1568.3,830.7 1569.9,831.7 1571.5,824.9 1573.1,820.5 1574.7,826.8 1576.3,819.5 1577.9,821.7 1579.5,828.2 1581.1,844.5 1582.7,841.2 1584.3,841.2 1585.9,861.9 1587.5,861.7 1589.1,881.3 1590.7,892.9 1592.3,883.6 1593.9,891.1 1595.5,912.7 1597.1,929.0 1598.7,931.1 1600.3,930.5 1601.9,919.5 1603.5,912.3 1605.1,917.1 1606.7,900.7 1608.3,901.2 1609.9,889.1 1611.5,890.2 1613.1,902.2 1614.7,897.0 1616.3,907.1 1617.9,906.0 1619.5,922.4 1621.1,931.5 1622.7,926.9 1624.3,916.3 1625.9,922.9 1627.5,917.9 1629.1,902.5 1630.7,903.7 1632.3,911.3 1633.9,904.1 1635.5,889.9 1637.1,888.9 1638.7,880.1 1640.3,894.6 1641.9,894.6 1643.5,909.8 1645.1,906.9 1646.7,916.7 1648.3,931.7 1649.9,913.2 1651.5,907.2 1653.1,914.6 1654.7,934.1 1656.3,933.1 1657.9,948.1 1659.5,962.5 1661.1,970.1 1662.7,969.8 1664.3,981.6 1665.9,986.1 1667.5,973.4 1669.1,971.0 1670.7,961.2 1672.3,960.1 1673.9,952.6 1675.5,970.3 1677.1,959.1 1678.7,949.5 1680.3,935.8 1681.9,922.1 1683.5,918.5 1685.1,952.2 1686.7,962.7 1688.3,990.5 1689.9,998.0 1691.5,988.6 1693.1,987.6 1694.7,978.4 1696.3,975.3 1697.9,963.1 1699.5,963.4 1701.1,947.3 1702.7,973.6 1704.3,954.3 1705.9,970.1 1707.5,965.9 1709.1,962.6 1710.7,968.9 1712.3,976.7 1713.9,974.9 1715.5,977.8 1717.1,1004.2 1718.7,1011.9 1720.3,1030.0 1721.9,1028.2 1723.5,1038.2 1725.1,1044.5 1726.7,1042.3 1728.3,1031.2 1729.9,992.2 1731.5,1000.9 1733.1,994.4 1734.7,1004.2 1736.3,989.3 1737.9,1001.7 1739.5,998.1 1741.1,1002.6 1742.7,998.2 1744.3,1004.6 1745.9,1005.6 1747.5,996.5 1749.1,984.0 1750.7,977.9 1752.3,986.1 1753.9,994.9 1755.5,997.6 1757.1,988.9 1758.7,990.5 1760.3,1014.6 1761.9,1023.8 1763.5,1018.7 1765.1,1017.3 1766.7,1015.0 1768.3,1004.8 1769.9,1004.7 1771.5,994.2 1773.1,979.4 1774.7,976.7 1776.3,978.1 1777.9,962.6 1779.5,971.6 1781.1,976.0 1782.7,979.5 1784.3,999.2 1785.9,988.4 1787.5,1011.8 1789.1,1038.5 1790.7,1059.4 1792.3,1051.9 1793.9,1063.4 1795.5,1050.2 1797.1,1054.9 1798.7,1040.9 1800.3,1080.9 1801.9,1062.5 1803.5,1059.7 1805.1,1050.9 1806.7,1057.3 1808.3,1042.6 1809.9,1047.5 1811.5,1049.4 1813.1,1018.9 1814.7,1028.5 1816.3,1038.9 1817.9,1018.5 1819.5,1005.3 1821.1,990.0 1822.7,981.2 1824.3,982.6 1825.9,1003.8 1827.5,1005.0 1829.1,987.9 1830.7,987.8 1832.3,1010.1 1833.9,1029.2 1835.5,1029.3 1837.1,1030.8 1838.7,1031.2 1840.3,1048.6 1841.9,1069.8 1843.5,1070.2 1845.1,1064.8 1846.7,1042.3 1848.3,1060.6 1849.9,1053.2 1851.5,1050.3 1853.1,1019.1 1854.7,1009.4 1856.3,1008.2 1857.9,1025.1 1859.5,1029.9 1861.1,1036.6 1862.7,1044.6 1864.3,1022.7 1865.9,1039.9 1867.5,1024.0 1869.1,1055.5 1870.7,1040.4 1872.3,1032.4 1873.9,1028.8 1875.5,1041.4 1877.1,1072.6 1878.7,1074.5 1880.3,1064.6 1881.9,1059.2 1883.5,1041.3 1885.1,1049.8 1886.7,1068.5 1888.3,1047.6 1889.9,1048.0 1891.5,1049.6 1893.1,1043.9 1894.7,1049.4 1896.3,1047.3 1897.9,1048.0 1899.5,1076.5 1901.1,1069.3 1902.7,1077.7 1904.3,1101.9 1905.9,1102.3 1907.5,1095.8 1909.1,1091.0 1910.7,1096.9 1912.3,1096.3 1913.9,1076.5 1915.5,1083.0 1917.1,1078.3 1918.7,1095.7 1920.3,1082.0 1921.9,1060.3 1923.5,1073.3 1925.1,1070.1 1926.7,1082.5 1928.3,1100.6 1929.9,1113.1 1931.5,1115.4 1933.1,1108.5 1934.7,1101.8 1936.3,1092.0 1937.9,1086.4 1939.5,1062.6 1941.1,1092.2 1942.7,1094.5 1944.3,1061.3 1945.9,1068.9 1947.5,1074.9 1949.1,1087.9 1950.7,1100.8 1952.3,1098.7 1953.9,1104.5 1955.5,1105.9 1957.1,1091.6 1958.7,1078.4 1960.3,1078.6 1961.9,1070.7 1963.5,1108.6 1965.1,1128.2 1966.7,1094.6 1968.3,1084.6 1969.9,1103.5 1971.5,1089.5 1973.1,1119.6 1974.7,1107.8 1976.3,1121.8 1977.9,1129.9 1979.5,1133.0 1981.1,1158.6 1982.7,1124.2 1984.3,1144.2 1985.9,1162.5 1987.5,1135.6 1989.1,1152.0 1990.7,1169.3 1992.3,1145.2 1993.9,1165.9 1995.5,1171.2 1997.1,1193.4 1998.7,1203.9 2000.3,1212.7 2001.9,1224.6 2003.5,1228.2 2005.1,1221.1 2006.7,1198.2 2008.3,1197.1 2009.9,1235.1 2011.5,1223.9 2013.1,1222.9 2014.7,1187.4 2016.3,1162.8 2017.9,1183.3 2019.5,1161.7 2021.1,1126.0 2022.7,1105.1 2024.3,1124.1 2025.9,1087.8 2027.5,1110.8 2029.1,1141.5 2030.7,1144.9 2032.3,1133.1 2033.9,1146.8 2035.5,1171.8 2037.1,1194.0 2038.7,1209.7 2040.3,1185.1 2041.9,1224.1 2043.5,1206.5 2045.1,1221.6 2046.7,1253.3 2048.3,1276.3 2049.9,1267.6 2051.5,1264.1 2053.1,1297.7 2054.7,1283.5 2056.3,1303.7 2057.9,1291.7 2059.5,1302.2 2061.1,1268.2 2062.7,1265.1 2064.3,1305.3 2065.9,1286.5 2067.5,1308.6 2069.1,1291.7 2070.7,1269.6 2072.3,1249.4 2073.9,1254.5 2075.5,1244.9 2077.1,1264.7 2078.7,1232.4 2080.3,1229.5 2081.9,1261.2 2083.5,1231.1 2085.1,1229.6 2086.7,1187.1 2088.3,1194.2 2089.9,1234.4 2091.5,1230.0 2093.1,1213.4 2094.7,1230.9 2096.3,1225.9 2097.9,1226.0 2099.5,1285.1 2101.1,1290.2 2102.7,1291.5 2104.3,1288.9 2105.9,1270.5 2107.5,1297.1 2109.1,1306.2 2110.7,1314.2 2112.3,1302.7 2113.9,1309.4 2115.5,1294.2 2117.1,1272.8 2118.7,1222.1 2120.3,1233.8 2121.9,1237.3 2123.5,1230.5 2125.1,1241.4 2126.7,1263.6 2128.3,1263.5 2129.9,1295.8 2131.5,1317.5 2133.1,1342.7 2134.7,1310.3 2136.3,1328.1 2137.9,1357.6 2139.5,1345.5 2141.1,1397.4 2142.7,1401.5 2144.3,1393.3 2145.9,1409.9 2147.5,1414.1 2149.1,1418.2 2150.7,1419.8 2152.3,1377.4 2153.9,1428.3 2155.5,1429.3 2157.1,1394.2 2158.7,1336.9 2160.3,1320.3 2161.9,1288.2 2163.5,1310.2 2165.1,1269.6 2166.7,1256.4 2168.3,1288.9 2169.9,1317.6 2171.5,1356.2 2173.1,1351.3 2174.7,1323.1 2176.3,1349.4 2177.9,1335.6 2179.5,1345.1 2181.1,1325.6 2182.7,1343.5 2184.3,1291.6 2185.9,1320.5 2187.5,1331.9 2189.1,1360.7 2190.7,1346.6 2192.3,1355.9 2193.9,1384.0 2195.5,1351.5 2197.1,1325.3 2198.7,1360.5 2200.3,1349.7 2201.9,1322.3 2203.5,1341.7 2205.1,1346.2 2206.7,1353.0 2208.3,1355.9 2209.9,1374.3 2211.5,1409.4 2213.1,1437.4 2214.7,1465.5 2216.3,1461.0 2217.9,1494.2 2219.5,1503.8 2221.1,1513.4 2222.7,1523.0 2224.3,1532.2 2225.9,1527.8 2227.5,1523.4 2229.1,1519.0 2230.7,1514.6 2232.3,1510.2 2233.9,1486.8 2235.5,1501.4 2237.1,1467.6 2238.7,1470.3 2240.3,1454.3 2241.9,1438.3 2243.5,1422.3 2245.1,1390.8 2246.7,1392.8 2248.3,1429.4 2249.9,1482.8 2251.5,1510.3 2253.1,1519.0 2254.7,1504.5 2256.3,1455.1 2257.9,1437.8 2259.5,1434.3 2261.1,1478.6 2262.7,1503.1 2264.3,1523.9 2265.9,1526.3 2267.5,1550.7 2269.1,1538.5 2270.7,1509.8 2272.3,1506.3 2273.9,1514.7 2275.5,1504.8 2277.1,1491.5 2278.7,1515.3 2279.7,1473.0 2280.0,1700.0"/>
<polyline stroke="#000" stroke-width="8.8" points="379.5,175.5 384.5,178.7 389.5,181.7 394.5,184.8 399.5,187.7 404.5,190.7 409.5,193.5 414.5,196.3 419.5,199.1 424.5,201.8 429.5,204.5 434.5,207.1 439.5,209.7 444.5,212.2 449.5,214.7 454.5,217.1 459.5,219.5 464.5,221.8 469.5,224.1 474.5,226.4 479.5,228.6 484.5,230.8 489.5,233.0 494.5,235.1 499.5,237.2 504.5,239.3 509.5,241.3 514.5,243.3 519.5,245.3 524.5,247.2 529.5,249.1 534.5,251.0 539.5,252.9 544.5,254.8 549.5,256.6 554.5,258.4 559.5,260.2 564.5,261.9 569.5,263.7 574.5,265.4 579.5,267.2 584.5,268.9 589.5,270.6 594.5,272.3 599.5,273.9 604.5,275.6 609.5,277.3 614.5,278.9 619.5,280.6 624.5,282.2 629.5,283.9 634.5,285.5 639.5,287.2 644.5,288.8 649.5,290.5 654.5,292.1 659.5,293.8 664.5,295.4 669.5,297.1 674.5,298.7 679.5,300.4 684.5,302.1 689.5,303.7 694.5,305.4 699.5,307.1 704.5,308.8 709.5,310.5 714.5,312.2 719.5,313.8 724.5,315.5 729.5,317.2 734.5,319.0 739.5,320.7 744.5,322.4 749.5,324.1 754.5,325.8 759.5,327.5 764.5,329.2 769.5,331.0 774.5,332.7 779.5,334.4 784.5,336.2 789.5,337.9 794.5,339.7 799.5,341.4 804.5,343.2 809.5,344.9 814.5,346.7 819.5,348.5 824.5,350.2 829.5,352.0 834.5,353.8 839.5,355.5 844.5,357.3 849.5,359.1 854.5,360.9 859.5,362.7 864.5,364.5 869.5,366.3 874.5,368.1 879.5,369.9 884.5,371.7 889.5,373.5 894.5,375.3 899.5,377.2 904.5,379.0 909.5,380.8 914.5,382.7 919.5,384.5 924.5,386.3 929.5,388.2 934.5,390.0 939.5,391.9 944.5,393.7 949.5,395.6 954.5,397.5 959.5,399.3 964.5,401.2 969.5,403.1 974.5,404.9 979.5,406.8 984.5,408.7 989.5,410.6 994.5,412.5 999.5,414.4 1004.5,416.3 1009.5,418.2 1014.5,420.1 1019.5,422.0 1024.5,423.9 1029.5,425.9 1034.5,427.8 1039.5,429.7 1044.5,431.7 1049.5,433.6 1054.5,435.5 1059.5,437.5 1064.5,439.4 1069.5,441.4 1074.5,443.3 1079.5,445.3 1084.5,447.3 1089.5,449.2 1094.5,451.2 1099.5,453.2 1104.5,455.1 1109.5,457.1 1114.5,459.1 1119.5,461.1 1124.5,463.1 1129.5,465.1 1134.5,467.1 1139.5,469.1 1144.5,471.1 1149.5,473.2 1154.5,475.2 1159.5,477.2 1164.5,479.3 1169.5,481.3 1174.5,483.4 1179.5,485.4 1184.5,487.5 1189.5,489.6 1194.5,491.7 1199.5,493.7 1204.5,495.8 1209.5,497.9 1214.5,500.0 1219.5,502.2 1224.5,504.3 1229.5,506.4 1234.5,508.6 1239.5,510.7 1244.5,512.9 1249.5,515.0 1254.5,517.2 1259.5,519.4 1264.5,521.6 1269.5,523.8 1274.5,526.0 1279.5,528.2 1284.5,530.5 1289.5,532.7 1294.5,535.0 1299.5,537.2 1304.5,539.5 1309.5,541.8 1314.5,544.1 1319.5,546.4 1324.5,548.7 1329.5,551.1 1334.5,553.4 1339.5,555.8 1344.5,558.1 1349.5,560.5 1354.5,562.9 1359.5,565.3 1364.5,567.7 1369.5,570.2 1374.5,572.6 1379.5,575.0 1384.5,577.5 1389.5,580.0 1394.5,582.5 1399.5,585.0 1404.5,587.5 1409.5,590.1 1414.5,592.6 1419.5,595.2 1424.5,597.8 1429.5,600.4 1434.5,603.0 1439.5,605.6 1444.5,608.2 1449.5,610.9 1454.5,613.6 1459.5,616.3 1464.5,619.0 1469.5,621.7 1474.5,624.4 1479.5,627.2 1484.5,630.0 1489.5,632.7 1494.5,635.5 1499.5,638.4 1504.5,641.2 1509.5,644.1 1514.5,646.9 1519.5,649.8 1524.5,652.7 1529.5,655.7 1534.5,658.6 1539.5,661.6 1544.5,664.6 1549.5,667.6 1554.5,670.6 1559.5,673.6 1564.5,676.7 1569.5,679.8 1574.5,682.9 1579.5,686.0 1584.5,689.1 1589.5,692.3 1594.5,695.5 1599.5,698.7 1604.5,701.9 1609.5,705.1 1614.5,708.4 1619.5,711.7 1624.5,715.0 1629.5,718.3 1634.5,721.7 1639.5,725.0 1644.5,728.4 1649.5,731.8 1654.5,735.3 1659.5,738.7 1664.5,742.2 1669.5,745.7 1674.5,749.2 1679.5,752.8 1684.5,756.4 1689.5,760.0 1694.5,763.6 1699.5,767.2 1704.5,770.9 1709.5,774.6 1714.5,778.3 1719.5,782.0 1724.5,785.8 1729.5,789.6 1734.5,793.4 1739.5,797.3 1744.5,801.1 1749.5,805.0 1754.5,808.9 1759.5,812.9 1764.5,816.9 1769.5,820.9 1774.5,824.9 1779.5,828.9 1784.5,833.0 1789.5,837.1 1794.5,841.2 1799.5,845.4 1804.5,849.6 1809.5,853.8 1814.5,858.0 1819.5,862.3 1824.5,866.6 1829.5,870.9 1834.5,875.3 1839.5,879.7 1844.5,884.1 1849.5,888.5 1854.5,893.0 1859.5,897.5 1864.5,902.0 1869.5,906.6 1874.5,911.1 1879.5,915.8 1884.5,920.4 1889.5,925.1 1894.5,929.9 1899.5,934.7 1904.5,939.5 1909.5,944.3 1914.5,949.2 1919.5,954.2 1924.5,959.2 1929.5,964.2 1934.5,969.3 1939.5,974.4 1944.5,979.6 1949.5,984.8 1954.5,990.1 1959.5,995.5 1964.5,1000.8 1969.5,1006.3 1974.5,1011.8 1979.5,1017.3 1984.5,1023.0 1989.5,1028.6 1994.5,1034.4 1999.5,1040.2 2004.5,1046.0 2009.5,1051.9 2014.5,1057.9 2019.5,1064.0 2024.5,1070.1 2029.5,1076.3 2034.5,1082.5 2039.5,1088.9 2044.5,1095.3 2049.5,1101.7 2054.5,1108.3 2059.5,1114.9 2064.5,1121.6 2069.5,1128.4 2074.5,1135.2 2079.5,1142.2 2084.5,1149.2 2089.5,1156.3 2094.5,1163.5 2099.5,1170.7 2104.5,1178.1 2109.5,1185.5 2114.5,1193.0 2119.5,1200.7 2124.5,1208.4 2129.5,1216.1 2134.5,1224.0 2139.5,1232.0 2144.5,1240.1 2149.5,1248.2 2154.5,1256.5 2159.5,1264.9 2164.5,1273.4 2169.5,1282.0 2174.5,1290.7 2179.5,1299.6 2184.5,1308.6 2189.5,1317.8 2194.5,1327.1 2199.5,1336.6 2204.5,1346.3 2209.5,1356.1 2214.5,1366.1 2219.5,1376.4 2224.5,1386.8 2229.5,1397.4 2234.5,1408.2 2239.5,1419.3 2244.5,1430.6 2249.5,1442.2 2254.5,1454.1 2259.5,1466.3 2264.5,1478.8 2269.5,1491.7 2274.5,1504.9 2279.0,1545.0 2279.7,1600.0 2280.0,1700.0"/>
<polyline stroke="#000" stroke-width="8.8" points="379.5,370.5 384.5,374.8 389.5,379.1 394.5,383.3 399.5,387.4 404.5,391.4 409.5,395.4 414.5,399.3 419.5,403.1 424.5,406.8 429.5,410.5 434.5,414.0 439.5,417.6 444.5,421.0 449.5,424.4 454.5,427.7 459.5,430.9 464.5,434.1 469.5,437.3 474.5,440.3 479.5,443.3 484.5,446.3 489.5,449.2 494.5,452.0 499.5,454.8 504.5,457.5 509.5,460.2 514.5,462.9 519.5,465.5 524.5,468.0 529.5,470.5 534.5,473.0 539.5,475.4 544.5,477.8 549.5,480.1 554.5,482.4 559.5,484.7 564.5,487.0 569.5,489.2 574.5,491.3 579.5,493.5 584.5,495.6 589.5,497.7 594.5,499.8 599.5,501.8 604.5,503.8 609.5,505.8 614.5,507.8 619.5,509.8 624.5,511.7 629.5,513.6 634.5,515.5 639.5,517.5 644.5,519.3 649.5,521.2 654.5,523.1 659.5,525.0 664.5,526.8 669.5,528.7 674.5,530.5 679.5,532.4 684.5,534.2 689.5,536.0 694.5,537.8 699.5,539.7 704.5,541.5 709.5,543.3 714.5,545.1 719.5,546.8 724.5,548.6 729.5,550.4 734.5,552.2 739.5,553.9 744.5,555.7 749.5,557.4 754.5,559.2 759.5,560.9 764.5,562.7 769.5,564.4 774.5,566.1 779.5,567.8 784.5,569.6 789.5,571.3 794.5,573.0 799.5,574.7 804.5,576.4 809.5,578.1 814.5,579.8 819.5,581.5 824.5,583.2 829.5,584.9 834.5,586.5 839.5,588.2 844.5,589.9 849.5,591.6 854.5,593.2 859.5,594.9 864.5,596.6 869.5,598.2 874.5,599.9 879.5,601.6 884.5,603.2 889.5,604.9 894.5,606.5 899.5,608.2 904.5,609.8 909.5,611.5 914.5,613.1 919.5,614.8 924.5,616.4 929.5,618.1 934.5,619.7 939.5,621.4 944.5,623.0 949.5,624.7 954.5,626.3 959.5,628.0 964.5,629.6 969.5,631.3 974.5,632.9 979.5,634.6 984.5,636.2 989.5,637.9 994.5,639.5 999.5,641.2 1004.5,642.8 1009.5,644.5 1014.5,646.1 1019.5,647.8 1024.5,649.5 1029.5,651.1 1034.5,652.8 1039.5,654.5 1044.5,656.1 1049.5,657.8 1054.5,659.5 1059.5,661.2 1064.5,662.8 1069.5,664.5 1074.5,666.2 1079.5,667.9 1084.5,669.6 1089.5,671.3 1094.5,673.0 1099.5,674.7 1104.5,676.4 1109.5,678.1 1114.5,679.8 1119.5,681.6 1124.5,683.3 1129.5,685.0 1134.5,686.8 1139.5,688.5 1144.5,690.3 1149.5,692.0 1154.5,693.8 1159.5,695.5 1164.5,697.3 1169.5,699.1 1174.5,700.9 1179.5,702.6 1184.5,704.4 1189.5,706.2 1194.5,708.0 1199.5,709.8 1204.5,711.7 1209.5,713.5 1214.5,715.3 1219.5,717.2 1224.5,719.0 1229.5,720.8 1234.5,722.7 1239.5,724.6 1244.5,726.5 1249.5,728.3 1254.5,730.2 1259.5,732.1 1264.5,734.0 1269.5,735.9 1274.5,737.9 1279.5,739.8 1284.5,741.7 1289.5,743.7 1294.5,745.7 1299.5,747.6 1304.5,749.6 1309.5,751.6 1314.5,753.6 1319.5,755.6 1324.5,757.6 1329.5,759.6 1334.5,761.7 1339.5,763.7 1344.5,765.8 1349.5,767.8 1354.5,769.9 1359.5,772.0 1364.5,774.1 1369.5,776.2 1374.5,778.3 1379.5,780.4 1384.5,782.6 1389.5,784.7 1394.5,786.9 1399.5,789.1 1404.5,791.3 1409.5,793.5 1414.5,795.7 1419.5,797.9 1424.5,800.2 1429.5,802.4 1434.5,804.7 1439.5,806.9 1444.5,809.2 1449.5,811.5 1454.5,813.9 1459.5,816.2 1464.5,818.5 1469.5,820.9 1474.5,823.2 1479.5,825.6 1484.5,828.0 1489.5,830.4 1494.5,832.9 1499.5,835.3 1504.5,837.8 1509.5,840.2 1514.5,842.7 1519.5,845.2 1524.5,847.7 1529.5,850.2 1534.5,852.8 1539.5,855.3 1544.5,857.9 1549.5,860.5 1554.5,863.1 1559.5,865.7 1564.5,868.4 1569.5,871.0 1574.5,873.7 1579.5,876.4 1584.5,879.1 1589.5,881.8 1594.5,884.5 1599.5,887.3 1604.5,890.0 1609.5,892.8 1614.5,895.6 1619.5,898.4 1624.5,901.3 1629.5,904.1 1634.5,907.0 1639.5,909.8 1644.5,912.7 1649.5,915.7 1654.5,918.6 1659.5,921.5 1664.5,924.5 1669.5,927.5 1674.5,930.5 1679.5,933.5 1684.5,936.6 1689.5,939.6 1694.5,942.7 1699.5,945.8 1704.5,948.9 1709.5,952.0 1714.5,955.2 1719.5,958.3 1724.5,961.5 1729.5,964.7 1734.5,967.9 1739.5,971.2 1744.5,974.4 1749.5,977.7 1754.5,981.0 1759.5,984.3 1764.5,987.7 1769.5,991.0 1774.5,994.4 1779.5,997.8 1784.5,1001.2 1789.5,1004.6 1794.5,1008.1 1799.5,1011.6 1804.5,1015.0 1809.5,1018.6 1814.5,1022.1 1819.5,1025.6 1824.5,1029.2 1829.5,1032.8 1834.5,1036.4 1839.5,1040.1 1844.5,1043.7 1849.5,1047.4 1854.5,1051.1 1859.5,1054.8 1864.5,1058.5 1869.5,1062.3 1874.5,1066.1 1879.5,1069.9 1884.5,1073.7 1889.5,1077.5 1894.5,1081.4 1899.5,1085.3 1904.5,1089.2 1909.5,1093.1 1914.5,1097.1 1919.5,1101.1 1924.5,1105.1 1929.5,1109.1 1934.5,1113.1 1939.5,1117.2 1944.5,1121.3 1949.5,1125.4 1954.5,1129.5 1959.5,1133.7 1964.5,1137.8 1969.5,1142.0 1974.5,1146.3 1979.5,1150.5 1984.5,1154.8 1989.5,1159.1 1994.5,1163.4 1999.5,1167.7 2004.5,1172.1 2009.5,1176.5 2014.5,1180.9 2019.5,1185.3 2024.5,1189.8 2029.5,1194.3 2034.5,1198.9 2039.5,1203.5 2044.5,1208.1 2049.5,1212.8 2054.5,1217.5 2059.5,1222.3 2064.5,1227.1 2069.5,1232.0 2074.5,1236.9 2079.5,1241.9 2084.5,1247.0 2089.5,1252.1 2094.5,1257.3 2099.5,1262.5 2104.5,1267.8 2109.5,1273.2 2114.5,1278.7 2119.5,1284.2 2124.5,1289.9 2129.5,1295.6 2134.5,1301.4 2139.5,1307.2 2144.5,1313.2 2149.5,1319.3 2154.5,1325.4 2159.5,1331.7 2164.5,1338.0 2169.5,1344.5 2174.5,1351.0 2179.5,1357.7 2184.5,1364.4 2189.5,1371.3 2194.5,1378.3 2199.5,1385.4 2204.5,1392.6 2209.5,1400.0 2214.5,1407.4 2219.5,1415.0 2224.5,1422.8 2229.5,1430.6 2234.5,1438.7 2239.5,1446.8 2244.5,1455.1 2249.5,1463.6 2254.5,1472.2 2259.5,1481.0 2264.5,1489.9 2269.5,1499.0 2274.5,1508.3 2279.0,1545.0 2279.7,1600.0 2280.0,1700.0"/>
<polyline stroke="#000" stroke-width="8.8" points="379.5,488.0 384.5,493.0 389.5,497.8 394.5,502.6 399.5,507.3 404.5,511.8 409.5,516.3 414.5,520.7 419.5,525.0 424.5,529.2 429.5,533.4 434.5,537.4 439.5,541.4 444.5,545.3 449.5,549.1 454.5,552.8 459.5,556.5 464.5,560.0 469.5,563.6 474.5,567.0 479.5,570.4 484.5,573.7 489.5,576.9 494.5,580.1 499.5,583.2 504.5,586.2 509.5,589.2 514.5,592.2 519.5,595.1 524.5,597.9 529.5,600.7 534.5,603.4 539.5,606.0 544.5,608.7 549.5,611.2 554.5,613.8 559.5,616.3 564.5,618.7 569.5,621.1 574.5,623.5 579.5,625.8 584.5,628.1 589.5,630.4 594.5,632.6 599.5,634.8 604.5,637.0 609.5,639.1 614.5,641.2 619.5,643.3 624.5,645.4 629.5,647.5 634.5,649.5 639.5,651.5 644.5,653.5 649.5,655.5 654.5,657.5 659.5,659.4 664.5,661.4 669.5,663.3 674.5,665.2 679.5,667.2 684.5,669.1 689.5,670.9 694.5,672.8 699.5,674.7 704.5,676.5 709.5,678.4 714.5,680.2 719.5,682.0 724.5,683.8 729.5,685.6 734.5,687.4 739.5,689.2 744.5,691.0 749.5,692.8 754.5,694.5 759.5,696.2 764.5,698.0 769.5,699.7 774.5,701.4 779.5,703.1 784.5,704.8 789.5,706.5 794.5,708.2 799.5,709.9 804.5,711.5 809.5,713.2 814.5,714.8 819.5,716.5 824.5,718.1 829.5,719.7 834.5,721.3 839.5,722.9 844.5,724.5 849.5,726.1 854.5,727.7 859.5,729.3 864.5,730.9 869.5,732.5 874.5,734.0 879.5,735.6 884.5,737.1 889.5,738.7 894.5,740.2 899.5,741.7 904.5,743.3 909.5,744.8 914.5,746.3 919.5,747.8 924.5,749.3 929.5,750.9 934.5,752.4 939.5,753.9 944.5,755.3 949.5,756.8 954.5,758.3 959.5,759.8 964.5,761.3 969.5,762.8 974.5,764.2 979.5,765.7 984.5,767.2 989.5,768.6 994.5,770.1 999.5,771.5 1004.5,773.0 1009.5,774.5 1014.5,775.9 1019.5,777.4 1024.5,778.8 1029.5,780.3 1034.5,781.7 1039.5,783.1 1044.5,784.6 1049.5,786.0 1054.5,787.5 1059.5,788.9 1064.5,790.4 1069.5,791.8 1074.5,793.2 1079.5,794.7 1084.5,796.1 1089.5,797.5 1094.5,799.0 1099.5,800.4 1104.5,801.9 1109.5,803.3 1114.5,804.8 1119.5,806.2 1124.5,807.6 1129.5,809.1 1134.5,810.5 1139.5,812.0 1144.5,813.4 1149.5,814.9 1154.5,816.4 1159.5,817.8 1164.5,819.3 1169.5,820.7 1174.5,822.2 1179.5,823.7 1184.5,825.1 1189.5,826.6 1194.5,828.1 1199.5,829.6 1204.5,831.1 1209.5,832.6 1214.5,834.0 1219.5,835.5 1224.5,837.0 1229.5,838.6 1234.5,840.1 1239.5,841.6 1244.5,843.1 1249.5,844.6 1254.5,846.1 1259.5,847.7 1264.5,849.2 1269.5,850.8 1274.5,852.3 1279.5,853.9 1284.5,855.4 1289.5,857.0 1294.5,858.6 1299.5,860.2 1304.5,861.8 1309.5,863.4 1314.5,865.0 1319.5,866.6 1324.5,868.2 1329.5,869.8 1334.5,871.4 1339.5,873.1 1344.5,874.7 1349.5,876.4 1354.5,878.0 1359.5,879.7 1364.5,881.4 1369.5,883.1 1374.5,884.8 1379.5,886.5 1384.5,888.2 1389.5,889.9 1394.5,891.6 1399.5,893.4 1404.5,895.1 1409.5,896.9 1414.5,898.7 1419.5,900.4 1424.5,902.2 1429.5,904.0 1434.5,905.8 1439.5,907.7 1444.5,909.5 1449.5,911.3 1454.5,913.2 1459.5,915.0 1464.5,916.9 1469.5,918.8 1474.5,920.7 1479.5,922.6 1484.5,924.5 1489.5,926.4 1494.5,928.4 1499.5,930.3 1504.5,932.3 1509.5,934.2 1514.5,936.2 1519.5,938.2 1524.5,940.2 1529.5,942.2 1534.5,944.2 1539.5,946.3 1544.5,948.3 1549.5,950.4 1554.5,952.5 1559.5,954.5 1564.5,956.6 1569.5,958.8 1574.5,960.9 1579.5,963.0 1584.5,965.1 1589.5,967.3 1594.5,969.5 1599.5,971.7 1604.5,973.9 1609.5,976.1 1614.5,978.3 1619.5,980.5 1624.5,982.8 1629.5,985.0 1634.5,987.3 1639.5,989.6 1644.5,991.9 1649.5,994.2 1654.5,996.5 1659.5,998.9 1664.5,1001.2 1669.5,1003.6 1674.5,1006.0 1679.5,1008.3 1684.5,1010.8 1689.5,1013.2 1694.5,1015.6 1699.5,1018.1 1704.5,1020.5 1709.5,1023.0 1714.5,1025.5 1719.5,1028.0 1724.5,1030.5 1729.5,1033.1 1734.5,1035.6 1739.5,1038.2 1744.5,1040.8 1749.5,1043.3 1754.5,1046.0 1759.5,1048.6 1764.5,1051.2 1769.5,1053.9 1774.5,1056.5 1779.5,1059.2 1784.5,1061.9 1789.5,1064.7 1794.5,1067.4 1799.5,1070.1 1804.5,1072.9 1809.5,1075.7 1814.5,1078.5 1819.5,1081.3 1824.5,1084.1 1829.5,1087.0 1834.5,1089.8 1839.5,1092.7 1844.5,1095.6 1849.5,1098.5 1854.5,1101.4 1859.5,1104.4 1864.5,1107.3 1869.5,1110.3 1874.5,1113.3 1879.5,1116.3 1884.5,1119.3 1889.5,1122.4 1894.5,1125.4 1899.5,1128.5 1904.5,1131.6 1909.5,1134.7 1914.5,1137.8 1919.5,1141.0 1924.5,1144.2 1929.5,1147.4 1934.5,1150.6 1939.5,1153.9 1944.5,1157.2 1949.5,1160.5 1954.5,1163.8 1959.5,1167.2 1964.5,1170.6 1969.5,1174.1 1974.5,1177.6 1979.5,1181.1 1984.5,1184.7 1989.5,1188.3 1994.5,1192.0 1999.5,1195.7 2004.5,1199.5 2009.5,1203.3 2014.5,1207.2 2019.5,1211.1 2024.5,1215.1 2029.5,1219.1 2034.5,1223.1 2039.5,1227.2 2044.5,1231.4 2049.5,1235.6 2054.5,1239.8 2059.5,1244.1 2064.5,1248.5 2069.5,1252.9 2074.5,1257.3 2079.5,1261.8 2084.5,1266.4 2089.5,1271.0 2094.5,1275.6 2099.5,1280.3 2104.5,1285.1 2109.5,1289.9 2114.5,1294.7 2119.5,1299.6 2124.5,1304.6 2129.5,1309.7 2134.5,1314.8 2139.5,1320.0 2144.5,1325.3 2149.5,1330.7 2154.5,1336.2 2159.5,1341.8 2164.5,1347.5 2169.5,1353.3 2174.5,1359.2 2179.5,1365.2 2184.5,1371.3 2189.5,1377.6 2194.5,1384.0 2199.5,1390.5 2204.5,1397.2 2209.5,1404.0 2214.5,1411.0 2219.5,1418.2 2224.5,1425.5 2229.5,1432.9 2234.5,1440.6 2239.5,1448.5 2244.5,1456.5 2249.5,1464.7 2254.5,1473.2 2259.5,1481.9 2264.5,1490.7 2269.5,1499.8 2274.5,1509.2 2279.0,1545.0 2279.7,1600.0 2280.0,1700.0"/>
</g>
<g stroke="#000" stroke-width="7" fill="none" shape-rendering="crispEdges">
<path d="M349.0 119.6H2316.3"/>
<path d="M376.5 1678.0H2316.3"/>
<path d="M380.0 116.1V1708.0"/>
<path d="M2312.8 116.1V1681.5"/>
<path d="M484.2 1678.0V1693.0M484.2 119.6V135.0M588.0 1678.0V1708.0M588.0 119.6V150.0M691.8 1678.0V1693.0M691.8 119.6V135.0M795.6 1678.0V1708.0M795.6 119.6V150.0M899.4 1678.0V1693.0M899.4 119.6V135.0M1003.2 1678.0V1708.0M1003.2 119.6V150.0M1107.0 1678.0V1693.0M1107.0 119.6V135.0M1210.8 1678.0V1708.0M1210.8 119.6V150.0M1314.6 1678.0V1693.0M1314.6 119.6V135.0M1418.4 1678.0V1708.0M1418.4 119.6V150.0M1522.2 1678.0V1693.0M1522.2 119.6V135.0M1626.0 1678.0V1708.0M1626.0 119.6V150.0M1729.8 1678.0V1693.0M1729.8 119.6V135.0M1833.6 1678.0V1708.0M1833.6 119.6V150.0M1937.4 1678.0V1693.0M1937.4 119.6V135.0M2041.2 1678.0V1708.0M2041.2 119.6V150.0M2145.0 1678.0V1693.0M2145.0 119.6V135.0M2248.8 1678.0V1708.0M2248.8 119.6V150.0M364.0 175.3H380.0M2312.8 175.3H2297.0M364.0 237.6H380.0M2312.8 237.6H2297.0M364.0 308.2H380.0M2312.8 308.2H2297.0M364.0 389.7H380.0M2312.8 389.7H2297.0M364.0 486.2H380.0M2312.8 486.2H2297.0M364.0 604.2H380.0M2312.8 604.2H2297.0M364.0 756.3H380.0M2312.8 756.3H2297.0M364.0 970.7H380.0M2312.8 970.7H2297.0M349.0 1337.3H380.0M2312.8 1337.3H2281.0M364.0 1393.0H380.0M2312.8 1393.0H2297.0M364.0 1455.3H380.0M2312.8 1455.3H2297.0M364.0 1525.9H380.0M2312.8 1525.9H2297.0M364.0 1607.4H380.0M2312.8 1607.4H2297.0"/>
</g>
<g font-family="'Liberation Sans', sans-serif" fill="#000">
<text x="380.7" y="1807.5" font-size="104.5" text-anchor="middle">10</text>
<text x="588.3" y="1807.5" font-size="104.5" text-anchor="middle">20</text>
<text x="795.9" y="1807.5" font-size="104.5" text-anchor="middle">30</text>
<text x="1003.5" y="1807.5" font-size="104.5" text-anchor="middle">40</text>
<text x="1211.1" y="1807.5" font-size="104.5" text-anchor="middle">50</text>
<text x="1418.7" y="1807.5" font-size="104.5" text-anchor="middle">60</text>
<text x="1626.3" y="1807.5" font-size="104.5" text-anchor="middle">70</text>
<text x="1833.9" y="1807.5" font-size="104.5" text-anchor="middle">80</text>
<text x="2041.5" y="1807.5" font-size="104.5" text-anchor="middle">90</text>
<text x="2249.1" y="1807.5" font-size="104.5" text-anchor="middle">100</text>
<text x="151.5" y="157.5" font-size="103">10<tspan dy="-42" dx="-1" font-size="70">-4</tspan></text>
<text x="151.5" y="1375.7" font-size="103">10<tspan dy="-42.5" dx="-1" font-size="70">-5</tspan></text>
<text x="1355" y="1933" font-size="105" letter-spacing="1.2" text-anchor="middle">Time t (min)</text>
<text transform="translate(138.3 1250.7) rotate(-90)" font-size="104" letter-spacing="1.4">R(t) - R(100min)(m<tspan font-family="'Liberation Serif', serif">&#937;</tspan>)</text>
<text x="1471.7" y="587.1" font-size="82">381.0K</text>
<text x="1699.6" y="1347.3" font-size="82">360.3K</text>
</g>
<g stroke="#000" stroke-width="3.6" fill="none" shape-rendering="crispEdges">
<path d="M577.0 901.8H1313.0M577.0 1513.5H1314.8M578.8 901.8V1519.5M627.7 1513.5V1525.0M627.7 901.8V914.3M676.7 1513.5V1519.5M676.7 901.8V908.3M725.7 1513.5V1525.0M725.7 901.8V914.3M774.7 1513.5V1519.5M774.7 901.8V908.3M823.7 1513.5V1525.0M823.7 901.8V914.3M872.7 1513.5V1519.5M872.7 901.8V908.3M921.7 1513.5V1525.0M921.7 901.8V914.3M970.7 1513.5V1519.5M970.7 901.8V908.3M1019.7 1513.5V1525.0M1019.7 901.8V914.3M1068.7 1513.5V1519.5M1068.7 901.8V908.3M1117.7 1513.5V1525.0M1117.7 901.8V914.3M1166.7 1513.5V1519.5M1166.7 901.8V908.3M1215.7 1513.5V1525.0M1215.7 901.8V914.3M1264.7 1513.5V1519.5M1264.7 901.8V908.3M1313.7 1513.5V1525.0M573.0 1497.8H578.8M568.0 1446.0H578.8M573.0 1394.2H578.8M568.0 1342.4H578.8M573.0 1290.6H578.8M568.0 1238.8H578.8M573.0 1187.0H578.8M568.0 1135.2H578.8M573.0 1083.4H578.8M568.0 1031.6H578.8M573.0 979.8H578.8M568.0 928.0H578.8"/>
</g>
<g stroke="#F00" stroke-width="4" fill="none" shape-rendering="crispEdges">
<path d="M1313.0 900.0V1515.3M1301.4 1513.4H1313.0M1305.7 1445.6H1313.0M1301.4 1377.7H1313.0M1305.7 1309.9H1313.0M1301.4 1242.0H1313.0M1305.7 1174.2H1313.0M1301.4 1106.3H1313.0M1305.7 1038.5H1313.0M1301.4 970.6H1313.0"/>
</g>
<polyline fill="none" stroke="#000" stroke-width="1.3" points="634.3,972.0 645.5,981.0 656.2,990.6 666.4,1000.4 676.1,1010.6 685.4,1020.8 694.2,1031.0 702.6,1041.1 710.6,1051.1 718.2,1060.9 725.4,1070.6 732.3,1079.9 738.8,1089.1 745.0,1098.7 750.9,1108.5 756.6,1118.5 761.9,1128.3 767.0,1138.0 771.9,1147.5 776.6,1156.7 781.1,1165.5 785.4,1174.0 789.5,1182.0 793.5,1189.7 797.4,1197.0 801.2,1203.9 804.9,1210.5 808.5,1216.6 812.0,1222.3 815.6,1227.7 819.0,1232.8 822.4,1237.8 825.8,1242.5 829.1,1247.1 832.3,1251.5 835.5,1255.7 838.7,1259.8 841.8,1263.7 844.9,1267.6 848.0,1271.3 851.0,1274.9 854.0,1278.5 857.0,1281.9 860.0,1285.3 862.9,1288.6 865.8,1291.8 868.7,1295.0 871.6,1298.2 874.4,1301.3 877.3,1304.4 880.1,1307.4 882.9,1310.5 885.8,1313.5 888.6,1316.6 891.4,1319.6 894.2,1322.7 897.1,1325.8 899.9,1328.9 902.7,1332.0 905.5,1335.1 908.4,1338.2 911.2,1341.3 914.0,1344.4 916.8,1347.4 919.6,1350.4 922.5,1353.4 925.3,1356.4 928.1,1359.3 930.9,1362.1 933.8,1365.0 936.6,1367.7 939.4,1370.4 942.2,1373.0 945.0,1375.6 947.9,1378.1 950.7,1380.5 953.5,1382.8 956.3,1385.0 959.1,1387.2 962.0,1389.2 964.8,1391.1 967.6,1393.0 970.4,1394.8 973.2,1396.6 976.0,1398.4 978.9,1400.1 981.7,1401.7 984.5,1403.3 987.3,1404.9 990.1,1406.4 992.9,1407.9 995.7,1409.3 998.5,1410.7 1001.3,1412.1 1004.1,1413.4 1006.9,1414.6 1009.7,1415.9 1012.5,1417.0 1015.3,1418.2 1018.1,1419.3 1020.9,1420.3 1023.7,1421.4 1026.5,1422.4 1029.3,1423.3 1032.0,1424.2 1034.8,1425.1 1037.6,1426.0 1040.3,1426.8 1043.1,1427.6 1045.9,1428.3 1048.6,1429.1 1051.4,1429.8 1054.1,1430.6 1056.9,1431.3 1059.6,1432.0 1062.4,1432.6 1065.2,1433.3 1067.9,1433.9 1070.7,1434.5 1073.5,1435.1 1076.3,1435.7 1079.1,1436.2 1081.9,1436.7 1084.7,1437.2 1087.5,1437.7 1090.3,1438.1 1093.2,1438.5 1096.0,1438.9 1098.9,1439.3 1101.7,1439.6 1104.6,1439.9 1107.5,1440.1 1110.5,1440.4 1113.4,1440.6 1116.4,1440.8 1119.3,1441.0 1122.4,1441.2 1125.5,1441.3 1128.7,1441.5 1131.9,1441.7 1135.2,1441.9 1138.7,1442.2 1142.3,1442.4 1146.0,1442.7 1149.8,1443.0 1153.8,1443.3 1158.0,1443.7 1162.3,1444.2 1166.9,1444.7 1171.6,1445.4 1176.6,1446.2 1181.8,1447.2 1187.2,1448.4 1192.9,1449.8 1198.8,1451.4 1205.0,1453.3 1211.5,1455.4 1218.3,1457.7 1225.5,1460.2 1232.9,1462.9"/>
<g fill="#000">
<rect x="625.8" y="963.5" width="17" height="17"/>
<rect x="727.2" y="1067.8" width="17" height="17"/>
<rect x="805.2" y="1222.9" width="17" height="17"/>
<rect x="880.1" y="1308.9" width="17" height="17"/>
<rect x="954.9" y="1385.2" width="17" height="17"/>
<rect x="1029.5" y="1419.2" width="17" height="17"/>
<rect x="1101.5" y="1432.9" width="17" height="17"/>
<rect x="1157.2" y="1434.4" width="17" height="17"/>
<rect x="1224.4" y="1454.4" width="17" height="17"/>
</g>
<polyline fill="none" stroke="#F00" stroke-width="1.3" points="633.7,1005.7 645.0,1006.7 655.7,1008.0 666.0,1009.5 675.8,1011.1 685.1,1012.8 693.9,1014.6 702.4,1016.5 710.4,1018.4 718.0,1020.3 725.3,1022.2 732.2,1024.1 738.7,1026.0 744.9,1028.1 750.9,1030.4 756.5,1032.8 761.9,1035.3 767.0,1037.8 771.9,1040.4 776.6,1042.9 781.1,1045.4 785.4,1047.9 789.5,1050.4 793.5,1052.8 797.4,1055.1 801.2,1057.4 804.9,1059.6 808.5,1061.8 812.0,1063.9 815.6,1066.0 819.0,1068.0 822.4,1070.0 825.8,1072.0 829.1,1074.0 832.3,1076.0 835.5,1077.9 838.7,1079.9 841.8,1081.8 844.9,1083.7 848.0,1085.6 851.0,1087.5 854.0,1089.4 857.0,1091.3 859.9,1093.1 862.9,1095.0 865.8,1096.9 868.7,1098.8 871.5,1100.7 874.4,1102.6 877.2,1104.5 880.1,1106.4 882.9,1108.3 885.7,1110.3 888.5,1112.2 891.4,1114.2 894.2,1116.2 897.0,1118.1 899.8,1120.1 902.6,1122.1 905.5,1124.1 908.3,1126.2 911.1,1128.2 913.9,1130.3 916.7,1132.4 919.6,1134.5 922.4,1136.6 925.2,1138.8 928.0,1141.0 930.8,1143.2 933.6,1145.4 936.5,1147.7 939.3,1150.0 942.1,1152.3 944.9,1154.7 947.7,1157.1 950.6,1159.6 953.4,1162.0 956.2,1164.6 959.0,1167.1 961.8,1169.8 964.6,1172.4 967.5,1175.1 970.3,1177.9 973.1,1180.7 975.9,1183.6 978.7,1186.5 981.6,1189.5 984.4,1192.5 987.2,1195.6 990.0,1198.7 992.8,1201.8 995.6,1205.0 998.4,1208.2 1001.2,1211.5 1004.1,1214.8 1006.9,1218.1 1009.7,1221.5 1012.5,1224.9 1015.3,1228.4 1018.1,1231.9 1020.8,1235.4 1023.6,1238.9 1026.4,1242.5 1029.2,1246.0 1032.0,1249.6 1034.8,1253.3 1037.5,1256.9 1040.3,1260.6 1043.1,1264.4 1045.8,1268.2 1048.6,1272.1 1051.3,1276.0 1054.1,1280.0 1056.9,1284.1 1059.6,1288.2 1062.4,1292.3 1065.2,1296.4 1067.9,1300.6 1070.7,1304.8 1073.5,1309.0 1076.3,1313.2 1079.1,1317.4 1081.9,1321.7 1084.7,1325.9 1087.5,1330.1 1090.3,1334.3 1093.2,1338.5 1096.0,1342.7 1098.9,1346.8 1101.7,1350.9 1104.6,1355.0 1107.5,1359.0 1110.5,1362.9 1113.4,1366.9 1116.4,1370.9 1119.3,1374.9 1122.4,1378.9 1125.5,1383.0 1128.7,1387.1 1131.9,1391.3 1135.2,1395.4 1138.7,1399.6 1142.3,1403.8 1146.0,1408.0 1149.8,1412.2 1153.8,1416.3 1158.0,1420.3 1162.3,1424.2 1166.9,1427.9 1171.6,1431.6 1176.6,1435.4 1181.8,1439.1 1187.2,1442.9 1192.9,1446.7 1198.8,1450.5 1205.0,1454.2 1211.5,1457.7 1218.3,1461.1 1225.5,1464.3 1232.9,1467.1"/>
<g fill="#F00">
<rect x="625.2" y="997.2" width="17" height="17"/>
<rect x="727.2" y="1012.9" width="17" height="17"/>
<rect x="805.2" y="1055.8" width="17" height="17"/>
<rect x="880.1" y="1102.9" width="17" height="17"/>
<rect x="954.7" y="1160.1" width="17" height="17"/>
<rect x="1029.5" y="1246.9" width="17" height="17"/>
<rect x="1101.5" y="1355.8" width="17" height="17"/>
<rect x="1157.2" y="1422.9" width="17" height="17"/>
<rect x="1224.4" y="1458.6" width="17" height="17"/>
</g>
<path d="M787.7 1233.7H688" stroke="#000" stroke-width="6" fill="none"/><path d="M658.6 1233.7L690.9 1225V1242.4Z" fill="#000"/>
<path d="M982.9 1170.6H1105" stroke="#F00" stroke-width="5.6" fill="none"/><path d="M1137.1 1170.6L1102.9 1161.6V1179.6Z" fill="#F00"/>
<g font-family="'Liberation Sans', sans-serif" fill="#000">
<text x="628.3" y="1565.5" font-size="38" letter-spacing="1.7" text-anchor="middle">360</text>
<text x="726.3" y="1565.5" font-size="38" letter-spacing="1.7" text-anchor="middle">365</text>
<text x="824.3" y="1565.5" font-size="38" letter-spacing="1.7" text-anchor="middle">370</text>
<text x="922.3" y="1565.5" font-size="38" letter-spacing="1.7" text-anchor="middle">375</text>
<text x="1020.3" y="1565.5" font-size="38" letter-spacing="1.7" text-anchor="middle">380</text>
<text x="1118.3" y="1565.5" font-size="38" letter-spacing="1.7" text-anchor="middle">385</text>
<text x="1216.3" y="1565.5" font-size="38" letter-spacing="1.7" text-anchor="middle">390</text>
<text x="1314.3" y="1565.5" font-size="38" letter-spacing="1.7" text-anchor="middle">395</text>
<text x="559.5" y="1457.3" font-size="38" letter-spacing="1.2" text-anchor="end">4</text>
<text x="559.5" y="1353.7" font-size="38" letter-spacing="1.2" text-anchor="end">8</text>
<text x="559.5" y="1250.1" font-size="38" letter-spacing="1.2" text-anchor="end">12</text>
<text x="559.5" y="1146.5" font-size="38" letter-spacing="1.2" text-anchor="end">16</text>
<text x="559.5" y="1042.9" font-size="38" letter-spacing="1.2" text-anchor="end">20</text>
<text x="559.5" y="939.3" font-size="38" letter-spacing="1.2" text-anchor="end">24</text>
<text x="946.8" y="1631.4" font-size="50.5" letter-spacing="0.6" text-anchor="middle">Temperature T (K)</text>
<text transform="translate(469.4 1445) rotate(-90)" font-size="52" letter-spacing="1.07">Time constant <tspan font-family="'Liberation Serif', serif">&#964;</tspan><tspan dy="12" font-size="34">2</tspan><tspan dy="-12"> (h)</tspan></text>
</g>
<g font-family="'Liberation Sans', sans-serif" fill="#F00">
<text x="1325" y="1524.0" font-size="38" letter-spacing="1.2">0.1</text>
<text x="1325" y="1388.3" font-size="38" letter-spacing="1.2">0.2</text>
<text x="1325" y="1252.6" font-size="38" letter-spacing="1.2">0.3</text>
<text x="1325" y="1116.9" font-size="38" letter-spacing="1.2">0.4</text>
<text x="1325" y="981.2" font-size="38" letter-spacing="1.2">0.5</text>
<text transform="translate(1430 1411.5) rotate(-90)" font-size="51" letter-spacing="0.44">Prefactor A<tspan dy="12" font-size="34">2</tspan><tspan dy="-12"> (m</tspan><tspan font-family="'Liberation Serif', serif">&#937;</tspan>)</text>
</g>
</svg>
</body></html>
